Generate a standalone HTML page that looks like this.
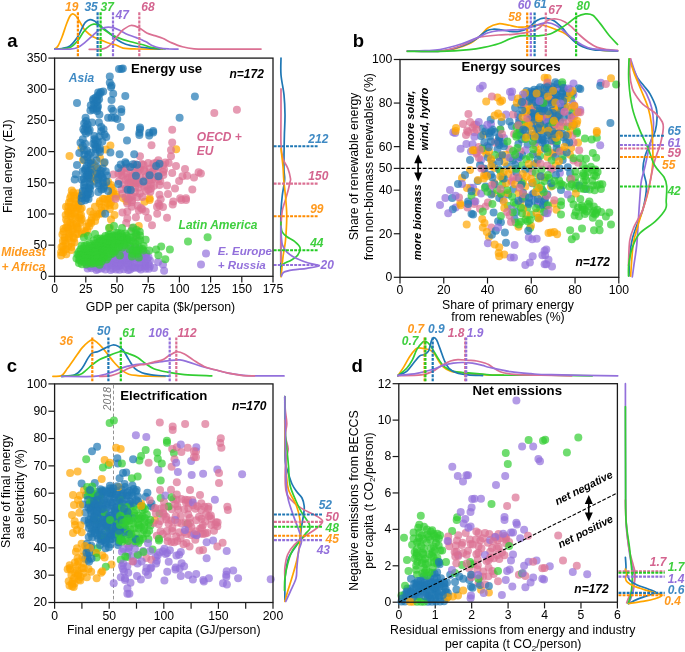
<!DOCTYPE html>
<html><head><meta charset="utf-8"><title>Figure</title>
<style>html,body{margin:0;padding:0;background:#fff;width:685px;height:652px;overflow:hidden}svg{display:block}#w{width:685px;height:652px;will-change:transform}</style>
</head><body><div id="w">
<svg width="685" height="652" viewBox="0 0 685 652" font-family="'Liberation Sans', sans-serif">
<rect width="685" height="652" fill="#fff"/>
<text x="7.2" y="46.5" font-size="18.5" font-weight="bold" font-style="normal" fill="#000" text-anchor="start">a</text>
<text x="352.8" y="46.8" font-size="18.5" font-weight="bold" font-style="normal" fill="#000" text-anchor="start">b</text>
<text x="6.8" y="372.2" font-size="18.5" font-weight="bold" font-style="normal" fill="#000" text-anchor="start">c</text>
<text x="351.4" y="371.6" font-size="18.5" font-weight="bold" font-style="normal" fill="#000" text-anchor="start">d</text>
<line x1="54.6" y1="276.3" x2="54.6" y2="282.5" stroke="#1a1a1a" stroke-width="1.2"/>
<text x="54.6" y="293.3" font-size="12.2" font-weight="normal" font-style="normal" fill="#000" text-anchor="middle">0</text>
<line x1="85.8" y1="276.3" x2="85.8" y2="282.5" stroke="#1a1a1a" stroke-width="1.2"/>
<text x="85.8" y="293.3" font-size="12.2" font-weight="normal" font-style="normal" fill="#000" text-anchor="middle">25</text>
<line x1="117" y1="276.3" x2="117" y2="282.5" stroke="#1a1a1a" stroke-width="1.2"/>
<text x="117" y="293.3" font-size="12.2" font-weight="normal" font-style="normal" fill="#000" text-anchor="middle">50</text>
<line x1="148.2" y1="276.3" x2="148.2" y2="282.5" stroke="#1a1a1a" stroke-width="1.2"/>
<text x="148.2" y="293.3" font-size="12.2" font-weight="normal" font-style="normal" fill="#000" text-anchor="middle">75</text>
<line x1="179.4" y1="276.3" x2="179.4" y2="282.5" stroke="#1a1a1a" stroke-width="1.2"/>
<text x="179.4" y="293.3" font-size="12.2" font-weight="normal" font-style="normal" fill="#000" text-anchor="middle">100</text>
<line x1="210.6" y1="276.3" x2="210.6" y2="282.5" stroke="#1a1a1a" stroke-width="1.2"/>
<text x="210.6" y="293.3" font-size="12.2" font-weight="normal" font-style="normal" fill="#000" text-anchor="middle">125</text>
<line x1="241.8" y1="276.3" x2="241.8" y2="282.5" stroke="#1a1a1a" stroke-width="1.2"/>
<text x="241.8" y="293.3" font-size="12.2" font-weight="normal" font-style="normal" fill="#000" text-anchor="middle">150</text>
<line x1="273" y1="276.3" x2="273" y2="282.5" stroke="#1a1a1a" stroke-width="1.2"/>
<text x="273" y="293.3" font-size="12.2" font-weight="normal" font-style="normal" fill="#000" text-anchor="middle">175</text>
<line x1="48.4" y1="276.3" x2="54.6" y2="276.3" stroke="#1a1a1a" stroke-width="1.2"/>
<text x="47" y="280.2" font-size="12.2" font-weight="normal" font-style="normal" fill="#000" text-anchor="end">0</text>
<line x1="48.4" y1="245.129" x2="54.6" y2="245.129" stroke="#1a1a1a" stroke-width="1.2"/>
<text x="47" y="249.029" font-size="12.2" font-weight="normal" font-style="normal" fill="#000" text-anchor="end">50</text>
<line x1="48.4" y1="213.957" x2="54.6" y2="213.957" stroke="#1a1a1a" stroke-width="1.2"/>
<text x="47" y="217.857" font-size="12.2" font-weight="normal" font-style="normal" fill="#000" text-anchor="end">100</text>
<line x1="48.4" y1="182.786" x2="54.6" y2="182.786" stroke="#1a1a1a" stroke-width="1.2"/>
<text x="47" y="186.686" font-size="12.2" font-weight="normal" font-style="normal" fill="#000" text-anchor="end">150</text>
<line x1="48.4" y1="151.614" x2="54.6" y2="151.614" stroke="#1a1a1a" stroke-width="1.2"/>
<text x="47" y="155.514" font-size="12.2" font-weight="normal" font-style="normal" fill="#000" text-anchor="end">200</text>
<line x1="48.4" y1="120.443" x2="54.6" y2="120.443" stroke="#1a1a1a" stroke-width="1.2"/>
<text x="47" y="124.343" font-size="12.2" font-weight="normal" font-style="normal" fill="#000" text-anchor="end">250</text>
<line x1="48.4" y1="89.2714" x2="54.6" y2="89.2714" stroke="#1a1a1a" stroke-width="1.2"/>
<text x="47" y="93.1714" font-size="12.2" font-weight="normal" font-style="normal" fill="#000" text-anchor="end">300</text>
<line x1="48.4" y1="58.1" x2="54.6" y2="58.1" stroke="#1a1a1a" stroke-width="1.2"/>
<text x="47" y="62" font-size="12.2" font-weight="normal" font-style="normal" fill="#000" text-anchor="end">350</text>
<path d="M54.80,48.80 C55.33,48.33 56.80,47.97 58.00,46.00 C59.20,44.03 60.58,40.67 62.00,37.00 C63.42,33.33 65.17,27.50 66.50,24.00 C67.83,20.50 68.97,17.70 70.00,16.00 C71.03,14.30 71.78,13.88 72.70,13.80 C73.62,13.72 74.67,14.73 75.50,15.50 C76.33,16.27 76.78,16.98 77.70,18.40 C78.62,19.82 79.73,21.95 81.00,24.00 C82.27,26.05 83.30,28.57 85.30,30.70 C87.30,32.83 90.43,35.27 93.00,36.80 C95.57,38.33 98.15,38.87 100.70,39.90 C103.25,40.93 105.87,42.18 108.30,43.00 C110.73,43.82 112.83,43.95 115.30,44.80 C117.77,45.65 119.60,47.40 123.10,48.10 C126.60,48.80 129.72,48.83 136.30,49.00 C142.88,49.17 158.22,49.08 162.60,49.10" stroke="#ffa500" stroke-width="1.7" fill="none" stroke-linejoin="round" stroke-linecap="round"/>
<path d="M54.80,49.10 C56.00,49.00 59.47,49.02 62.00,48.50 C64.53,47.98 67.38,47.95 70.00,46.00 C72.62,44.05 75.65,39.87 77.70,36.80 C79.75,33.73 81.03,30.02 82.30,27.60 C83.57,25.18 84.02,23.63 85.30,22.30 C86.58,20.97 88.47,19.80 90.00,19.60 C91.53,19.40 93.37,20.53 94.50,21.10 C95.63,21.67 95.77,22.17 96.80,23.00 C97.83,23.83 98.78,24.57 100.70,26.10 C102.62,27.63 106.25,30.55 108.30,32.20 C110.35,33.85 111.40,34.67 113.00,36.00 C114.60,37.33 115.77,38.83 117.90,40.20 C120.03,41.57 122.73,43.15 125.80,44.20 C128.87,45.25 132.37,45.85 136.30,46.50 C140.23,47.15 145.45,47.68 149.40,48.10 C153.35,48.52 158.23,48.85 160.00,49.00" stroke="#1f77b4" stroke-width="1.7" fill="none" stroke-linejoin="round" stroke-linecap="round"/>
<path d="M54.80,49.10 C56.00,49.05 59.47,49.05 62.00,48.80 C64.53,48.55 67.38,48.95 70.00,47.60 C72.62,46.25 75.40,43.38 77.70,40.70 C80.00,38.02 81.88,33.93 83.80,31.50 C85.72,29.07 87.53,27.32 89.20,26.10 C90.87,24.88 92.27,24.38 93.80,24.20 C95.33,24.02 97.25,24.55 98.40,25.00 C99.55,25.45 99.68,26.07 100.70,26.90 C101.72,27.73 102.95,28.87 104.50,30.00 C106.05,31.13 107.77,32.43 110.00,33.70 C112.23,34.97 114.62,36.30 117.90,37.60 C121.18,38.90 125.53,40.30 129.70,41.50 C133.87,42.70 139.18,43.80 142.90,44.80 C146.62,45.80 148.28,46.80 152.00,47.50 C155.72,48.20 163.00,48.75 165.20,49.00" stroke="#32cd32" stroke-width="1.7" fill="none" stroke-linejoin="round" stroke-linecap="round"/>
<path d="M54.80,49.20 C57.33,49.18 66.18,49.37 70.00,49.10 C73.82,48.83 75.15,48.75 77.70,47.60 C80.25,46.45 82.75,44.25 85.30,42.20 C87.85,40.15 90.70,37.33 93.00,35.30 C95.30,33.27 97.18,31.28 99.10,30.00 C101.02,28.72 102.97,28.08 104.50,27.60 C106.03,27.12 106.88,27.10 108.30,27.10 C109.72,27.10 111.40,27.20 113.00,27.60 C114.60,28.00 115.77,28.48 117.90,29.50 C120.03,30.52 122.73,32.35 125.80,33.70 C128.87,35.05 133.02,36.30 136.30,37.60 C139.58,38.90 142.88,40.18 145.50,41.50 C148.12,42.82 149.58,44.40 152.00,45.50 C154.42,46.60 157.15,47.52 160.00,48.10 C162.85,48.68 166.10,48.83 169.10,49.00 C172.10,49.17 176.52,49.08 178.00,49.10" stroke="#9370db" stroke-width="1.7" fill="none" stroke-linejoin="round" stroke-linecap="round"/>
<path d="M89.20,49.30 C91.12,49.30 97.77,49.58 100.70,49.30 C103.63,49.02 104.88,48.65 106.80,47.60 C108.72,46.55 110.78,44.45 112.20,43.00 C113.62,41.55 114.03,40.50 115.30,38.90 C116.57,37.30 118.50,34.93 119.80,33.40 C121.10,31.87 121.23,31.02 123.10,29.70 C124.97,28.38 128.37,25.83 131.00,25.50 C133.63,25.17 136.27,26.45 138.90,27.70 C141.53,28.95 144.17,31.68 146.80,33.00 C149.43,34.32 152.07,34.72 154.70,35.60 C157.33,36.48 159.75,37.08 162.60,38.30 C165.45,39.52 168.52,41.48 171.80,42.90 C175.08,44.32 178.58,45.82 182.30,46.80 C186.02,47.78 189.48,48.42 194.10,48.80 C198.72,49.18 198.85,49.05 210.00,49.10 C221.15,49.15 252.50,49.10 261.00,49.10" stroke="#db7093" stroke-width="1.7" fill="none" stroke-linejoin="round" stroke-linecap="round"/>
<line x1="77.9" y1="12.3" x2="77.9" y2="56.6" stroke="#ff8c00" stroke-width="2.2" stroke-dasharray="2.9 1.2"/>
<line x1="97.6" y1="12.3" x2="97.6" y2="56.6" stroke="#1f77b4" stroke-width="2.2" stroke-dasharray="2.9 1.2"/>
<line x1="100.6" y1="12.3" x2="100.6" y2="56.6" stroke="#22cc22" stroke-width="2.2" stroke-dasharray="2.9 1.2"/>
<line x1="113" y1="12.3" x2="113" y2="56.6" stroke="#9370db" stroke-width="2.2" stroke-dasharray="2.9 1.2"/>
<line x1="139.3" y1="12.3" x2="139.3" y2="56.6" stroke="#db7093" stroke-width="2.2" stroke-dasharray="2.9 1.2"/>
<text x="71.8" y="10.6" font-size="12" font-weight="bold" font-style="italic" fill="#ff9a1f" text-anchor="middle">19</text>
<text x="91.1" y="10.6" font-size="12" font-weight="bold" font-style="italic" fill="#3f8ac4" text-anchor="middle">35</text>
<text x="107.2" y="10.6" font-size="12" font-weight="bold" font-style="italic" fill="#3fcf3f" text-anchor="middle">37</text>
<text x="122.3" y="18.7" font-size="12" font-weight="bold" font-style="italic" fill="#9370db" text-anchor="middle">47</text>
<text x="148" y="11.2" font-size="12" font-weight="bold" font-style="italic" fill="#d4648f" text-anchor="middle">68</text>
<path d="M281.00,58.00 C281.00,60.83 280.50,68.85 281.00,75.00 C281.50,81.15 283.33,88.27 284.00,94.90 C284.67,101.53 284.93,108.15 285.00,114.80 C285.07,121.45 284.57,128.15 284.40,134.80 C284.23,141.45 284.07,148.83 284.00,154.70 C283.93,160.57 283.90,165.78 284.00,170.00 C284.10,174.22 284.88,175.77 284.60,180.00 C284.32,184.23 282.90,190.28 282.30,195.40 C281.70,200.52 281.25,206.10 281.00,210.70 C280.75,215.30 280.83,218.12 280.80,223.00 C280.77,227.88 280.80,231.17 280.80,240.00 C280.80,248.83 280.80,270.00 280.80,276.00" stroke="#1f77b4" stroke-width="1.7" fill="none" stroke-linejoin="round" stroke-linecap="round"/>
<path d="M281.00,88.90 C281.00,93.22 281.00,105.50 281.00,114.80 C281.00,124.10 280.67,137.38 281.00,144.70 C281.33,152.02 281.83,154.70 283.00,158.70 C284.17,162.70 286.75,165.38 288.00,168.70 C289.25,172.02 290.17,176.38 290.50,178.60 C290.83,180.82 290.35,180.23 290.00,182.00 C289.65,183.77 289.17,186.20 288.40,189.20 C287.63,192.20 286.42,196.42 285.40,200.00 C284.38,203.58 283.03,206.37 282.30,210.70 C281.57,215.03 281.25,220.88 281.00,226.00 C280.75,231.12 280.83,235.40 280.80,241.40 C280.77,247.40 280.80,258.57 280.80,262.00" stroke="#db7093" stroke-width="1.7" fill="none" stroke-linejoin="round" stroke-linecap="round"/>
<path d="M281.00,148.70 C281.33,151.70 282.53,161.48 283.00,166.70 C283.47,171.92 283.40,175.22 283.80,180.00 C284.20,184.78 284.93,190.28 285.40,195.40 C285.87,200.52 286.40,206.10 286.60,210.70 C286.80,215.30 286.80,217.88 286.60,223.00 C286.40,228.12 286.00,235.77 285.40,241.40 C284.80,247.03 283.65,251.67 283.00,256.80 C282.35,261.93 281.83,268.87 281.50,272.20 C281.17,275.53 281.08,276.03 281.00,276.80" stroke="#ffa500" stroke-width="1.7" fill="none" stroke-linejoin="round" stroke-linecap="round"/>
<path d="M281.00,222.00 C281.00,222.67 280.78,224.30 281.00,226.00 C281.22,227.70 281.32,230.40 282.30,232.20 C283.28,234.00 284.85,235.27 286.90,236.80 C288.95,238.33 292.42,239.60 294.60,241.40 C296.78,243.20 299.50,245.28 300.00,247.60 C300.50,249.92 299.02,253.25 297.60,255.30 C296.18,257.35 293.80,258.50 291.50,259.90 C289.20,261.30 285.47,262.68 283.80,263.70 C282.13,264.72 281.88,265.62 281.50,266.00" stroke="#32cd32" stroke-width="1.7" fill="none" stroke-linejoin="round" stroke-linecap="round"/>
<path d="M281.00,226.00 C281.00,226.78 280.78,227.62 281.00,230.70 C281.22,233.78 281.32,240.92 282.30,244.50 C283.28,248.08 284.60,249.90 286.90,252.20 C289.20,254.50 292.52,256.50 296.10,258.30 C299.68,260.10 304.55,261.77 308.40,263.00 C312.25,264.23 319.45,264.82 319.20,265.70 C318.95,266.58 311.27,267.60 306.90,268.30 C302.53,269.00 296.85,269.25 293.00,269.90 C289.15,270.55 285.72,271.18 283.80,272.20 C281.88,273.22 281.88,275.37 281.50,276.00" stroke="#9370db" stroke-width="1.7" fill="none" stroke-linejoin="round" stroke-linecap="round"/>
<line x1="273.7" y1="146.3" x2="318.3" y2="146.3" stroke="#1f77b4" stroke-width="2.1" stroke-dasharray="2.9 1.2"/>
<line x1="273.7" y1="183.6" x2="318.3" y2="183.6" stroke="#db7093" stroke-width="2.1" stroke-dasharray="2.9 1.2"/>
<line x1="273.7" y1="216.3" x2="318.3" y2="216.3" stroke="#ff8c00" stroke-width="2.1" stroke-dasharray="2.9 1.2"/>
<line x1="273.7" y1="250.2" x2="318.3" y2="250.2" stroke="#22cc22" stroke-width="2.1" stroke-dasharray="2.9 1.2"/>
<line x1="273.7" y1="265" x2="318.3" y2="265" stroke="#9370db" stroke-width="2.1" stroke-dasharray="2.9 1.2"/>
<text x="308.3" y="142.7" font-size="12" font-weight="bold" font-style="italic" fill="#3f8ac4" text-anchor="start">212</text>
<text x="308.3" y="180.2" font-size="12" font-weight="bold" font-style="italic" fill="#d4648f" text-anchor="start">150</text>
<text x="310.2" y="213" font-size="12" font-weight="bold" font-style="italic" fill="#ff9a1f" text-anchor="start">99</text>
<text x="310.2" y="246.8" font-size="12" font-weight="bold" font-style="italic" fill="#3fcf3f" text-anchor="start">44</text>
<text x="320.5" y="269.1" font-size="12" font-weight="bold" font-style="italic" fill="#9370db" text-anchor="start">20</text>
<text x="160.5" y="310.7" font-size="12.3" font-weight="normal" font-style="normal" fill="#000" text-anchor="middle">GDP per capita ($k/person)</text>
<text x="12.2" y="166.3" font-size="12.3" font-weight="normal" font-style="normal" fill="#000" text-anchor="middle" transform="rotate(-90 12.2 166.3)">Final energy (EJ)</text>
<g fill="#9370db" fill-opacity="0.7">
<circle cx="125.2" cy="248.4" r="4"/><circle cx="130.1" cy="248.4" r="4"/><circle cx="131.8" cy="248.4" r="4"/><circle cx="135.9" cy="248.6" r="4"/><circle cx="139.5" cy="248.7" r="4"/><circle cx="117.5" cy="252.0" r="4"/><circle cx="121.4" cy="251.1" r="4"/><circle cx="123.9" cy="250.9" r="4"/><circle cx="128.1" cy="251.8" r="4"/><circle cx="131.6" cy="251.6" r="4"/><circle cx="133.1" cy="250.6" r="4"/><circle cx="136.8" cy="251.0" r="4"/><circle cx="141.5" cy="250.9" r="4"/><circle cx="115.5" cy="254.4" r="4"/><circle cx="118.7" cy="253.8" r="4"/><circle cx="123.2" cy="253.3" r="4"/><circle cx="126.0" cy="254.3" r="4"/><circle cx="129.6" cy="253.8" r="4"/><circle cx="131.4" cy="254.5" r="4"/><circle cx="135.5" cy="254.5" r="4"/><circle cx="140.7" cy="254.5" r="4"/><circle cx="142.8" cy="254.7" r="4"/><circle cx="146.3" cy="253.4" r="4"/><circle cx="114.4" cy="257.5" r="4"/><circle cx="119.3" cy="256.8" r="4"/><circle cx="123.9" cy="257.6" r="4"/><circle cx="126.4" cy="257.7" r="4"/><circle cx="130.2" cy="257.5" r="4"/><circle cx="135.3" cy="257.1" r="4"/><circle cx="141.1" cy="257.4" r="4"/><circle cx="145.5" cy="255.9" r="4"/><circle cx="148.5" cy="257.2" r="4"/><circle cx="102.1" cy="260.8" r="4"/><circle cx="109.2" cy="259.0" r="4"/><circle cx="111.6" cy="260.1" r="4"/><circle cx="115.9" cy="260.3" r="4"/><circle cx="118.8" cy="260.0" r="4"/><circle cx="123.2" cy="260.7" r="4"/><circle cx="125.2" cy="260.7" r="4"/><circle cx="130.1" cy="259.9" r="4"/><circle cx="131.5" cy="258.9" r="4"/><circle cx="137.2" cy="259.2" r="4"/><circle cx="140.3" cy="259.2" r="4"/><circle cx="142.4" cy="259.1" r="4"/><circle cx="147.3" cy="258.9" r="4"/><circle cx="150.0" cy="260.7" r="4"/><circle cx="87.6" cy="263.8" r="4"/><circle cx="95.9" cy="263.7" r="4"/><circle cx="98.8" cy="262.1" r="4"/><circle cx="102.0" cy="262.9" r="4"/><circle cx="107.0" cy="262.0" r="4"/><circle cx="110.4" cy="263.4" r="4"/><circle cx="113.4" cy="262.7" r="4"/><circle cx="115.7" cy="263.0" r="4"/><circle cx="120.1" cy="263.4" r="4"/><circle cx="122.7" cy="262.2" r="4"/><circle cx="126.1" cy="262.9" r="4"/><circle cx="129.7" cy="263.1" r="4"/><circle cx="134.1" cy="262.6" r="4"/><circle cx="137.0" cy="264.0" r="4"/><circle cx="141.3" cy="262.0" r="4"/><circle cx="145.0" cy="263.6" r="4"/><circle cx="148.3" cy="263.9" r="4"/><circle cx="87.1" cy="265.2" r="4"/><circle cx="90.5" cy="266.4" r="4"/><circle cx="94.7" cy="266.7" r="4"/><circle cx="98.2" cy="265.5" r="4"/><circle cx="101.3" cy="266.0" r="4"/><circle cx="105.2" cy="265.1" r="4"/><circle cx="107.3" cy="266.6" r="4"/><circle cx="112.1" cy="265.4" r="4"/><circle cx="115.7" cy="266.7" r="4"/><circle cx="118.9" cy="265.9" r="4"/><circle cx="121.0" cy="265.4" r="4"/><circle cx="126.2" cy="267.1" r="4"/><circle cx="128.2" cy="264.9" r="4"/><circle cx="132.2" cy="267.1" r="4"/><circle cx="135.4" cy="267.1" r="4"/><circle cx="140.2" cy="266.9" r="4"/><circle cx="144.3" cy="266.5" r="4"/><circle cx="145.8" cy="265.9" r="4"/><circle cx="149.8" cy="266.4" r="4"/><circle cx="87.6" cy="268.4" r="4"/><circle cx="91.6" cy="268.3" r="4"/><circle cx="96.4" cy="270.0" r="4"/><circle cx="98.3" cy="269.0" r="4"/><circle cx="101.6" cy="268.4" r="4"/><circle cx="105.4" cy="269.5" r="4"/><circle cx="110.6" cy="269.9" r="4"/><circle cx="112.7" cy="268.8" r="4"/><circle cx="116.1" cy="269.5" r="4"/><circle cx="119.6" cy="269.7" r="4"/><circle cx="123.7" cy="269.2" r="4"/><circle cx="128.2" cy="270.1" r="4"/><circle cx="130.2" cy="269.6" r="4"/><circle cx="133.7" cy="267.9" r="4"/><circle cx="138.7" cy="268.3" r="4"/><circle cx="140.8" cy="269.6" r="4"/><circle cx="145.7" cy="268.8" r="4"/><circle cx="148.8" cy="268.8" r="4"/><circle cx="163.0" cy="264.4" r="4"/><circle cx="164.1" cy="270.7" r="4"/><circle cx="206.0" cy="253.5" r="4"/><circle cx="201.0" cy="264.6" r="4"/><circle cx="158.0" cy="262.0" r="4"/><circle cx="154.0" cy="268.0" r="4"/>
</g>
<g fill="#ffa500" fill-opacity="0.7">
<circle cx="66.0" cy="206.7" r="4"/><circle cx="68.3" cy="207.1" r="4"/><circle cx="70.9" cy="206.9" r="4"/><circle cx="76.1" cy="207.8" r="4"/><circle cx="78.0" cy="206.2" r="4"/><circle cx="81.7" cy="207.9" r="4"/><circle cx="68.0" cy="211.6" r="4"/><circle cx="70.6" cy="210.5" r="4"/><circle cx="72.7" cy="208.5" r="4"/><circle cx="77.6" cy="208.6" r="4"/><circle cx="80.2" cy="209.2" r="4"/><circle cx="68.3" cy="213.8" r="4"/><circle cx="71.9" cy="213.8" r="4"/><circle cx="75.5" cy="212.5" r="4"/><circle cx="81.0" cy="214.9" r="4"/><circle cx="65.7" cy="215.1" r="4"/><circle cx="71.0" cy="216.2" r="4"/><circle cx="75.0" cy="216.1" r="4"/><circle cx="79.0" cy="217.7" r="4"/><circle cx="79.5" cy="215.5" r="4"/><circle cx="66.1" cy="219.4" r="4"/><circle cx="72.9" cy="219.0" r="4"/><circle cx="80.9" cy="220.6" r="4"/><circle cx="81.8" cy="218.9" r="4"/><circle cx="67.4" cy="221.9" r="4"/><circle cx="70.3" cy="222.8" r="4"/><circle cx="72.8" cy="223.7" r="4"/><circle cx="76.3" cy="223.4" r="4"/><circle cx="79.9" cy="222.7" r="4"/><circle cx="66.1" cy="227.2" r="4"/><circle cx="67.6" cy="227.4" r="4"/><circle cx="71.0" cy="225.8" r="4"/><circle cx="76.8" cy="226.6" r="4"/><circle cx="78.0" cy="227.8" r="4"/><circle cx="63.6" cy="228.8" r="4"/><circle cx="68.7" cy="229.7" r="4"/><circle cx="72.9" cy="229.7" r="4"/><circle cx="77.1" cy="229.2" r="4"/><circle cx="63.5" cy="231.5" r="4"/><circle cx="69.6" cy="233.7" r="4"/><circle cx="71.1" cy="231.6" r="4"/><circle cx="76.4" cy="234.1" r="4"/><circle cx="78.3" cy="234.1" r="4"/><circle cx="62.4" cy="234.5" r="4"/><circle cx="64.9" cy="237.4" r="4"/><circle cx="69.2" cy="236.5" r="4"/><circle cx="73.0" cy="236.9" r="4"/><circle cx="64.7" cy="240.2" r="4"/><circle cx="68.6" cy="238.3" r="4"/><circle cx="74.0" cy="238.3" r="4"/><circle cx="62.9" cy="241.0" r="4"/><circle cx="65.9" cy="243.6" r="4"/><circle cx="71.7" cy="242.8" r="4"/><circle cx="74.4" cy="242.5" r="4"/><circle cx="61.5" cy="247.0" r="4"/><circle cx="63.0" cy="245.9" r="4"/><circle cx="68.2" cy="246.2" r="4"/><circle cx="71.3" cy="247.1" r="4"/><circle cx="63.7" cy="250.1" r="4"/><circle cx="65.9" cy="249.3" r="4"/><circle cx="71.4" cy="249.9" r="4"/><circle cx="61.1" cy="252.3" r="4"/><circle cx="63.2" cy="252.4" r="4"/><circle cx="61.1" cy="255.5" r="4"/><circle cx="66.3" cy="254.2" r="4"/><circle cx="73.2" cy="192.5" r="4"/><circle cx="71.1" cy="195.6" r="4"/><circle cx="74.1" cy="195.7" r="4"/><circle cx="79.5" cy="196.1" r="4"/><circle cx="74.3" cy="198.6" r="4"/><circle cx="76.4" cy="200.6" r="4"/><circle cx="70.6" cy="202.0" r="4"/><circle cx="75.2" cy="204.3" r="4"/><circle cx="78.5" cy="204.2" r="4"/><circle cx="112.8" cy="192.9" r="4"/><circle cx="111.0" cy="195.0" r="4"/><circle cx="116.3" cy="194.5" r="4"/><circle cx="107.3" cy="199.4" r="4"/><circle cx="109.6" cy="198.6" r="4"/><circle cx="107.7" cy="203.2" r="4"/><circle cx="110.9" cy="202.6" r="4"/><circle cx="101.9" cy="207.2" r="4"/><circle cx="105.1" cy="207.1" r="4"/><circle cx="109.6" cy="205.0" r="4"/><circle cx="101.4" cy="210.8" r="4"/><circle cx="93.4" cy="213.9" r="4"/><circle cx="97.4" cy="214.1" r="4"/><circle cx="102.0" cy="213.4" r="4"/><circle cx="91.8" cy="217.7" r="4"/><circle cx="96.2" cy="216.7" r="4"/><circle cx="91.1" cy="220.7" r="4"/><circle cx="95.1" cy="221.0" r="4"/><circle cx="88.6" cy="223.0" r="4"/><circle cx="91.3" cy="223.1" r="4"/><circle cx="86.5" cy="226.4" r="4"/><circle cx="89.3" cy="226.3" r="4"/><circle cx="84.3" cy="231.2" r="4"/><circle cx="87.3" cy="230.2" r="4"/><circle cx="82.0" cy="233.4" r="4"/><circle cx="85.5" cy="232.7" r="4"/><circle cx="92.5" cy="162.8" r="4"/><circle cx="94.5" cy="165.3" r="4"/><circle cx="92.1" cy="169.2" r="4"/><circle cx="98.5" cy="168.9" r="4"/><circle cx="95.6" cy="173.1" r="4"/><circle cx="92.6" cy="177.7" r="4"/><circle cx="98.8" cy="178.3" r="4"/><circle cx="94.0" cy="181.1" r="4"/><circle cx="110.4" cy="145.5" r="4"/><circle cx="105.8" cy="149.6" r="4"/><circle cx="69.5" cy="155.9" r="4"/><circle cx="93.1" cy="172.6" r="4"/><circle cx="90.8" cy="178.3" r="4"/><circle cx="108.1" cy="181.8" r="4"/><circle cx="104.6" cy="185.2" r="4"/><circle cx="111.5" cy="187.5" r="4"/><circle cx="116.1" cy="196.7" r="4"/><circle cx="71.8" cy="190.4" r="4"/><circle cx="70.1" cy="197.9" r="4"/><circle cx="78.2" cy="193.3" r="4"/><circle cx="69.0" cy="202.5" r="4"/><circle cx="100.0" cy="201.3" r="4"/><circle cx="104.6" cy="199.0" r="4"/><circle cx="123.0" cy="197.9" r="4"/><circle cx="126.5" cy="201.3" r="4"/><circle cx="144.6" cy="201.7" r="4"/><circle cx="149.7" cy="200.0" r="4"/><circle cx="138.8" cy="225.9" r="4"/><circle cx="176.2" cy="149.3" r="4"/><circle cx="133.1" cy="183.2" r="4"/><circle cx="127.3" cy="199.3" r="4"/><circle cx="149.7" cy="198.2" r="4"/><circle cx="91.5" cy="175.8" r="4"/><circle cx="111.0" cy="185.0" r="4"/><circle cx="113.3" cy="190.7" r="4"/><circle cx="103.0" cy="198.8" r="4"/><circle cx="99.5" cy="203.4" r="4"/><circle cx="94.9" cy="206.8" r="4"/><circle cx="90.3" cy="211.4" r="4"/><circle cx="109.9" cy="209.1" r="4"/><circle cx="114.5" cy="205.7" r="4"/><circle cx="114.5" cy="214.9" r="4"/><circle cx="111.0" cy="219.5" r="4"/><circle cx="109.9" cy="227.5" r="4"/><circle cx="99.5" cy="213.7" r="4"/><circle cx="81.5" cy="148.0" r="4"/><circle cx="83.0" cy="160.0" r="4"/><circle cx="100.0" cy="158.0" r="4"/><circle cx="104.0" cy="163.0" r="4"/>
</g>
<g fill="#db7093" fill-opacity="0.7">
<circle cx="135.1" cy="164.3" r="4"/><circle cx="141.7" cy="163.9" r="4"/><circle cx="148.2" cy="162.9" r="4"/><circle cx="153.4" cy="163.4" r="4"/><circle cx="156.2" cy="162.8" r="4"/><circle cx="163.3" cy="165.1" r="4"/><circle cx="123.8" cy="168.7" r="4"/><circle cx="125.7" cy="167.8" r="4"/><circle cx="131.8" cy="167.1" r="4"/><circle cx="137.9" cy="167.9" r="4"/><circle cx="139.9" cy="169.3" r="4"/><circle cx="144.4" cy="169.7" r="4"/><circle cx="150.0" cy="168.5" r="4"/><circle cx="154.3" cy="168.3" r="4"/><circle cx="158.4" cy="166.8" r="4"/><circle cx="121.2" cy="171.4" r="4"/><circle cx="126.4" cy="173.6" r="4"/><circle cx="130.3" cy="173.2" r="4"/><circle cx="134.4" cy="173.0" r="4"/><circle cx="137.5" cy="172.2" r="4"/><circle cx="144.4" cy="171.3" r="4"/><circle cx="149.3" cy="173.6" r="4"/><circle cx="152.2" cy="171.9" r="4"/><circle cx="156.9" cy="171.9" r="4"/><circle cx="163.3" cy="171.9" r="4"/><circle cx="121.1" cy="175.0" r="4"/><circle cx="127.9" cy="177.9" r="4"/><circle cx="131.8" cy="176.3" r="4"/><circle cx="136.6" cy="177.1" r="4"/><circle cx="140.1" cy="176.7" r="4"/><circle cx="145.8" cy="176.7" r="4"/><circle cx="149.2" cy="175.2" r="4"/><circle cx="154.3" cy="177.7" r="4"/><circle cx="158.9" cy="176.6" r="4"/><circle cx="163.4" cy="175.0" r="4"/><circle cx="118.9" cy="181.3" r="4"/><circle cx="125.8" cy="179.9" r="4"/><circle cx="130.1" cy="180.9" r="4"/><circle cx="135.4" cy="181.8" r="4"/><circle cx="138.4" cy="181.9" r="4"/><circle cx="144.8" cy="180.6" r="4"/><circle cx="149.1" cy="180.3" r="4"/><circle cx="152.1" cy="179.5" r="4"/><circle cx="158.3" cy="179.2" r="4"/><circle cx="160.3" cy="181.3" r="4"/><circle cx="123.5" cy="184.3" r="4"/><circle cx="128.3" cy="182.9" r="4"/><circle cx="131.0" cy="183.6" r="4"/><circle cx="136.1" cy="183.2" r="4"/><circle cx="139.6" cy="183.8" r="4"/><circle cx="146.9" cy="185.9" r="4"/><circle cx="151.0" cy="184.2" r="4"/><circle cx="154.0" cy="185.8" r="4"/><circle cx="159.5" cy="185.0" r="4"/><circle cx="121.4" cy="189.3" r="4"/><circle cx="126.1" cy="188.6" r="4"/><circle cx="129.3" cy="188.6" r="4"/><circle cx="135.2" cy="187.7" r="4"/><circle cx="138.8" cy="187.6" r="4"/><circle cx="144.2" cy="186.7" r="4"/><circle cx="148.5" cy="189.8" r="4"/><circle cx="151.0" cy="188.6" r="4"/><circle cx="122.3" cy="193.8" r="4"/><circle cx="128.5" cy="191.1" r="4"/><circle cx="130.5" cy="191.0" r="4"/><circle cx="134.9" cy="192.1" r="4"/><circle cx="139.8" cy="193.5" r="4"/><circle cx="146.1" cy="191.1" r="4"/><circle cx="150.3" cy="191.7" r="4"/><circle cx="125.6" cy="197.5" r="4"/><circle cx="130.4" cy="197.3" r="4"/><circle cx="132.5" cy="196.2" r="4"/><circle cx="137.3" cy="197.2" r="4"/><circle cx="142.3" cy="197.0" r="4"/><circle cx="128.6" cy="199.0" r="4"/><circle cx="132.1" cy="200.3" r="4"/><circle cx="172.2" cy="129.7" r="4"/><circle cx="151.5" cy="145.3" r="4"/><circle cx="172.2" cy="142.4" r="4"/><circle cx="171.0" cy="156.2" r="4"/><circle cx="140.0" cy="156.2" r="4"/><circle cx="168.7" cy="163.1" r="4"/><circle cx="165.3" cy="162.5" r="4"/><circle cx="172.2" cy="172.9" r="4"/><circle cx="164.1" cy="169.4" r="4"/><circle cx="158.4" cy="160.2" r="4"/><circle cx="143.4" cy="164.8" r="4"/><circle cx="182.5" cy="176.3" r="4"/><circle cx="187.1" cy="175.7" r="4"/><circle cx="194.0" cy="177.5" r="4"/><circle cx="198.6" cy="172.3" r="4"/><circle cx="179.1" cy="180.9" r="4"/><circle cx="175.0" cy="188.4" r="4"/><circle cx="167.0" cy="185.5" r="4"/><circle cx="192.3" cy="189.5" r="4"/><circle cx="180.2" cy="198.2" r="4"/><circle cx="186.0" cy="198.2" r="4"/><circle cx="173.3" cy="201.6" r="4"/><circle cx="159.5" cy="194.7" r="4"/><circle cx="160.7" cy="199.3" r="4"/><circle cx="127.3" cy="203.5" r="4"/><circle cx="131.9" cy="202.3" r="4"/><circle cx="137.7" cy="205.8" r="4"/><circle cx="142.3" cy="209.2" r="4"/><circle cx="145.7" cy="211.5" r="4"/><circle cx="138.8" cy="210.4" r="4"/><circle cx="127.3" cy="211.5" r="4"/><circle cx="127.3" cy="218.4" r="4"/><circle cx="126.2" cy="223.0" r="4"/><circle cx="135.9" cy="217.3" r="4"/><circle cx="158.4" cy="203.5" r="4"/><circle cx="163.0" cy="206.9" r="4"/><circle cx="159.5" cy="205.8" r="4"/><circle cx="157.2" cy="213.8" r="4"/><circle cx="167.0" cy="217.8" r="4"/><circle cx="172.7" cy="204.6" r="4"/><circle cx="181.4" cy="200.0" r="4"/><circle cx="186.0" cy="200.0" r="4"/><circle cx="152.0" cy="225.3" r="4"/><circle cx="136.5" cy="236.8" r="4"/><circle cx="122.5" cy="212.6" r="4"/><circle cx="140.9" cy="208.0" r="4"/><circle cx="131.7" cy="206.8" r="4"/><circle cx="157.0" cy="206.8" r="4"/><circle cx="115.6" cy="198.8" r="4"/><circle cx="113.3" cy="174.6" r="4"/><circle cx="118.4" cy="173.7" r="4"/><circle cx="123.0" cy="176.0" r="4"/><circle cx="214.3" cy="113.0" r="4"/><circle cx="236.9" cy="109.7" r="4"/><circle cx="200.9" cy="173.6" r="4"/><circle cx="171.0" cy="150.0" r="4"/><circle cx="176.0" cy="166.0" r="4"/><circle cx="185.0" cy="169.0" r="4"/><circle cx="168.0" cy="194.0" r="4"/><circle cx="148.0" cy="218.0" r="4"/><circle cx="132.0" cy="228.0" r="4"/>
</g>
<g fill="#1f77b4" fill-opacity="0.7">
<circle cx="87.0" cy="150.6" r="4"/><circle cx="84.4" cy="154.5" r="4"/><circle cx="88.4" cy="154.5" r="4"/><circle cx="87.4" cy="157.3" r="4"/><circle cx="84.0" cy="159.7" r="4"/><circle cx="90.7" cy="160.8" r="4"/><circle cx="86.9" cy="166.1" r="4"/><circle cx="90.6" cy="163.9" r="4"/><circle cx="85.4" cy="168.5" r="4"/><circle cx="90.7" cy="169.4" r="4"/><circle cx="82.7" cy="171.2" r="4"/><circle cx="88.3" cy="173.5" r="4"/><circle cx="90.1" cy="172.7" r="4"/><circle cx="86.3" cy="176.1" r="4"/><circle cx="88.6" cy="176.5" r="4"/><circle cx="83.8" cy="178.4" r="4"/><circle cx="87.7" cy="178.5" r="4"/><circle cx="90.2" cy="178.8" r="4"/><circle cx="84.7" cy="182.7" r="4"/><circle cx="89.8" cy="184.0" r="4"/><circle cx="84.5" cy="188.0" r="4"/><circle cx="88.8" cy="187.5" r="4"/><circle cx="90.9" cy="185.7" r="4"/><circle cx="85.6" cy="190.4" r="4"/><circle cx="89.9" cy="189.1" r="4"/><circle cx="82.2" cy="195.2" r="4"/><circle cx="87.6" cy="194.5" r="4"/><circle cx="90.3" cy="193.7" r="4"/><circle cx="86.4" cy="198.0" r="4"/><circle cx="97.3" cy="167.5" r="4"/><circle cx="102.7" cy="168.4" r="4"/><circle cx="100.8" cy="170.8" r="4"/><circle cx="97.2" cy="173.8" r="4"/><circle cx="100.9" cy="175.2" r="4"/><circle cx="106.9" cy="175.6" r="4"/><circle cx="98.1" cy="177.3" r="4"/><circle cx="103.0" cy="178.8" r="4"/><circle cx="98.2" cy="183.4" r="4"/><circle cx="102.9" cy="182.8" r="4"/><circle cx="106.4" cy="181.9" r="4"/><circle cx="98.8" cy="185.4" r="4"/><circle cx="103.9" cy="186.7" r="4"/><circle cx="101.4" cy="189.4" r="4"/><circle cx="94.3" cy="136.0" r="4"/><circle cx="99.4" cy="136.3" r="4"/><circle cx="95.7" cy="140.5" r="4"/><circle cx="95.0" cy="144.2" r="4"/><circle cx="97.9" cy="142.4" r="4"/><circle cx="97.1" cy="146.9" r="4"/><circle cx="95.6" cy="149.0" r="4"/><circle cx="99.3" cy="150.1" r="4"/><circle cx="98.2" cy="92.4" r="4"/><circle cx="100.9" cy="91.9" r="4"/><circle cx="97.6" cy="96.1" r="4"/><circle cx="99.8" cy="93.8" r="4"/><circle cx="93.3" cy="98.9" r="4"/><circle cx="99.1" cy="99.2" r="4"/><circle cx="97.6" cy="100.5" r="4"/><circle cx="94.2" cy="103.9" r="4"/><circle cx="97.8" cy="105.8" r="4"/><circle cx="93.3" cy="108.1" r="4"/><circle cx="96.6" cy="108.6" r="4"/><circle cx="90.4" cy="110.5" r="4"/><circle cx="86.1" cy="121.1" r="4"/><circle cx="84.2" cy="123.6" r="4"/><circle cx="87.6" cy="124.5" r="4"/><circle cx="85.8" cy="126.4" r="4"/><circle cx="83.3" cy="129.2" r="4"/><circle cx="87.5" cy="128.6" r="4"/><circle cx="86.0" cy="133.6" r="4"/><circle cx="119.0" cy="68.9" r="4"/><circle cx="122.8" cy="68.6" r="4"/><circle cx="121.3" cy="68.9" r="4"/><circle cx="109.8" cy="76.4" r="4"/><circle cx="109.8" cy="82.7" r="4"/><circle cx="111.5" cy="85.6" r="4"/><circle cx="111.0" cy="87.3" r="4"/><circle cx="113.2" cy="93.7" r="4"/><circle cx="111.5" cy="100.0" r="4"/><circle cx="125.3" cy="96.0" r="4"/><circle cx="103.2" cy="91.4" r="4"/><circle cx="95.4" cy="97.7" r="4"/><circle cx="93.1" cy="100.6" r="4"/><circle cx="96.6" cy="101.7" r="4"/><circle cx="77.0" cy="102.9" r="4"/><circle cx="90.8" cy="105.2" r="4"/><circle cx="97.7" cy="107.5" r="4"/><circle cx="93.1" cy="109.8" r="4"/><circle cx="97.1" cy="110.9" r="4"/><circle cx="99.4" cy="114.4" r="4"/><circle cx="111.5" cy="108.6" r="4"/><circle cx="113.2" cy="110.9" r="4"/><circle cx="121.3" cy="109.2" r="4"/><circle cx="121.3" cy="112.1" r="4"/><circle cx="108.1" cy="117.8" r="4"/><circle cx="111.5" cy="117.8" r="4"/><circle cx="115.0" cy="117.8" r="4"/><circle cx="117.3" cy="119.0" r="4"/><circle cx="85.6" cy="117.8" r="4"/><circle cx="92.0" cy="122.4" r="4"/><circle cx="98.9" cy="122.4" r="4"/><circle cx="101.2" cy="127.0" r="4"/><circle cx="103.5" cy="129.3" r="4"/><circle cx="120.7" cy="127.0" r="4"/><circle cx="89.7" cy="129.9" r="4"/><circle cx="84.5" cy="131.2" r="4"/><circle cx="88.5" cy="131.7" r="4"/><circle cx="101.2" cy="131.2" r="4"/><circle cx="104.6" cy="134.6" r="4"/><circle cx="106.3" cy="136.9" r="4"/><circle cx="82.8" cy="139.2" r="4"/><circle cx="80.5" cy="142.7" r="4"/><circle cx="85.1" cy="143.8" r="4"/><circle cx="82.8" cy="146.1" r="4"/><circle cx="94.3" cy="139.2" r="4"/><circle cx="93.1" cy="143.8" r="4"/><circle cx="95.4" cy="147.3" r="4"/><circle cx="100.0" cy="148.4" r="4"/><circle cx="102.3" cy="141.5" r="4"/><circle cx="127.0" cy="140.4" r="4"/><circle cx="79.3" cy="153.0" r="4"/><circle cx="83.9" cy="150.1" r="4"/><circle cx="90.8" cy="153.0" r="4"/><circle cx="95.4" cy="154.2" r="4"/><circle cx="100.0" cy="151.9" r="4"/><circle cx="110.4" cy="152.4" r="4"/><circle cx="119.6" cy="154.2" r="4"/><circle cx="88.5" cy="162.2" r="4"/><circle cx="85.1" cy="170.3" r="4"/><circle cx="88.5" cy="171.4" r="4"/><circle cx="87.4" cy="174.9" r="4"/><circle cx="77.0" cy="165.1" r="4"/><circle cx="75.9" cy="174.3" r="4"/><circle cx="74.7" cy="179.5" r="4"/><circle cx="81.6" cy="179.5" r="4"/><circle cx="105.8" cy="171.4" r="4"/><circle cx="100.0" cy="173.7" r="4"/><circle cx="97.7" cy="179.5" r="4"/><circle cx="102.3" cy="177.2" r="4"/><circle cx="120.7" cy="164.5" r="4"/><circle cx="118.4" cy="168.0" r="4"/><circle cx="125.3" cy="162.2" r="4"/><circle cx="118.4" cy="184.1" r="4"/><circle cx="127.6" cy="189.8" r="4"/><circle cx="83.9" cy="185.2" r="4"/><circle cx="82.8" cy="191.0" r="4"/><circle cx="88.5" cy="192.1" r="4"/><circle cx="86.2" cy="195.6" r="4"/><circle cx="81.6" cy="197.9" r="4"/><circle cx="85.1" cy="200.2" r="4"/><circle cx="88.5" cy="199.0" r="4"/><circle cx="103.5" cy="188.7" r="4"/><circle cx="108.1" cy="191.0" r="4"/><circle cx="96.6" cy="160.5" r="4"/><circle cx="104.6" cy="162.2" r="4"/><circle cx="98.3" cy="192.1" r="4"/><circle cx="194.9" cy="96.5" r="4"/><circle cx="179.6" cy="117.8" r="4"/><circle cx="140.0" cy="127.6" r="4"/><circle cx="153.2" cy="131.0" r="4"/><circle cx="149.2" cy="132.8" r="4"/><circle cx="139.4" cy="132.8" r="4"/><circle cx="140.0" cy="129.2" r="4"/><circle cx="139.4" cy="134.9" r="4"/><circle cx="149.2" cy="135.5" r="4"/><circle cx="153.2" cy="132.6" r="4"/><circle cx="134.2" cy="154.2" r="4"/><circle cx="126.2" cy="163.7" r="4"/><circle cx="133.1" cy="164.2" r="4"/><circle cx="137.1" cy="164.8" r="4"/><circle cx="130.2" cy="167.1" r="4"/><circle cx="135.9" cy="175.7" r="4"/><circle cx="143.4" cy="181.5" r="4"/><circle cx="149.7" cy="175.2" r="4"/><circle cx="158.4" cy="176.3" r="4"/><circle cx="156.1" cy="166.0" r="4"/><circle cx="159.5" cy="163.7" r="4"/><circle cx="130.8" cy="190.1" r="4"/><circle cx="105.2" cy="213.8" r="4"/><circle cx="81.6" cy="201.2" r="4"/>
</g>
<g fill="#32cd32" fill-opacity="0.7">
<circle cx="116.3" cy="233.0" r="4"/><circle cx="118.0" cy="232.9" r="4"/><circle cx="121.0" cy="233.4" r="4"/><circle cx="125.2" cy="233.5" r="4"/><circle cx="105.4" cy="235.9" r="4"/><circle cx="108.6" cy="234.7" r="4"/><circle cx="110.5" cy="234.2" r="4"/><circle cx="113.3" cy="235.9" r="4"/><circle cx="118.1" cy="235.6" r="4"/><circle cx="122.5" cy="235.9" r="4"/><circle cx="126.6" cy="235.6" r="4"/><circle cx="97.3" cy="238.6" r="4"/><circle cx="100.4" cy="238.6" r="4"/><circle cx="103.5" cy="238.5" r="4"/><circle cx="107.3" cy="238.2" r="4"/><circle cx="109.2" cy="237.0" r="4"/><circle cx="111.8" cy="237.0" r="4"/><circle cx="116.1" cy="236.8" r="4"/><circle cx="118.2" cy="237.9" r="4"/><circle cx="121.1" cy="237.4" r="4"/><circle cx="124.2" cy="238.1" r="4"/><circle cx="127.0" cy="238.8" r="4"/><circle cx="93.6" cy="240.4" r="4"/><circle cx="99.8" cy="240.9" r="4"/><circle cx="101.4" cy="240.4" r="4"/><circle cx="105.5" cy="240.0" r="4"/><circle cx="108.7" cy="241.2" r="4"/><circle cx="112.2" cy="239.9" r="4"/><circle cx="113.6" cy="241.1" r="4"/><circle cx="117.5" cy="241.0" r="4"/><circle cx="121.1" cy="239.9" r="4"/><circle cx="123.5" cy="239.9" r="4"/><circle cx="126.9" cy="240.7" r="4"/><circle cx="89.7" cy="243.6" r="4"/><circle cx="95.3" cy="243.4" r="4"/><circle cx="96.8" cy="243.5" r="4"/><circle cx="100.2" cy="243.6" r="4"/><circle cx="103.4" cy="242.7" r="4"/><circle cx="106.1" cy="243.7" r="4"/><circle cx="109.2" cy="243.7" r="4"/><circle cx="116.1" cy="243.0" r="4"/><circle cx="117.8" cy="243.6" r="4"/><circle cx="121.3" cy="241.9" r="4"/><circle cx="125.4" cy="243.4" r="4"/><circle cx="127.6" cy="242.3" r="4"/><circle cx="84.4" cy="246.0" r="4"/><circle cx="86.6" cy="244.9" r="4"/><circle cx="90.3" cy="246.1" r="4"/><circle cx="93.9" cy="246.3" r="4"/><circle cx="96.2" cy="246.0" r="4"/><circle cx="98.5" cy="245.3" r="4"/><circle cx="101.4" cy="246.3" r="4"/><circle cx="106.3" cy="245.9" r="4"/><circle cx="108.8" cy="245.3" r="4"/><circle cx="111.9" cy="244.7" r="4"/><circle cx="114.0" cy="245.2" r="4"/><circle cx="119.6" cy="244.7" r="4"/><circle cx="124.0" cy="245.2" r="4"/><circle cx="80.6" cy="249.2" r="4"/><circle cx="83.6" cy="248.6" r="4"/><circle cx="86.6" cy="249.0" r="4"/><circle cx="89.8" cy="247.7" r="4"/><circle cx="92.5" cy="248.7" r="4"/><circle cx="98.6" cy="248.1" r="4"/><circle cx="100.9" cy="249.0" r="4"/><circle cx="103.8" cy="247.6" r="4"/><circle cx="107.2" cy="248.2" r="4"/><circle cx="109.3" cy="248.6" r="4"/><circle cx="113.6" cy="247.6" r="4"/><circle cx="116.5" cy="248.7" r="4"/><circle cx="118.8" cy="247.5" r="4"/><circle cx="122.1" cy="247.7" r="4"/><circle cx="79.0" cy="251.8" r="4"/><circle cx="84.4" cy="251.3" r="4"/><circle cx="86.3" cy="251.1" r="4"/><circle cx="89.7" cy="251.7" r="4"/><circle cx="93.1" cy="251.7" r="4"/><circle cx="96.2" cy="251.1" r="4"/><circle cx="98.3" cy="250.1" r="4"/><circle cx="101.9" cy="250.5" r="4"/><circle cx="104.6" cy="250.6" r="4"/><circle cx="107.4" cy="250.9" r="4"/><circle cx="112.3" cy="251.5" r="4"/><circle cx="114.6" cy="251.8" r="4"/><circle cx="77.5" cy="254.3" r="4"/><circle cx="80.8" cy="253.9" r="4"/><circle cx="85.9" cy="253.3" r="4"/><circle cx="88.7" cy="252.9" r="4"/><circle cx="90.8" cy="253.6" r="4"/><circle cx="95.0" cy="252.5" r="4"/><circle cx="98.7" cy="254.2" r="4"/><circle cx="101.6" cy="253.5" r="4"/><circle cx="103.6" cy="253.3" r="4"/><circle cx="106.5" cy="254.3" r="4"/><circle cx="110.7" cy="254.2" r="4"/><circle cx="112.8" cy="253.4" r="4"/><circle cx="79.0" cy="255.1" r="4"/><circle cx="81.9" cy="255.5" r="4"/><circle cx="84.9" cy="256.6" r="4"/><circle cx="88.3" cy="255.3" r="4"/><circle cx="91.3" cy="255.3" r="4"/><circle cx="93.0" cy="255.0" r="4"/><circle cx="96.3" cy="255.1" r="4"/><circle cx="99.4" cy="256.9" r="4"/><circle cx="102.9" cy="256.3" r="4"/><circle cx="104.4" cy="257.0" r="4"/><circle cx="108.0" cy="256.9" r="4"/><circle cx="76.5" cy="258.6" r="4"/><circle cx="79.5" cy="258.4" r="4"/><circle cx="83.4" cy="257.9" r="4"/><circle cx="85.0" cy="258.5" r="4"/><circle cx="88.4" cy="258.5" r="4"/><circle cx="92.6" cy="259.5" r="4"/><circle cx="95.5" cy="259.5" r="4"/><circle cx="97.2" cy="258.3" r="4"/><circle cx="103.3" cy="258.1" r="4"/><circle cx="106.5" cy="259.5" r="4"/><circle cx="79.3" cy="260.2" r="4"/><circle cx="81.2" cy="260.7" r="4"/><circle cx="84.1" cy="261.9" r="4"/><circle cx="88.3" cy="261.0" r="4"/><circle cx="90.7" cy="262.0" r="4"/><circle cx="96.2" cy="261.9" r="4"/><circle cx="98.9" cy="262.0" r="4"/><circle cx="101.6" cy="261.6" r="4"/><circle cx="78.9" cy="263.1" r="4"/><circle cx="81.9" cy="264.2" r="4"/><circle cx="86.4" cy="264.2" r="4"/><circle cx="89.1" cy="262.8" r="4"/><circle cx="91.5" cy="263.7" r="4"/><circle cx="94.5" cy="263.3" r="4"/><circle cx="133.2" cy="227.5" r="4"/><circle cx="131.2" cy="231.2" r="4"/><circle cx="135.5" cy="232.9" r="4"/><circle cx="139.8" cy="231.8" r="4"/><circle cx="129.5" cy="237.4" r="4"/><circle cx="133.0" cy="237.5" r="4"/><circle cx="140.1" cy="235.5" r="4"/><circle cx="130.9" cy="240.3" r="4"/><circle cx="138.1" cy="241.0" r="4"/><circle cx="140.1" cy="240.1" r="4"/><circle cx="130.2" cy="246.3" r="4"/><circle cx="135.1" cy="246.7" r="4"/><circle cx="139.1" cy="247.6" r="4"/><circle cx="143.6" cy="246.1" r="4"/><circle cx="132.7" cy="250.7" r="4"/><circle cx="137.8" cy="250.5" r="4"/><circle cx="142.2" cy="248.7" r="4"/><circle cx="132.5" cy="253.7" r="4"/><circle cx="137.6" cy="253.8" r="4"/><circle cx="83.9" cy="237.4" r="4"/><circle cx="81.6" cy="245.4" r="4"/><circle cx="136.5" cy="229.9" r="4"/><circle cx="136.5" cy="234.5" r="4"/><circle cx="145.7" cy="239.7" r="4"/><circle cx="133.1" cy="241.4" r="4"/><circle cx="135.4" cy="243.7" r="4"/><circle cx="129.6" cy="249.5" r="4"/><circle cx="136.5" cy="251.8" r="4"/><circle cx="143.4" cy="250.6" r="4"/><circle cx="149.2" cy="250.6" r="4"/><circle cx="156.1" cy="249.5" r="4"/><circle cx="161.2" cy="246.6" r="4"/><circle cx="169.9" cy="249.5" r="4"/><circle cx="158.4" cy="255.2" r="4"/><circle cx="165.3" cy="259.2" r="4"/><circle cx="138.8" cy="257.5" r="4"/><circle cx="131.9" cy="256.4" r="4"/><circle cx="188.0" cy="241.4" r="4"/><circle cx="207.6" cy="237.3" r="4"/><circle cx="109.0" cy="228.0" r="4"/><circle cx="114.0" cy="226.0" r="4"/><circle cx="122.0" cy="228.0" r="4"/><circle cx="95.0" cy="234.0" r="4"/><circle cx="88.0" cy="236.0" r="4"/><circle cx="99.6" cy="264.7" r="4"/><circle cx="119.9" cy="255.5" r="4"/>
</g>
<rect x="54.6" y="58.1" width="218.4" height="218.2" fill="none" stroke="#1a1a1a" stroke-width="1.3"/>
<text x="131" y="73.2" font-size="13.2" font-weight="bold" font-style="normal" fill="#000" text-anchor="start">Energy use</text>
<text x="229.5" y="77.9" font-size="12" font-weight="bold" font-style="italic" fill="#000" text-anchor="start">n=172</text>
<text x="68.8" y="82.1" font-size="12" font-weight="bold" font-style="italic" fill="#3f8ac4" text-anchor="start">Asia</text>
<text x="196.8" y="140.8" font-size="12" font-weight="bold" font-style="italic" fill="#d4648f" text-anchor="start">OECD +</text>
<text x="196.8" y="154.8" font-size="12" font-weight="bold" font-style="italic" fill="#d4648f" text-anchor="start">EU</text>
<text x="178.6" y="229.4" font-size="12" font-weight="bold" font-style="italic" fill="#3fcf3f" text-anchor="start">Latin America</text>
<text x="217.8" y="254.7" font-size="11.6" font-weight="bold" font-style="italic" fill="#9370db" text-anchor="start">E. Europe</text>
<text x="217.8" y="269.1" font-size="11.6" font-weight="bold" font-style="italic" fill="#9370db" text-anchor="start">+ Russia</text>
<text x="1.2" y="256.3" font-size="12" font-weight="bold" font-style="italic" fill="#ff9a1f" text-anchor="start">Mideast</text>
<text x="1.6" y="270.6" font-size="12" font-weight="bold" font-style="italic" fill="#ff9a1f" text-anchor="start">+ Africa</text>
<line x1="400" y1="277.3" x2="400" y2="283.5" stroke="#1a1a1a" stroke-width="1.2"/>
<text x="400" y="294.3" font-size="12.2" font-weight="normal" font-style="normal" fill="#000" text-anchor="middle">0</text>
<line x1="443.76" y1="277.3" x2="443.76" y2="283.5" stroke="#1a1a1a" stroke-width="1.2"/>
<text x="443.76" y="294.3" font-size="12.2" font-weight="normal" font-style="normal" fill="#000" text-anchor="middle">20</text>
<line x1="487.52" y1="277.3" x2="487.52" y2="283.5" stroke="#1a1a1a" stroke-width="1.2"/>
<text x="487.52" y="294.3" font-size="12.2" font-weight="normal" font-style="normal" fill="#000" text-anchor="middle">40</text>
<line x1="531.28" y1="277.3" x2="531.28" y2="283.5" stroke="#1a1a1a" stroke-width="1.2"/>
<text x="531.28" y="294.3" font-size="12.2" font-weight="normal" font-style="normal" fill="#000" text-anchor="middle">60</text>
<line x1="575.04" y1="277.3" x2="575.04" y2="283.5" stroke="#1a1a1a" stroke-width="1.2"/>
<text x="575.04" y="294.3" font-size="12.2" font-weight="normal" font-style="normal" fill="#000" text-anchor="middle">80</text>
<line x1="618.8" y1="277.3" x2="618.8" y2="283.5" stroke="#1a1a1a" stroke-width="1.2"/>
<text x="618.8" y="294.3" font-size="12.2" font-weight="normal" font-style="normal" fill="#000" text-anchor="middle">100</text>
<line x1="393.8" y1="277.3" x2="400" y2="277.3" stroke="#1a1a1a" stroke-width="1.2"/>
<text x="392.4" y="281.2" font-size="12.2" font-weight="normal" font-style="normal" fill="#000" text-anchor="end">0</text>
<line x1="393.8" y1="233.74" x2="400" y2="233.74" stroke="#1a1a1a" stroke-width="1.2"/>
<text x="392.4" y="237.64" font-size="12.2" font-weight="normal" font-style="normal" fill="#000" text-anchor="end">20</text>
<line x1="393.8" y1="190.18" x2="400" y2="190.18" stroke="#1a1a1a" stroke-width="1.2"/>
<text x="392.4" y="194.08" font-size="12.2" font-weight="normal" font-style="normal" fill="#000" text-anchor="end">40</text>
<line x1="393.8" y1="168.4" x2="400" y2="168.4" stroke="#1a1a1a" stroke-width="1.2"/>
<text x="392.4" y="172.3" font-size="12.2" font-weight="normal" font-style="normal" fill="#000" text-anchor="end">50</text>
<line x1="393.8" y1="146.62" x2="400" y2="146.62" stroke="#1a1a1a" stroke-width="1.2"/>
<text x="392.4" y="150.52" font-size="12.2" font-weight="normal" font-style="normal" fill="#000" text-anchor="end">60</text>
<line x1="393.8" y1="103.06" x2="400" y2="103.06" stroke="#1a1a1a" stroke-width="1.2"/>
<text x="392.4" y="106.96" font-size="12.2" font-weight="normal" font-style="normal" fill="#000" text-anchor="end">80</text>
<line x1="393.8" y1="59.5" x2="400" y2="59.5" stroke="#1a1a1a" stroke-width="1.2"/>
<text x="392.4" y="63.4" font-size="12.2" font-weight="normal" font-style="normal" fill="#000" text-anchor="end">100</text>
<path d="M407.40,51.10 C412.83,51.10 432.13,51.47 440.00,51.10 C447.87,50.73 449.73,50.12 454.60,48.90 C459.47,47.68 465.07,45.87 469.20,43.80 C473.33,41.73 476.23,39.18 479.40,36.50 C482.57,33.82 485.03,29.82 488.20,27.70 C491.37,25.58 495.23,24.28 498.40,23.80 C501.57,23.32 504.03,24.27 507.20,24.80 C510.37,25.33 514.48,26.63 517.40,27.00 C520.32,27.37 522.03,27.25 524.70,27.00 C527.37,26.75 530.85,25.87 533.40,25.50 C535.95,25.13 538.13,24.80 540.00,24.80 C541.87,24.80 542.37,24.88 544.60,25.50 C546.83,26.12 550.23,27.28 553.40,28.50 C556.57,29.72 560.68,31.22 563.60,32.80 C566.52,34.38 568.47,36.17 570.90,38.00 C573.33,39.83 575.28,42.10 578.20,43.80 C581.12,45.50 584.27,47.10 588.40,48.20 C592.53,49.30 598.13,49.97 603.00,50.40 C607.87,50.83 615.17,50.73 617.60,50.80" stroke="#ffa500" stroke-width="1.7" fill="none" stroke-linejoin="round" stroke-linecap="round"/>
<path d="M407.40,51.10 C412.83,51.10 430.92,51.95 440.00,51.10 C449.08,50.25 455.82,48.07 461.90,46.00 C467.98,43.93 472.37,41.25 476.50,38.70 C480.63,36.15 483.78,32.28 486.70,30.70 C489.62,29.12 491.57,29.33 494.00,29.20 C496.43,29.07 498.62,29.53 501.30,29.90 C503.98,30.27 507.18,31.15 510.10,31.40 C513.02,31.65 515.88,31.88 518.80,31.40 C521.72,30.92 524.92,30.08 527.60,28.50 C530.28,26.92 532.83,23.48 534.90,21.90 C536.97,20.32 538.38,19.62 540.00,19.00 C541.62,18.38 542.37,17.97 544.60,18.20 C546.83,18.43 550.48,18.82 553.40,20.40 C556.32,21.98 559.43,25.02 562.10,27.70 C564.77,30.38 567.20,34.07 569.40,36.50 C571.60,38.93 573.10,40.60 575.30,42.30 C577.50,44.00 579.68,45.48 582.60,46.70 C585.52,47.92 589.40,48.98 592.80,49.60 C596.20,50.22 598.87,50.15 603.00,50.40 C607.13,50.65 615.17,50.98 617.60,51.10" stroke="#1f77b4" stroke-width="1.7" fill="none" stroke-linejoin="round" stroke-linecap="round"/>
<path d="M407.40,51.10 C412.83,51.10 430.92,52.07 440.00,51.10 C449.08,50.13 455.82,47.45 461.90,45.30 C467.98,43.15 472.85,39.67 476.50,38.20 C480.15,36.73 480.15,37.03 483.80,36.50 C487.45,35.97 493.53,35.37 498.40,35.00 C503.27,34.63 508.62,34.67 513.00,34.30 C517.38,33.93 521.30,33.40 524.70,32.80 C528.10,32.20 530.85,31.63 533.40,30.70 C535.95,29.77 537.65,28.92 540.00,27.20 C542.35,25.48 544.78,21.77 547.50,20.40 C550.22,19.03 553.38,18.75 556.30,19.00 C559.22,19.25 562.33,20.45 565.00,21.90 C567.67,23.35 569.87,25.52 572.30,27.70 C574.73,29.88 576.92,32.57 579.60,35.00 C582.28,37.43 585.47,40.23 588.40,42.30 C591.33,44.37 594.03,46.18 597.20,47.40 C600.37,48.62 604.00,49.10 607.40,49.60 C610.80,50.10 615.90,50.27 617.60,50.40" stroke="#db7093" stroke-width="1.7" fill="none" stroke-linejoin="round" stroke-linecap="round"/>
<path d="M407.40,51.10 C410.33,51.02 419.57,50.85 425.00,50.60 C430.43,50.35 433.85,50.73 440.00,49.60 C446.15,48.47 455.82,45.73 461.90,43.80 C467.98,41.87 472.12,39.83 476.50,38.00 C480.88,36.17 484.55,34.02 488.20,32.80 C491.85,31.58 494.27,31.18 498.40,30.70 C502.53,30.22 508.62,30.15 513.00,29.90 C517.38,29.65 521.30,29.77 524.70,29.20 C528.10,28.63 530.85,27.35 533.40,26.50 C535.95,25.65 537.65,24.75 540.00,24.10 C542.35,23.45 544.78,22.37 547.50,22.60 C550.22,22.83 553.38,23.92 556.30,25.50 C559.22,27.08 562.08,29.78 565.00,32.10 C567.92,34.42 570.87,37.20 573.80,39.40 C576.73,41.60 579.43,43.72 582.60,45.30 C585.77,46.88 586.97,47.98 592.80,48.90 C598.63,49.82 613.47,50.48 617.60,50.80" stroke="#9370db" stroke-width="1.7" fill="none" stroke-linejoin="round" stroke-linecap="round"/>
<path d="M407.40,51.40 C412.83,51.40 429.70,51.70 440.00,51.40 C450.30,51.10 461.90,50.27 469.20,49.60 C476.50,48.93 478.93,48.37 483.80,47.40 C488.67,46.43 494.02,45.25 498.40,43.80 C502.78,42.35 506.45,40.03 510.10,38.70 C513.75,37.37 516.98,36.28 520.30,35.80 C523.62,35.32 526.92,35.80 530.00,35.80 C533.08,35.80 535.63,36.05 538.80,35.80 C541.97,35.55 545.60,35.40 549.00,34.30 C552.40,33.20 556.03,31.02 559.20,29.20 C562.37,27.38 565.08,25.47 568.00,23.40 C570.92,21.33 573.78,18.38 576.70,16.80 C579.62,15.22 582.82,14.15 585.50,13.90 C588.18,13.65 590.37,13.72 592.80,15.30 C595.23,16.88 597.43,20.12 600.10,23.40 C602.77,26.68 605.88,31.48 608.80,35.00 C611.72,38.52 616.13,42.92 617.60,44.50" stroke="#32cd32" stroke-width="1.7" fill="none" stroke-linejoin="round" stroke-linecap="round"/>
<line x1="527.2" y1="12.4" x2="527.2" y2="57.5" stroke="#ff8c00" stroke-width="2.2" stroke-dasharray="2.9 1.2"/>
<line x1="530.8" y1="12.4" x2="530.8" y2="57.5" stroke="#9370db" stroke-width="2.2" stroke-dasharray="2.9 1.2"/>
<line x1="534.6" y1="12.4" x2="534.6" y2="57.5" stroke="#1f77b4" stroke-width="2.2" stroke-dasharray="2.9 1.2"/>
<line x1="545.8" y1="12.4" x2="545.8" y2="57.5" stroke="#db7093" stroke-width="2.2" stroke-dasharray="2.9 1.2"/>
<line x1="576.1" y1="12.4" x2="576.1" y2="57.5" stroke="#22cc22" stroke-width="2.2" stroke-dasharray="2.9 1.2"/>
<text x="508.2" y="21.2" font-size="12" font-weight="bold" font-style="italic" fill="#ff9a1f" text-anchor="start">58</text>
<text x="517.7" y="8.8" font-size="12" font-weight="bold" font-style="italic" fill="#9370db" text-anchor="start">60</text>
<text x="533.7" y="8" font-size="12" font-weight="bold" font-style="italic" fill="#3f8ac4" text-anchor="start">61</text>
<text x="548.3" y="13.9" font-size="12" font-weight="bold" font-style="italic" fill="#d4648f" text-anchor="start">67</text>
<text x="576.6" y="9.5" font-size="12" font-weight="bold" font-style="italic" fill="#3fcf3f" text-anchor="start">80</text>
<path d="M629.70,58.90 C630.25,60.42 631.68,64.83 633.00,68.00 C634.32,71.17 635.77,74.90 637.60,77.90 C639.43,80.90 641.93,83.35 644.00,86.00 C646.07,88.65 647.97,90.15 650.00,93.80 C652.03,97.45 655.03,103.78 656.20,107.90 C657.37,112.02 657.15,114.68 657.00,118.50 C656.85,122.32 656.47,126.68 655.30,130.80 C654.13,134.92 651.77,138.78 650.00,143.20 C648.23,147.62 645.87,152.90 644.70,157.30 C643.53,161.70 642.70,164.78 643.00,169.60 C643.30,174.42 646.50,179.62 646.50,186.20 C646.50,192.78 644.48,202.93 643.00,209.10 C641.52,215.27 639.38,218.20 637.60,223.20 C635.82,228.20 633.62,233.52 632.30,239.10 C630.98,244.68 630.25,250.55 629.70,256.70 C629.15,262.85 629.12,272.78 629.00,276.00" stroke="#1f77b4" stroke-width="1.7" fill="none" stroke-linejoin="round" stroke-linecap="round"/>
<path d="M630.60,58.90 C631.33,61.08 633.43,67.82 635.00,72.00 C636.57,76.18 638.08,80.37 640.00,84.00 C641.92,87.63 644.55,89.82 646.50,93.80 C648.45,97.78 650.53,103.20 651.70,107.90 C652.87,112.60 653.35,117.58 653.50,122.00 C653.65,126.42 653.48,129.40 652.60,134.40 C651.72,139.40 649.52,146.42 648.20,152.00 C646.88,157.58 645.82,163.23 644.70,167.90 C643.58,172.57 642.23,176.07 641.50,180.00 C640.77,183.93 640.80,185.18 640.30,191.50 C639.80,197.82 639.08,209.08 638.50,217.90 C637.92,226.72 637.53,236.75 636.80,244.40 C636.07,252.05 634.85,258.37 634.10,263.80 C633.35,269.23 632.60,274.80 632.30,277.00" stroke="#9370db" stroke-width="1.7" fill="none" stroke-linejoin="round" stroke-linecap="round"/>
<path d="M629.70,58.90 C630.42,61.18 632.08,67.37 634.00,72.60 C635.92,77.83 638.83,84.42 641.20,90.30 C643.57,96.18 646.45,102.03 648.20,107.90 C649.95,113.77 650.97,119.62 651.70,125.50 C652.43,131.38 652.45,136.62 652.60,143.20 C652.75,149.78 653.33,156.95 652.60,165.00 C651.87,173.05 649.80,184.15 648.20,191.50 C646.60,198.85 644.77,203.23 643.00,209.10 C641.23,214.97 639.23,220.82 637.60,226.70 C635.97,232.58 634.37,236.17 633.20,244.40 C632.03,252.63 631.03,270.82 630.60,276.10" stroke="#ffa500" stroke-width="1.7" fill="none" stroke-linejoin="round" stroke-linecap="round"/>
<path d="M630.60,58.90 C630.45,61.18 629.42,67.67 629.70,72.60 C629.98,77.53 631.08,84.43 632.30,88.50 C633.52,92.57 635.22,94.35 637.00,97.00 C638.78,99.65 639.95,101.70 643.00,104.40 C646.05,107.10 652.08,110.27 655.30,113.20 C658.52,116.13 660.98,119.35 662.30,122.00 C663.62,124.65 663.48,125.57 663.20,129.10 C662.92,132.63 661.63,139.08 660.60,143.20 C659.57,147.32 658.18,150.17 657.00,153.80 C655.82,157.43 654.82,159.60 653.50,165.00 C652.18,170.40 650.85,178.85 649.10,186.20 C647.35,193.55 645.50,202.35 643.00,209.10 C640.50,215.85 636.32,221.42 634.10,226.70 C631.88,231.98 630.63,234.33 629.70,240.80 C628.77,247.27 628.70,261.38 628.50,265.50" stroke="#db7093" stroke-width="1.7" fill="none" stroke-linejoin="round" stroke-linecap="round"/>
<path d="M629.00,58.90 C628.97,62.67 628.25,73.33 628.80,81.50 C629.35,89.67 630.53,99.97 632.30,107.90 C634.07,115.83 636.75,122.33 639.40,129.10 C642.05,135.87 645.70,142.52 648.20,148.50 C650.70,154.48 651.75,160.20 654.40,165.00 C657.05,169.80 662.05,173.77 664.10,177.30 C666.15,180.83 666.35,182.37 666.70,186.20 C667.05,190.03 666.40,196.48 666.20,200.30 C666.00,204.12 667.32,205.58 665.50,209.10 C663.68,212.62 659.65,217.28 655.30,221.40 C650.95,225.52 643.23,229.38 639.40,233.80 C635.57,238.22 634.07,242.90 632.30,247.90 C630.53,252.90 629.43,259.10 628.80,263.80 C628.17,268.50 628.55,274.05 628.50,276.10" stroke="#32cd32" stroke-width="1.7" fill="none" stroke-linejoin="round" stroke-linecap="round"/>
<line x1="620" y1="135.8" x2="665" y2="135.8" stroke="#1f77b4" stroke-width="2.1" stroke-dasharray="2.9 1.2"/>
<line x1="620" y1="145" x2="665" y2="145" stroke="#9370db" stroke-width="2.1" stroke-dasharray="2.9 1.2"/>
<line x1="620" y1="148.5" x2="665" y2="148.5" stroke="#db7093" stroke-width="2.1" stroke-dasharray="2.9 1.2"/>
<line x1="620" y1="157" x2="665" y2="157" stroke="#ff8c00" stroke-width="2.1" stroke-dasharray="2.9 1.2"/>
<line x1="620" y1="186.5" x2="665" y2="186.5" stroke="#22cc22" stroke-width="2.1" stroke-dasharray="2.9 1.2"/>
<text x="667.6" y="135.4" font-size="12" font-weight="bold" font-style="italic" fill="#3f8ac4" text-anchor="start">65</text>
<text x="667.6" y="146.5" font-size="12" font-weight="bold" font-style="italic" fill="#9370db" text-anchor="start">61</text>
<text x="667.6" y="157.1" font-size="12" font-weight="bold" font-style="italic" fill="#d4648f" text-anchor="start">59</text>
<text x="662" y="168.5" font-size="12" font-weight="bold" font-style="italic" fill="#ff9a1f" text-anchor="start">55</text>
<text x="667.4" y="195.2" font-size="12" font-weight="bold" font-style="italic" fill="#3fcf3f" text-anchor="start">42</text>
<text x="508" y="308.6" font-size="12.3" font-weight="normal" font-style="normal" fill="#000" text-anchor="middle">Share of primary energy</text>
<text x="508" y="321.3" font-size="12.3" font-weight="normal" font-style="normal" fill="#000" text-anchor="middle">from renewables (%)</text>
<text x="357.6" y="166.3" font-size="12.3" font-weight="normal" font-style="normal" fill="#000" text-anchor="middle" transform="rotate(-90 357.6 166.3)">Share of renewable energy</text>
<text x="373" y="166.7" font-size="12.3" font-weight="normal" font-style="normal" fill="#000" text-anchor="middle" transform="rotate(-90 373 166.7)">from non-biomass renewables (%)</text>
<g fill-opacity="0.7">
<circle cx="547.6" cy="130.7" r="4" fill="#1f77b4"/><circle cx="558.6" cy="133.2" r="4" fill="#db7093"/><circle cx="569.3" cy="186.7" r="4" fill="#32cd32"/><circle cx="594.1" cy="175.5" r="4" fill="#32cd32"/><circle cx="514.0" cy="257.5" r="4" fill="#9370db"/><circle cx="530.0" cy="110.2" r="4" fill="#1f77b4"/><circle cx="473.1" cy="187.8" r="4" fill="#9370db"/><circle cx="551.2" cy="113.9" r="4" fill="#1f77b4"/><circle cx="572.8" cy="116.8" r="4" fill="#db7093"/><circle cx="474.3" cy="124.8" r="4" fill="#db7093"/><circle cx="532.2" cy="183.2" r="4" fill="#1f77b4"/><circle cx="600.9" cy="189.1" r="4" fill="#32cd32"/><circle cx="497.5" cy="97.6" r="4" fill="#ffa500"/><circle cx="474.3" cy="204.1" r="4" fill="#db7093"/><circle cx="532.3" cy="94.1" r="4" fill="#1f77b4"/><circle cx="540.1" cy="208.7" r="4" fill="#32cd32"/><circle cx="545.8" cy="213.2" r="4" fill="#9370db"/><circle cx="491.9" cy="96.5" r="4" fill="#db7093"/><circle cx="549.6" cy="99.5" r="4" fill="#1f77b4"/><circle cx="570.1" cy="179.2" r="4" fill="#32cd32"/><circle cx="476.3" cy="124.8" r="4" fill="#db7093"/><circle cx="526.6" cy="90.9" r="4" fill="#1f77b4"/><circle cx="506.0" cy="242.7" r="4" fill="#1f77b4"/><circle cx="543.5" cy="127.7" r="4" fill="#32cd32"/><circle cx="474.3" cy="201.4" r="4" fill="#db7093"/><circle cx="463.0" cy="124.0" r="4" fill="#db7093"/><circle cx="535.3" cy="99.1" r="4" fill="#9370db"/><circle cx="570.1" cy="154.8" r="4" fill="#ffa500"/><circle cx="531.2" cy="116.0" r="4" fill="#1f77b4"/><circle cx="555.2" cy="119.6" r="4" fill="#db7093"/><circle cx="534.9" cy="201.3" r="4" fill="#1f77b4"/><circle cx="499.2" cy="256.3" r="4" fill="#ffa500"/><circle cx="542.4" cy="190.0" r="4" fill="#1f77b4"/><circle cx="584.3" cy="209.7" r="4" fill="#32cd32"/><circle cx="529.6" cy="118.6" r="4" fill="#1f77b4"/><circle cx="508.3" cy="194.6" r="4" fill="#1f77b4"/><circle cx="557.0" cy="107.9" r="4" fill="#ffa500"/><circle cx="540.1" cy="87.2" r="4" fill="#1f77b4"/><circle cx="532.1" cy="194.8" r="4" fill="#9370db"/><circle cx="586.0" cy="188.9" r="4" fill="#1f77b4"/><circle cx="541.2" cy="114.4" r="4" fill="#1f77b4"/><circle cx="571.8" cy="107.8" r="4" fill="#db7093"/><circle cx="550.8" cy="232.5" r="4" fill="#ffa500"/><circle cx="548.6" cy="91.9" r="4" fill="#9370db"/><circle cx="552.2" cy="110.7" r="4" fill="#1f77b4"/><circle cx="499.3" cy="145.1" r="4" fill="#1f77b4"/><circle cx="541.5" cy="196.5" r="4" fill="#ffa500"/><circle cx="476.0" cy="192.0" r="4" fill="#ffa500"/><circle cx="550.5" cy="123.8" r="4" fill="#ffa500"/><circle cx="508.3" cy="174.1" r="4" fill="#ffa500"/><circle cx="519.7" cy="129.4" r="4" fill="#32cd32"/><circle cx="523.0" cy="181.3" r="4" fill="#ffa500"/><circle cx="537.8" cy="111.2" r="4" fill="#1f77b4"/><circle cx="518.5" cy="117.5" r="4" fill="#9370db"/><circle cx="580.3" cy="110.1" r="4" fill="#9370db"/><circle cx="466.4" cy="144.1" r="4" fill="#9370db"/><circle cx="491.3" cy="227.4" r="4" fill="#db7093"/><circle cx="528.7" cy="101.5" r="4" fill="#ffa500"/><circle cx="580.3" cy="199.1" r="4" fill="#32cd32"/><circle cx="525.3" cy="186.6" r="4" fill="#ffa500"/><circle cx="507.8" cy="205.8" r="4" fill="#32cd32"/><circle cx="493.6" cy="212.6" r="4" fill="#1f77b4"/><circle cx="544.6" cy="77.7" r="4" fill="#ffa500"/><circle cx="470.4" cy="187.8" r="4" fill="#9370db"/><circle cx="545.1" cy="177.5" r="4" fill="#ffa500"/><circle cx="515.8" cy="204.6" r="4" fill="#32cd32"/><circle cx="539.5" cy="128.5" r="4" fill="#1f77b4"/><circle cx="580.3" cy="89.1" r="4" fill="#1f77b4"/><circle cx="540.4" cy="131.1" r="4" fill="#1f77b4"/><circle cx="571.2" cy="148.0" r="4" fill="#ffa500"/><circle cx="529.8" cy="126.7" r="4" fill="#1f77b4"/><circle cx="510.0" cy="91.9" r="4" fill="#9370db"/><circle cx="513.3" cy="188.9" r="4" fill="#1f77b4"/><circle cx="527.6" cy="144.6" r="4" fill="#1f77b4"/><circle cx="486.2" cy="153.7" r="4" fill="#ffa500"/><circle cx="520.8" cy="201.4" r="4" fill="#ffa500"/><circle cx="558.6" cy="150.6" r="4" fill="#32cd32"/><circle cx="572.2" cy="111.9" r="4" fill="#32cd32"/><circle cx="582.8" cy="175.5" r="4" fill="#32cd32"/><circle cx="500.4" cy="129.4" r="4" fill="#9370db"/><circle cx="509.5" cy="149.2" r="4" fill="#db7093"/><circle cx="498.1" cy="113.5" r="4" fill="#ffa500"/><circle cx="507.2" cy="166.2" r="4" fill="#1f77b4"/><circle cx="562.7" cy="160.0" r="4" fill="#1f77b4"/><circle cx="564.7" cy="96.9" r="4" fill="#1f77b4"/><circle cx="551.5" cy="120.2" r="4" fill="#1f77b4"/><circle cx="513.4" cy="177.3" r="4" fill="#db7093"/><circle cx="525.8" cy="135.5" r="4" fill="#ffa500"/><circle cx="575.3" cy="188.4" r="4" fill="#32cd32"/><circle cx="518.2" cy="158.7" r="4" fill="#9370db"/><circle cx="537.8" cy="204.1" r="4" fill="#1f77b4"/><circle cx="570.1" cy="173.0" r="4" fill="#1f77b4"/><circle cx="583.0" cy="165.3" r="4" fill="#32cd32"/><circle cx="482.8" cy="85.7" r="4" fill="#9370db"/><circle cx="489.0" cy="237.1" r="4" fill="#ffa500"/><circle cx="569.1" cy="115.4" r="4" fill="#1f77b4"/><circle cx="491.3" cy="160.5" r="4" fill="#ffa500"/><circle cx="547.0" cy="100.8" r="4" fill="#ffa500"/><circle cx="514.6" cy="218.9" r="4" fill="#1f77b4"/><circle cx="501.5" cy="194.6" r="4" fill="#ffa500"/><circle cx="525.6" cy="150.1" r="4" fill="#9370db"/><circle cx="510.6" cy="158.2" r="4" fill="#32cd32"/><circle cx="547.5" cy="83.8" r="4" fill="#ffa500"/><circle cx="485.6" cy="174.1" r="4" fill="#db7093"/><circle cx="542.1" cy="118.8" r="4" fill="#1f77b4"/><circle cx="576.9" cy="133.3" r="4" fill="#32cd32"/><circle cx="476.7" cy="152.7" r="4" fill="#9370db"/><circle cx="601.1" cy="211.9" r="4" fill="#32cd32"/><circle cx="573.5" cy="83.4" r="4" fill="#9370db"/><circle cx="483.3" cy="134.7" r="4" fill="#ffa500"/><circle cx="522.1" cy="155.0" r="4" fill="#1f77b4"/><circle cx="497.5" cy="149.2" r="4" fill="#1f77b4"/><circle cx="535.2" cy="145.5" r="4" fill="#ffa500"/><circle cx="487.3" cy="146.0" r="4" fill="#9370db"/><circle cx="561.0" cy="201.4" r="4" fill="#32cd32"/><circle cx="552.9" cy="98.4" r="4" fill="#1f77b4"/><circle cx="480.9" cy="135.9" r="4" fill="#1f77b4"/><circle cx="592.8" cy="217.8" r="4" fill="#32cd32"/><circle cx="556.1" cy="112.6" r="4" fill="#1f77b4"/><circle cx="494.7" cy="167.9" r="4" fill="#ffa500"/><circle cx="498.7" cy="253.0" r="4" fill="#ffa500"/><circle cx="539.2" cy="202.0" r="4" fill="#9370db"/><circle cx="526.7" cy="121.4" r="4" fill="#ffa500"/><circle cx="534.6" cy="142.9" r="4" fill="#9370db"/><circle cx="563.1" cy="126.7" r="4" fill="#ffa500"/><circle cx="553.1" cy="153.7" r="4" fill="#db7093"/><circle cx="535.7" cy="126.3" r="4" fill="#1f77b4"/><circle cx="528.8" cy="237.6" r="4" fill="#9370db"/><circle cx="523.0" cy="192.7" r="4" fill="#1f77b4"/><circle cx="518.5" cy="124.8" r="4" fill="#32cd32"/><circle cx="570.5" cy="130.8" r="4" fill="#ffa500"/><circle cx="540.1" cy="217.8" r="4" fill="#db7093"/><circle cx="580.3" cy="112.3" r="4" fill="#db7093"/><circle cx="542.9" cy="205.3" r="4" fill="#1f77b4"/><circle cx="470.0" cy="170.0" r="4" fill="#ffa500"/><circle cx="542.4" cy="92.1" r="4" fill="#ffa500"/><circle cx="561.4" cy="111.0" r="4" fill="#1f77b4"/><circle cx="537.2" cy="188.2" r="4" fill="#32cd32"/><circle cx="547.4" cy="157.1" r="4" fill="#ffa500"/><circle cx="527.6" cy="207.5" r="4" fill="#32cd32"/><circle cx="585.1" cy="185.7" r="4" fill="#32cd32"/><circle cx="521.5" cy="139.3" r="4" fill="#1f77b4"/><circle cx="533.3" cy="136.7" r="4" fill="#1f77b4"/><circle cx="474.4" cy="132.2" r="4" fill="#db7093"/><circle cx="518.0" cy="114.4" r="4" fill="#1f77b4"/><circle cx="549.0" cy="93.7" r="4" fill="#1f77b4"/><circle cx="504.0" cy="138.1" r="4" fill="#9370db"/><circle cx="492.8" cy="193.4" r="4" fill="#ffa500"/><circle cx="563.7" cy="137.4" r="4" fill="#1f77b4"/><circle cx="541.5" cy="140.1" r="4" fill="#9370db"/><circle cx="533.5" cy="120.9" r="4" fill="#db7093"/><circle cx="574.6" cy="215.5" r="4" fill="#32cd32"/><circle cx="575.5" cy="171.5" r="4" fill="#32cd32"/><circle cx="553.2" cy="92.4" r="4" fill="#1f77b4"/><circle cx="532.2" cy="103.4" r="4" fill="#1f77b4"/><circle cx="529.9" cy="97.6" r="4" fill="#1f77b4"/><circle cx="596.0" cy="176.1" r="4" fill="#32cd32"/><circle cx="518.0" cy="134.9" r="4" fill="#32cd32"/><circle cx="585.8" cy="169.0" r="4" fill="#32cd32"/><circle cx="594.6" cy="190.3" r="4" fill="#32cd32"/><circle cx="491.0" cy="123.9" r="4" fill="#9370db"/><circle cx="572.4" cy="135.5" r="4" fill="#db7093"/><circle cx="479.9" cy="88.5" r="4" fill="#9370db"/><circle cx="588.2" cy="204.1" r="4" fill="#32cd32"/><circle cx="534.4" cy="91.9" r="4" fill="#1f77b4"/><circle cx="530.1" cy="228.1" r="4" fill="#32cd32"/><circle cx="477.7" cy="181.0" r="4" fill="#1f77b4"/><circle cx="564.0" cy="101.7" r="4" fill="#ffa500"/><circle cx="468.1" cy="201.4" r="4" fill="#1f77b4"/><circle cx="467.0" cy="188.0" r="4" fill="#ffa500"/><circle cx="574.0" cy="124.8" r="4" fill="#1f77b4"/><circle cx="539.0" cy="112.2" r="4" fill="#32cd32"/><circle cx="544.2" cy="201.4" r="4" fill="#1f77b4"/><circle cx="529.2" cy="93.9" r="4" fill="#1f77b4"/><circle cx="478.8" cy="146.9" r="4" fill="#db7093"/><circle cx="544.6" cy="87.4" r="4" fill="#1f77b4"/><circle cx="529.7" cy="168.6" r="4" fill="#32cd32"/><circle cx="499.2" cy="169.6" r="4" fill="#1f77b4"/><circle cx="499.2" cy="157.1" r="4" fill="#db7093"/><circle cx="579.2" cy="150.3" r="4" fill="#db7093"/><circle cx="500.9" cy="222.3" r="4" fill="#1f77b4"/><circle cx="578.1" cy="142.4" r="4" fill="#ffa500"/><circle cx="537.1" cy="129.9" r="4" fill="#1f77b4"/><circle cx="539.0" cy="94.2" r="4" fill="#1f77b4"/><circle cx="575.8" cy="193.4" r="4" fill="#ffa500"/><circle cx="600.2" cy="145.2" r="4" fill="#9370db"/><circle cx="532.1" cy="172.3" r="4" fill="#db7093"/><circle cx="562.2" cy="87.9" r="4" fill="#ffa500"/><circle cx="531.1" cy="91.6" r="4" fill="#1f77b4"/><circle cx="541.1" cy="186.0" r="4" fill="#32cd32"/><circle cx="550.8" cy="168.5" r="4" fill="#9370db"/><circle cx="563.2" cy="185.3" r="4" fill="#32cd32"/><circle cx="483.4" cy="168.5" r="4" fill="#db7093"/><circle cx="483.6" cy="150.6" r="4" fill="#ffa500"/><circle cx="544.6" cy="181.0" r="4" fill="#32cd32"/><circle cx="466.0" cy="135.0" r="4" fill="#db7093"/><circle cx="538.2" cy="89.5" r="4" fill="#1f77b4"/><circle cx="575.2" cy="177.2" r="4" fill="#32cd32"/><circle cx="509.5" cy="215.5" r="4" fill="#db7093"/><circle cx="468.4" cy="114.0" r="4" fill="#db7093"/><circle cx="562.6" cy="156.3" r="4" fill="#32cd32"/><circle cx="599.1" cy="223.4" r="4" fill="#32cd32"/><circle cx="557.1" cy="234.2" r="4" fill="#ffa500"/><circle cx="600.8" cy="82.8" r="4" fill="#9370db"/><circle cx="540.1" cy="156.0" r="4" fill="#32cd32"/><circle cx="559.1" cy="180.4" r="4" fill="#32cd32"/><circle cx="498.1" cy="141.2" r="4" fill="#1f77b4"/><circle cx="535.6" cy="173.0" r="4" fill="#32cd32"/><circle cx="502.1" cy="100.4" r="4" fill="#ffa500"/><circle cx="460.2" cy="203.6" r="4" fill="#ffa500"/><circle cx="481.1" cy="160.0" r="4" fill="#9370db"/><circle cx="491.0" cy="131.3" r="4" fill="#1f77b4"/><circle cx="570.1" cy="230.2" r="4" fill="#32cd32"/><circle cx="540.5" cy="118.1" r="4" fill="#1f77b4"/><circle cx="546.7" cy="120.5" r="4" fill="#1f77b4"/><circle cx="511.5" cy="169.5" r="4" fill="#ffa500"/><circle cx="535.4" cy="110.7" r="4" fill="#1f77b4"/><circle cx="559.9" cy="173.0" r="4" fill="#9370db"/><circle cx="470.9" cy="151.4" r="4" fill="#9370db"/><circle cx="511.5" cy="180.6" r="4" fill="#db7093"/><circle cx="499.3" cy="138.6" r="4" fill="#1f77b4"/><circle cx="540.8" cy="121.8" r="4" fill="#ffa500"/><circle cx="537.8" cy="199.1" r="4" fill="#1f77b4"/><circle cx="511.7" cy="182.1" r="4" fill="#db7093"/><circle cx="602.3" cy="184.2" r="4" fill="#32cd32"/><circle cx="589.7" cy="189.6" r="4" fill="#32cd32"/><circle cx="574.4" cy="116.2" r="4" fill="#db7093"/><circle cx="550.6" cy="99.8" r="4" fill="#db7093"/><circle cx="489.9" cy="136.5" r="4" fill="#1f77b4"/><circle cx="519.2" cy="121.7" r="4" fill="#1f77b4"/><circle cx="554.5" cy="106.3" r="4" fill="#ffa500"/><circle cx="525.0" cy="112.4" r="4" fill="#ffa500"/><circle cx="534.2" cy="89.8" r="4" fill="#1f77b4"/><circle cx="523.1" cy="208.6" r="4" fill="#ffa500"/><circle cx="518.6" cy="193.4" r="4" fill="#ffa500"/><circle cx="455.1" cy="133.1" r="4" fill="#9370db"/><circle cx="453.3" cy="132.2" r="4" fill="#9370db"/><circle cx="531.0" cy="214.4" r="4" fill="#32cd32"/><circle cx="556.2" cy="109.3" r="4" fill="#ffa500"/><circle cx="471.5" cy="195.7" r="4" fill="#32cd32"/><circle cx="471.5" cy="213.8" r="4" fill="#1f77b4"/><circle cx="557.5" cy="115.0" r="4" fill="#ffa500"/><circle cx="506.0" cy="154.8" r="4" fill="#ffa500"/><circle cx="559.6" cy="115.5" r="4" fill="#ffa500"/><circle cx="526.4" cy="215.1" r="4" fill="#ffa500"/><circle cx="536.5" cy="181.3" r="4" fill="#32cd32"/><circle cx="537.8" cy="217.8" r="4" fill="#32cd32"/><circle cx="571.2" cy="118.0" r="4" fill="#db7093"/><circle cx="609.3" cy="212.6" r="4" fill="#32cd32"/><circle cx="533.4" cy="193.6" r="4" fill="#1f77b4"/><circle cx="502.0" cy="155.2" r="4" fill="#ffa500"/><circle cx="474.4" cy="136.8" r="4" fill="#9370db"/><circle cx="495.0" cy="142.6" r="4" fill="#db7093"/><circle cx="592.2" cy="180.7" r="4" fill="#32cd32"/><circle cx="573.4" cy="94.7" r="4" fill="#9370db"/><circle cx="540.2" cy="102.2" r="4" fill="#1f77b4"/><circle cx="556.5" cy="209.8" r="4" fill="#ffa500"/><circle cx="553.9" cy="203.5" r="4" fill="#ffa500"/><circle cx="537.3" cy="152.8" r="4" fill="#ffa500"/><circle cx="555.7" cy="165.2" r="4" fill="#ffa500"/><circle cx="485.5" cy="131.3" r="4" fill="#1f77b4"/><circle cx="486.2" cy="101.6" r="4" fill="#ffa500"/><circle cx="515.1" cy="184.3" r="4" fill="#ffa500"/><circle cx="544.1" cy="125.6" r="4" fill="#1f77b4"/><circle cx="551.7" cy="135.3" r="4" fill="#1f77b4"/><circle cx="573.5" cy="142.4" r="4" fill="#db7093"/><circle cx="597.6" cy="171.9" r="4" fill="#32cd32"/><circle cx="462.0" cy="178.0" r="4" fill="#ffa500"/><circle cx="611.0" cy="78.3" r="4" fill="#ffa500"/><circle cx="518.8" cy="178.1" r="4" fill="#1f77b4"/><circle cx="575.8" cy="182.7" r="4" fill="#32cd32"/><circle cx="478.8" cy="122.0" r="4" fill="#9370db"/><circle cx="472.6" cy="127.6" r="4" fill="#db7093"/><circle cx="562.5" cy="133.8" r="4" fill="#1f77b4"/><circle cx="445.4" cy="198.0" r="4" fill="#9370db"/><circle cx="548.8" cy="132.7" r="4" fill="#1f77b4"/><circle cx="547.6" cy="117.4" r="4" fill="#1f77b4"/><circle cx="532.5" cy="106.9" r="4" fill="#ffa500"/><circle cx="546.3" cy="264.3" r="4" fill="#9370db"/><circle cx="494.3" cy="182.9" r="4" fill="#ffa500"/><circle cx="518.5" cy="226.8" r="4" fill="#ffa500"/><circle cx="572.4" cy="123.7" r="4" fill="#ffa500"/><circle cx="520.4" cy="151.2" r="4" fill="#db7093"/><circle cx="597.3" cy="209.8" r="4" fill="#32cd32"/><circle cx="484.1" cy="175.3" r="4" fill="#ffa500"/><circle cx="540.1" cy="176.4" r="4" fill="#ffa500"/><circle cx="551.7" cy="86.7" r="4" fill="#1f77b4"/><circle cx="551.7" cy="104.2" r="4" fill="#1f77b4"/><circle cx="552.9" cy="152.8" r="4" fill="#ffa500"/><circle cx="499.1" cy="137.0" r="4" fill="#1f77b4"/><circle cx="555.4" cy="157.1" r="4" fill="#1f77b4"/><circle cx="532.5" cy="98.7" r="4" fill="#1f77b4"/><circle cx="516.3" cy="171.9" r="4" fill="#1f77b4"/><circle cx="552.0" cy="169.6" r="4" fill="#db7093"/><circle cx="569.3" cy="142.5" r="4" fill="#1f77b4"/><circle cx="523.2" cy="97.6" r="4" fill="#1f77b4"/><circle cx="572.4" cy="93.3" r="4" fill="#1f77b4"/><circle cx="511.7" cy="97.0" r="4" fill="#9370db"/><circle cx="531.8" cy="110.2" r="4" fill="#db7093"/><circle cx="512.1" cy="91.5" r="4" fill="#9370db"/><circle cx="578.7" cy="88.3" r="4" fill="#1f77b4"/><circle cx="482.7" cy="128.5" r="4" fill="#1f77b4"/><circle cx="489.9" cy="188.9" r="4" fill="#9370db"/><circle cx="567.8" cy="167.3" r="4" fill="#1f77b4"/><circle cx="495.8" cy="230.8" r="4" fill="#1f77b4"/><circle cx="537.1" cy="122.1" r="4" fill="#1f77b4"/><circle cx="546.3" cy="205.3" r="4" fill="#1f77b4"/><circle cx="554.2" cy="124.8" r="4" fill="#1f77b4"/><circle cx="571.1" cy="98.8" r="4" fill="#32cd32"/><circle cx="535.6" cy="120.3" r="4" fill="#ffa500"/><circle cx="570.1" cy="89.3" r="4" fill="#9370db"/><circle cx="502.7" cy="199.8" r="4" fill="#9370db"/><circle cx="503.8" cy="143.5" r="4" fill="#1f77b4"/><circle cx="466.7" cy="224.6" r="4" fill="#ffa500"/><circle cx="599.6" cy="184.3" r="4" fill="#32cd32"/><circle cx="545.1" cy="199.1" r="4" fill="#1f77b4"/><circle cx="557.0" cy="89.2" r="4" fill="#1f77b4"/><circle cx="548.5" cy="233.1" r="4" fill="#ffa500"/><circle cx="572.5" cy="91.0" r="4" fill="#ffa500"/><circle cx="537.3" cy="125.4" r="4" fill="#1f77b4"/><circle cx="537.2" cy="102.6" r="4" fill="#9370db"/><circle cx="556.2" cy="87.8" r="4" fill="#9370db"/><circle cx="571.2" cy="199.1" r="4" fill="#32cd32"/><circle cx="485.6" cy="206.4" r="4" fill="#db7093"/><circle cx="560.0" cy="121.6" r="4" fill="#1f77b4"/><circle cx="544.6" cy="264.3" r="4" fill="#9370db"/><circle cx="440.0" cy="205.0" r="4" fill="#9370db"/><circle cx="525.0" cy="93.1" r="4" fill="#ffa500"/><circle cx="531.0" cy="225.7" r="4" fill="#ffa500"/><circle cx="558.8" cy="114.5" r="4" fill="#1f77b4"/><circle cx="556.4" cy="94.2" r="4" fill="#1f77b4"/><circle cx="599.6" cy="230.2" r="4" fill="#32cd32"/><circle cx="500.3" cy="129.6" r="4" fill="#32cd32"/><circle cx="455.6" cy="207.5" r="4" fill="#9370db"/><circle cx="490.9" cy="174.8" r="4" fill="#1f77b4"/><circle cx="586.5" cy="211.6" r="4" fill="#32cd32"/><circle cx="573.5" cy="160.5" r="4" fill="#db7093"/><circle cx="551.6" cy="160.6" r="4" fill="#32cd32"/><circle cx="579.0" cy="216.3" r="4" fill="#32cd32"/><circle cx="532.7" cy="256.3" r="4" fill="#9370db"/><circle cx="491.9" cy="234.8" r="4" fill="#1f77b4"/><circle cx="476.5" cy="153.7" r="4" fill="#db7093"/><circle cx="579.2" cy="185.5" r="4" fill="#1f77b4"/><circle cx="556.8" cy="100.3" r="4" fill="#1f77b4"/><circle cx="548.5" cy="85.7" r="4" fill="#1f77b4"/><circle cx="502.2" cy="176.9" r="4" fill="#1f77b4"/><circle cx="554.3" cy="200.2" r="4" fill="#db7093"/><circle cx="516.3" cy="212.1" r="4" fill="#1f77b4"/><circle cx="512.8" cy="160.6" r="4" fill="#1f77b4"/><circle cx="576.7" cy="185.6" r="4" fill="#32cd32"/><circle cx="460.6" cy="148.8" r="4" fill="#9370db"/><circle cx="572.4" cy="103.3" r="4" fill="#9370db"/><circle cx="536.7" cy="238.8" r="4" fill="#9370db"/><circle cx="456.0" cy="128.1" r="4" fill="#ffa500"/><circle cx="548.5" cy="259.8" r="4" fill="#9370db"/><circle cx="559.5" cy="168.3" r="4" fill="#1f77b4"/><circle cx="534.4" cy="163.9" r="4" fill="#1f77b4"/><circle cx="492.4" cy="129.4" r="4" fill="#1f77b4"/><circle cx="481.1" cy="193.4" r="4" fill="#9370db"/><circle cx="540.5" cy="149.6" r="4" fill="#ffa500"/><circle cx="554.2" cy="136.7" r="4" fill="#ffa500"/><circle cx="547.6" cy="78.1" r="4" fill="#ffa500"/><circle cx="538.9" cy="218.5" r="4" fill="#ffa500"/><circle cx="507.6" cy="193.0" r="4" fill="#ffa500"/><circle cx="610.4" cy="123.1" r="4" fill="#1f77b4"/><circle cx="500.2" cy="101.8" r="4" fill="#ffa500"/><circle cx="514.1" cy="133.9" r="4" fill="#db7093"/><circle cx="547.4" cy="194.6" r="4" fill="#1f77b4"/><circle cx="521.8" cy="165.2" r="4" fill="#32cd32"/><circle cx="528.8" cy="204.1" r="4" fill="#1f77b4"/><circle cx="543.6" cy="140.5" r="4" fill="#1f77b4"/><circle cx="524.1" cy="124.6" r="4" fill="#32cd32"/><circle cx="503.9" cy="146.2" r="4" fill="#1f77b4"/><circle cx="561.1" cy="183.9" r="4" fill="#32cd32"/><circle cx="582.6" cy="209.8" r="4" fill="#32cd32"/><circle cx="571.2" cy="178.7" r="4" fill="#db7093"/><circle cx="491.3" cy="194.6" r="4" fill="#1f77b4"/><circle cx="544.6" cy="250.7" r="4" fill="#9370db"/><circle cx="583.6" cy="181.9" r="4" fill="#32cd32"/><circle cx="511.2" cy="208.7" r="4" fill="#9370db"/><circle cx="567.3" cy="98.2" r="4" fill="#ffa500"/><circle cx="484.5" cy="222.9" r="4" fill="#ffa500"/><circle cx="494.7" cy="132.1" r="4" fill="#1f77b4"/><circle cx="487.5" cy="191.7" r="4" fill="#32cd32"/><circle cx="562.2" cy="84.5" r="4" fill="#1f77b4"/><circle cx="527.2" cy="107.6" r="4" fill="#ffa500"/><circle cx="509.5" cy="121.4" r="4" fill="#1f77b4"/><circle cx="484.6" cy="168.8" r="4" fill="#1f77b4"/><circle cx="512.1" cy="196.8" r="4" fill="#32cd32"/><circle cx="566.6" cy="92.9" r="4" fill="#1f77b4"/><circle cx="592.8" cy="185.4" r="4" fill="#32cd32"/><circle cx="516.2" cy="168.8" r="4" fill="#32cd32"/><circle cx="531.0" cy="113.5" r="4" fill="#1f77b4"/><circle cx="525.3" cy="169.6" r="4" fill="#1f77b4"/><circle cx="492.4" cy="177.5" r="4" fill="#1f77b4"/><circle cx="564.8" cy="107.0" r="4" fill="#1f77b4"/><circle cx="499.2" cy="198.0" r="4" fill="#1f77b4"/><circle cx="542.4" cy="142.4" r="4" fill="#1f77b4"/><circle cx="567.4" cy="126.8" r="4" fill="#32cd32"/><circle cx="538.3" cy="122.4" r="4" fill="#ffa500"/><circle cx="582.7" cy="207.2" r="4" fill="#32cd32"/><circle cx="556.5" cy="148.0" r="4" fill="#1f77b4"/><circle cx="535.6" cy="102.1" r="4" fill="#1f77b4"/><circle cx="522.0" cy="213.3" r="4" fill="#32cd32"/><circle cx="507.4" cy="141.5" r="4" fill="#32cd32"/><circle cx="532.7" cy="112.9" r="4" fill="#1f77b4"/><circle cx="557.1" cy="95.6" r="4" fill="#1f77b4"/><circle cx="487.0" cy="176.0" r="4" fill="#ffa500"/><circle cx="548.5" cy="102.8" r="4" fill="#1f77b4"/><circle cx="549.1" cy="178.1" r="4" fill="#32cd32"/><circle cx="596.8" cy="137.8" r="4" fill="#32cd32"/><circle cx="497.1" cy="190.1" r="4" fill="#32cd32"/><circle cx="468.1" cy="132.1" r="4" fill="#db7093"/><circle cx="536.4" cy="163.2" r="4" fill="#ffa500"/><circle cx="500.4" cy="170.9" r="4" fill="#32cd32"/><circle cx="470.0" cy="122.0" r="4" fill="#db7093"/><circle cx="545.8" cy="119.8" r="4" fill="#9370db"/><circle cx="498.1" cy="221.2" r="4" fill="#1f77b4"/><circle cx="520.8" cy="221.7" r="4" fill="#32cd32"/><circle cx="547.8" cy="205.3" r="4" fill="#32cd32"/><circle cx="480.0" cy="165.0" r="4" fill="#1f77b4"/><circle cx="547.1" cy="165.5" r="4" fill="#db7093"/><circle cx="584.9" cy="213.9" r="4" fill="#32cd32"/><circle cx="504.3" cy="254.6" r="4" fill="#ffa500"/><circle cx="460.7" cy="205.3" r="4" fill="#ffa500"/><circle cx="504.3" cy="208.1" r="4" fill="#ffa500"/><circle cx="459.0" cy="197.4" r="4" fill="#db7093"/><circle cx="522.5" cy="198.7" r="4" fill="#1f77b4"/><circle cx="590.8" cy="166.8" r="4" fill="#32cd32"/><circle cx="490.7" cy="119.7" r="4" fill="#1f77b4"/><circle cx="518.4" cy="144.0" r="4" fill="#1f77b4"/><circle cx="561.0" cy="190.0" r="4" fill="#1f77b4"/><circle cx="502.6" cy="178.7" r="4" fill="#32cd32"/><circle cx="487.9" cy="202.5" r="4" fill="#db7093"/><circle cx="538.3" cy="114.9" r="4" fill="#1f77b4"/><circle cx="545.1" cy="255.2" r="4" fill="#9370db"/><circle cx="600.2" cy="85.7" r="4" fill="#1f77b4"/><circle cx="552.0" cy="141.2" r="4" fill="#db7093"/><circle cx="487.3" cy="124.8" r="4" fill="#9370db"/><circle cx="556.4" cy="120.7" r="4" fill="#1f77b4"/><circle cx="556.4" cy="129.7" r="4" fill="#ffa500"/><circle cx="516.4" cy="134.4" r="4" fill="#32cd32"/><circle cx="577.2" cy="112.2" r="4" fill="#ffa500"/><circle cx="530.0" cy="219.9" r="4" fill="#32cd32"/><circle cx="503.8" cy="201.4" r="4" fill="#ffa500"/><circle cx="531.2" cy="135.0" r="4" fill="#1f77b4"/><circle cx="578.1" cy="162.8" r="4" fill="#db7093"/><circle cx="563.7" cy="117.5" r="4" fill="#1f77b4"/><circle cx="563.3" cy="91.3" r="4" fill="#1f77b4"/><circle cx="578.1" cy="207.5" r="4" fill="#32cd32"/><circle cx="488.0" cy="157.2" r="4" fill="#1f77b4"/><circle cx="557.3" cy="84.0" r="4" fill="#1f77b4"/><circle cx="596.0" cy="213.0" r="4" fill="#32cd32"/><circle cx="486.8" cy="231.9" r="4" fill="#ffa500"/><circle cx="500.9" cy="216.1" r="4" fill="#32cd32"/><circle cx="555.9" cy="175.1" r="4" fill="#1f77b4"/><circle cx="581.7" cy="205.7" r="4" fill="#32cd32"/><circle cx="549.0" cy="126.3" r="4" fill="#1f77b4"/><circle cx="525.3" cy="109.0" r="4" fill="#ffa500"/><circle cx="562.9" cy="122.2" r="4" fill="#db7093"/><circle cx="528.6" cy="101.4" r="4" fill="#1f77b4"/><circle cx="563.4" cy="150.3" r="4" fill="#ffa500"/><circle cx="552.8" cy="89.6" r="4" fill="#1f77b4"/><circle cx="611.0" cy="224.6" r="4" fill="#32cd32"/><circle cx="576.9" cy="131.6" r="4" fill="#32cd32"/><circle cx="471.5" cy="191.2" r="4" fill="#1f77b4"/><circle cx="467.5" cy="207.5" r="4" fill="#db7093"/><circle cx="462.0" cy="184.0" r="4" fill="#9370db"/><circle cx="552.7" cy="112.9" r="4" fill="#1f77b4"/><circle cx="546.8" cy="195.7" r="4" fill="#db7093"/><circle cx="536.5" cy="212.7" r="4" fill="#ffa500"/><circle cx="494.7" cy="184.3" r="4" fill="#1f77b4"/><circle cx="605.9" cy="84.0" r="4" fill="#db7093"/><circle cx="589.4" cy="206.4" r="4" fill="#32cd32"/><circle cx="556.5" cy="143.5" r="4" fill="#1f77b4"/><circle cx="568.5" cy="122.5" r="4" fill="#db7093"/><circle cx="594.0" cy="230.2" r="4" fill="#32cd32"/><circle cx="541.5" cy="169.4" r="4" fill="#32cd32"/><circle cx="512.9" cy="114.6" r="4" fill="#db7093"/><circle cx="532.8" cy="154.2" r="4" fill="#1f77b4"/><circle cx="574.4" cy="105.4" r="4" fill="#db7093"/><circle cx="520.8" cy="207.5" r="4" fill="#32cd32"/><circle cx="537.3" cy="134.7" r="4" fill="#1f77b4"/><circle cx="573.5" cy="158.2" r="4" fill="#32cd32"/><circle cx="529.9" cy="157.1" r="4" fill="#32cd32"/><circle cx="525.3" cy="127.1" r="4" fill="#ffa500"/><circle cx="542.2" cy="95.2" r="4" fill="#1f77b4"/><circle cx="554.2" cy="231.9" r="4" fill="#ffa500"/><circle cx="531.0" cy="178.7" r="4" fill="#ffa500"/><circle cx="518.9" cy="224.6" r="4" fill="#32cd32"/><circle cx="540.1" cy="127.1" r="4" fill="#ffa500"/><circle cx="482.5" cy="148.2" r="4" fill="#32cd32"/><circle cx="480.0" cy="208.7" r="4" fill="#db7093"/><circle cx="485.6" cy="186.6" r="4" fill="#1f77b4"/><circle cx="536.0" cy="208.3" r="4" fill="#32cd32"/><circle cx="547.9" cy="149.5" r="4" fill="#db7093"/><circle cx="548.5" cy="209.8" r="4" fill="#db7093"/><circle cx="571.6" cy="184.3" r="4" fill="#32cd32"/><circle cx="452.8" cy="209.2" r="4" fill="#1f77b4"/><circle cx="561.0" cy="214.4" r="4" fill="#32cd32"/><circle cx="560.4" cy="96.9" r="4" fill="#1f77b4"/><circle cx="556.5" cy="116.1" r="4" fill="#1f77b4"/><circle cx="542.4" cy="255.2" r="4" fill="#9370db"/><circle cx="583.3" cy="173.2" r="4" fill="#32cd32"/><circle cx="473.1" cy="214.4" r="4" fill="#1f77b4"/><circle cx="526.5" cy="112.3" r="4" fill="#ffa500"/><circle cx="552.0" cy="266.6" r="4" fill="#9370db"/><circle cx="525.3" cy="139.0" r="4" fill="#32cd32"/><circle cx="532.2" cy="239.3" r="4" fill="#9370db"/><circle cx="577.3" cy="120.9" r="4" fill="#ffa500"/><circle cx="529.9" cy="262.6" r="4" fill="#9370db"/><circle cx="544.2" cy="212.0" r="4" fill="#32cd32"/><circle cx="586.1" cy="180.0" r="4" fill="#32cd32"/><circle cx="502.2" cy="155.2" r="4" fill="#1f77b4"/><circle cx="533.6" cy="119.8" r="4" fill="#1f77b4"/><circle cx="507.2" cy="190.0" r="4" fill="#32cd32"/><circle cx="501.5" cy="122.0" r="4" fill="#1f77b4"/><circle cx="535.6" cy="134.4" r="4" fill="#1f77b4"/><circle cx="500.9" cy="193.4" r="4" fill="#32cd32"/><circle cx="561.8" cy="107.0" r="4" fill="#1f77b4"/><circle cx="502.2" cy="184.8" r="4" fill="#32cd32"/><circle cx="472.6" cy="144.2" r="4" fill="#9370db"/><circle cx="558.8" cy="133.3" r="4" fill="#1f77b4"/><circle cx="458.0" cy="184.0" r="4" fill="#1f77b4"/><circle cx="555.2" cy="139.5" r="4" fill="#1f77b4"/><circle cx="484.4" cy="142.3" r="4" fill="#1f77b4"/><circle cx="478.0" cy="180.0" r="4" fill="#ffa500"/><circle cx="542.5" cy="105.8" r="4" fill="#1f77b4"/><circle cx="506.0" cy="183.2" r="4" fill="#ffa500"/><circle cx="528.8" cy="124.8" r="4" fill="#ffa500"/><circle cx="522.9" cy="94.5" r="4" fill="#9370db"/><circle cx="487.9" cy="243.3" r="4" fill="#9370db"/><circle cx="543.7" cy="192.0" r="4" fill="#32cd32"/><circle cx="595.3" cy="169.4" r="4" fill="#32cd32"/><circle cx="545.1" cy="143.5" r="4" fill="#1f77b4"/><circle cx="525.3" cy="196.8" r="4" fill="#32cd32"/><circle cx="544.2" cy="110.1" r="4" fill="#1f77b4"/><circle cx="514.0" cy="202.4" r="4" fill="#32cd32"/><circle cx="512.8" cy="212.3" r="4" fill="#32cd32"/><circle cx="475.4" cy="201.4" r="4" fill="#9370db"/><circle cx="522.7" cy="173.9" r="4" fill="#ffa500"/><circle cx="543.3" cy="133.4" r="4" fill="#1f77b4"/><circle cx="494.9" cy="154.9" r="4" fill="#32cd32"/><circle cx="591.7" cy="139.5" r="4" fill="#32cd32"/><circle cx="547.5" cy="82.6" r="4" fill="#db7093"/><circle cx="586.0" cy="158.8" r="4" fill="#32cd32"/><circle cx="522.5" cy="117.1" r="4" fill="#ffa500"/><circle cx="551.1" cy="135.7" r="4" fill="#ffa500"/><circle cx="594.0" cy="211.0" r="4" fill="#32cd32"/><circle cx="587.9" cy="172.2" r="4" fill="#32cd32"/><circle cx="515.6" cy="222.4" r="4" fill="#32cd32"/><circle cx="520.8" cy="134.4" r="4" fill="#1f77b4"/><circle cx="541.1" cy="130.2" r="4" fill="#ffa500"/><circle cx="554.1" cy="101.0" r="4" fill="#1f77b4"/><circle cx="543.3" cy="101.7" r="4" fill="#1f77b4"/><circle cx="555.1" cy="123.7" r="4" fill="#ffa500"/><circle cx="494.7" cy="244.4" r="4" fill="#ffa500"/><circle cx="552.3" cy="131.2" r="4" fill="#1f77b4"/><circle cx="567.5" cy="106.8" r="4" fill="#ffa500"/><circle cx="547.6" cy="151.9" r="4" fill="#32cd32"/><circle cx="557.1" cy="141.0" r="4" fill="#32cd32"/><circle cx="489.0" cy="151.4" r="4" fill="#ffa500"/><circle cx="482.8" cy="227.4" r="4" fill="#ffa500"/><circle cx="547.5" cy="114.3" r="4" fill="#ffa500"/><circle cx="571.8" cy="239.3" r="4" fill="#32cd32"/><circle cx="504.5" cy="161.9" r="4" fill="#ffa500"/><circle cx="544.5" cy="108.2" r="4" fill="#1f77b4"/><circle cx="555.3" cy="124.6" r="4" fill="#db7093"/><circle cx="511.7" cy="126.0" r="4" fill="#1f77b4"/><circle cx="474.3" cy="150.3" r="4" fill="#ffa500"/><circle cx="492.5" cy="164.0" r="4" fill="#1f77b4"/><circle cx="509.4" cy="157.4" r="4" fill="#9370db"/><circle cx="481.3" cy="168.4" r="4" fill="#db7093"/><circle cx="592.8" cy="153.1" r="4" fill="#32cd32"/><circle cx="531.8" cy="131.0" r="4" fill="#ffa500"/><circle cx="523.4" cy="194.3" r="4" fill="#db7093"/><circle cx="479.0" cy="158.0" r="4" fill="#db7093"/><circle cx="516.6" cy="127.3" r="4" fill="#32cd32"/><circle cx="522.3" cy="110.2" r="4" fill="#1f77b4"/><circle cx="527.6" cy="221.2" r="4" fill="#32cd32"/><circle cx="552.7" cy="122.2" r="4" fill="#32cd32"/><circle cx="567.9" cy="134.7" r="4" fill="#ffa500"/><circle cx="519.7" cy="132.1" r="4" fill="#32cd32"/><circle cx="491.3" cy="166.2" r="4" fill="#ffa500"/><circle cx="547.1" cy="87.3" r="4" fill="#1f77b4"/><circle cx="567.8" cy="194.6" r="4" fill="#9370db"/><circle cx="537.8" cy="159.4" r="4" fill="#1f77b4"/><circle cx="605.9" cy="216.6" r="4" fill="#32cd32"/><circle cx="514.6" cy="245.0" r="4" fill="#9370db"/><circle cx="555.3" cy="102.6" r="4" fill="#ffa500"/><circle cx="548.3" cy="130.8" r="4" fill="#ffa500"/><circle cx="551.3" cy="140.2" r="4" fill="#1f77b4"/><circle cx="468.1" cy="204.1" r="4" fill="#1f77b4"/><circle cx="566.2" cy="142.6" r="4" fill="#1f77b4"/><circle cx="592.5" cy="170.1" r="4" fill="#32cd32"/><circle cx="574.3" cy="106.1" r="4" fill="#ffa500"/><circle cx="519.7" cy="157.1" r="4" fill="#1f77b4"/><circle cx="536.3" cy="97.1" r="4" fill="#1f77b4"/><circle cx="596.2" cy="157.7" r="4" fill="#32cd32"/><circle cx="555.4" cy="82.3" r="4" fill="#1f77b4"/><circle cx="553.9" cy="120.7" r="4" fill="#ffa500"/><circle cx="498.1" cy="227.4" r="4" fill="#9370db"/><circle cx="498.3" cy="142.8" r="4" fill="#1f77b4"/><circle cx="540.8" cy="176.3" r="4" fill="#1f77b4"/><circle cx="544.2" cy="94.2" r="4" fill="#1f77b4"/><circle cx="467.1" cy="130.4" r="4" fill="#db7093"/><circle cx="545.0" cy="148.5" r="4" fill="#1f77b4"/><circle cx="492.4" cy="204.1" r="4" fill="#32cd32"/><circle cx="480.0" cy="149.7" r="4" fill="#db7093"/><circle cx="558.9" cy="161.3" r="4" fill="#ffa500"/><circle cx="563.1" cy="101.0" r="4" fill="#1f77b4"/><circle cx="616.1" cy="84.5" r="4" fill="#32cd32"/><circle cx="511.0" cy="221.9" r="4" fill="#db7093"/><circle cx="510.6" cy="257.5" r="4" fill="#9370db"/><circle cx="503.9" cy="178.6" r="4" fill="#1f77b4"/><circle cx="596.8" cy="131.1" r="4" fill="#ffa500"/><circle cx="564.3" cy="111.7" r="4" fill="#9370db"/><circle cx="504.9" cy="232.5" r="4" fill="#1f77b4"/><circle cx="502.0" cy="134.0" r="4" fill="#db7093"/><circle cx="452.2" cy="198.0" r="4" fill="#1f77b4"/><circle cx="532.7" cy="182.8" r="4" fill="#ffa500"/><circle cx="506.0" cy="114.6" r="4" fill="#9370db"/><circle cx="540.1" cy="106.7" r="4" fill="#1f77b4"/><circle cx="547.4" cy="213.2" r="4" fill="#9370db"/><circle cx="575.8" cy="212.1" r="4" fill="#32cd32"/><circle cx="499.2" cy="247.3" r="4" fill="#ffa500"/><circle cx="593.8" cy="206.5" r="4" fill="#32cd32"/><circle cx="528.2" cy="230.8" r="4" fill="#1f77b4"/><circle cx="537.2" cy="105.3" r="4" fill="#1f77b4"/><circle cx="578.7" cy="111.9" r="4" fill="#db7093"/><circle cx="526.5" cy="176.4" r="4" fill="#ffa500"/><circle cx="547.4" cy="135.5" r="4" fill="#1f77b4"/><circle cx="525.1" cy="130.6" r="4" fill="#1f77b4"/><circle cx="489.0" cy="133.3" r="4" fill="#1f77b4"/><circle cx="518.3" cy="125.2" r="4" fill="#db7093"/><circle cx="521.9" cy="183.2" r="4" fill="#32cd32"/><circle cx="515.1" cy="107.8" r="4" fill="#1f77b4"/><circle cx="553.1" cy="90.8" r="4" fill="#ffa500"/><circle cx="536.6" cy="93.5" r="4" fill="#ffa500"/><circle cx="559.9" cy="151.4" r="4" fill="#db7093"/><circle cx="488.8" cy="147.3" r="4" fill="#1f77b4"/><circle cx="576.6" cy="123.7" r="4" fill="#ffa500"/><circle cx="551.0" cy="186.5" r="4" fill="#ffa500"/><circle cx="542.0" cy="116.4" r="4" fill="#db7093"/><circle cx="582.0" cy="228.5" r="4" fill="#32cd32"/><circle cx="455.6" cy="195.7" r="4" fill="#9370db"/><circle cx="526.1" cy="159.3" r="4" fill="#32cd32"/><circle cx="520.8" cy="104.4" r="4" fill="#1f77b4"/><circle cx="548.0" cy="111.2" r="4" fill="#1f77b4"/><circle cx="516.1" cy="153.5" r="4" fill="#9370db"/><circle cx="585.1" cy="176.3" r="4" fill="#32cd32"/><circle cx="517.4" cy="148.0" r="4" fill="#32cd32"/><circle cx="518.0" cy="98.5" r="4" fill="#ffa500"/><circle cx="501.5" cy="116.9" r="4" fill="#ffa500"/><circle cx="564.7" cy="111.8" r="4" fill="#db7093"/><circle cx="580.3" cy="158.2" r="4" fill="#32cd32"/><circle cx="494.7" cy="115.6" r="4" fill="#ffa500"/><circle cx="565.6" cy="135.5" r="4" fill="#1f77b4"/><circle cx="518.4" cy="200.7" r="4" fill="#1f77b4"/><circle cx="560.4" cy="103.4" r="4" fill="#9370db"/><circle cx="547.4" cy="148.0" r="4" fill="#32cd32"/><circle cx="450.0" cy="190.0" r="4" fill="#9370db"/><circle cx="525.3" cy="264.9" r="4" fill="#9370db"/><circle cx="589.4" cy="201.4" r="4" fill="#32cd32"/><circle cx="521.3" cy="184.9" r="4" fill="#1f77b4"/><circle cx="500.4" cy="188.9" r="4" fill="#db7093"/><circle cx="538.0" cy="127.9" r="4" fill="#1f77b4"/><circle cx="561.0" cy="205.3" r="4" fill="#32cd32"/><circle cx="584.0" cy="189.0" r="4" fill="#32cd32"/><circle cx="523.3" cy="129.4" r="4" fill="#1f77b4"/><circle cx="525.5" cy="219.6" r="4" fill="#32cd32"/><circle cx="539.0" cy="187.8" r="4" fill="#ffa500"/><circle cx="540.1" cy="123.7" r="4" fill="#1f77b4"/><circle cx="491.0" cy="141.4" r="4" fill="#1f77b4"/><circle cx="566.7" cy="152.6" r="4" fill="#1f77b4"/><circle cx="532.6" cy="117.1" r="4" fill="#1f77b4"/><circle cx="538.3" cy="139.4" r="4" fill="#1f77b4"/><circle cx="540.5" cy="163.7" r="4" fill="#db7093"/><circle cx="448.2" cy="213.2" r="4" fill="#9370db"/><circle cx="559.8" cy="126.4" r="4" fill="#db7093"/><circle cx="529.0" cy="197.8" r="4" fill="#1f77b4"/><circle cx="507.2" cy="212.1" r="4" fill="#db7093"/><circle cx="532.8" cy="141.4" r="4" fill="#32cd32"/><circle cx="562.2" cy="82.3" r="4" fill="#32cd32"/><circle cx="499.2" cy="161.8" r="4" fill="#1f77b4"/><circle cx="580.8" cy="188.5" r="4" fill="#32cd32"/><circle cx="570.0" cy="93.2" r="4" fill="#ffa500"/><circle cx="533.3" cy="149.2" r="4" fill="#32cd32"/><circle cx="539.0" cy="118.3" r="4" fill="#ffa500"/><circle cx="543.4" cy="103.0" r="4" fill="#32cd32"/><circle cx="556.2" cy="137.7" r="4" fill="#ffa500"/><circle cx="515.1" cy="165.0" r="4" fill="#1f77b4"/><circle cx="528.8" cy="202.5" r="4" fill="#1f77b4"/><circle cx="548.0" cy="175.1" r="4" fill="#32cd32"/><circle cx="539.6" cy="101.1" r="4" fill="#9370db"/><circle cx="597.1" cy="185.5" r="4" fill="#32cd32"/><circle cx="539.1" cy="116.1" r="4" fill="#ffa500"/><circle cx="562.1" cy="93.4" r="4" fill="#1f77b4"/><circle cx="552.5" cy="185.7" r="4" fill="#32cd32"/><circle cx="554.4" cy="134.0" r="4" fill="#1f77b4"/><circle cx="575.8" cy="236.5" r="4" fill="#32cd32"/><circle cx="482.2" cy="218.9" r="4" fill="#ffa500"/><circle cx="513.1" cy="151.0" r="4" fill="#32cd32"/><circle cx="483.9" cy="178.6" r="4" fill="#ffa500"/><circle cx="492.0" cy="185.0" r="4" fill="#db7093"/><circle cx="551.2" cy="183.3" r="4" fill="#1f77b4"/><circle cx="564.4" cy="146.9" r="4" fill="#ffa500"/><circle cx="573.5" cy="204.6" r="4" fill="#32cd32"/><circle cx="491.0" cy="158.9" r="4" fill="#ffa500"/><circle cx="542.2" cy="138.5" r="4" fill="#1f77b4"/><circle cx="572.3" cy="125.9" r="4" fill="#ffa500"/><circle cx="527.2" cy="118.3" r="4" fill="#db7093"/><circle cx="559.7" cy="185.6" r="4" fill="#32cd32"/><circle cx="484.9" cy="187.8" r="4" fill="#32cd32"/><circle cx="548.0" cy="96.5" r="4" fill="#ffa500"/><circle cx="546.3" cy="249.5" r="4" fill="#9370db"/><circle cx="515.1" cy="154.8" r="4" fill="#32cd32"/><circle cx="592.8" cy="212.9" r="4" fill="#32cd32"/><circle cx="542.4" cy="111.2" r="4" fill="#1f77b4"/><circle cx="503.8" cy="171.9" r="4" fill="#ffa500"/><circle cx="595.3" cy="214.6" r="4" fill="#32cd32"/><circle cx="534.7" cy="136.6" r="4" fill="#ffa500"/><circle cx="519.7" cy="187.8" r="4" fill="#db7093"/><circle cx="584.9" cy="138.4" r="4" fill="#32cd32"/><circle cx="535.6" cy="192.3" r="4" fill="#ffa500"/><circle cx="470.0" cy="160.0" r="4" fill="#1f77b4"/><circle cx="559.4" cy="134.8" r="4" fill="#ffa500"/><circle cx="523.8" cy="102.9" r="4" fill="#db7093"/><circle cx="517.4" cy="177.5" r="4" fill="#db7093"/><circle cx="500.3" cy="176.5" r="4" fill="#ffa500"/><circle cx="472.6" cy="150.3" r="4" fill="#ffa500"/><circle cx="563.6" cy="88.0" r="4" fill="#1f77b4"/><circle cx="554.5" cy="181.0" r="4" fill="#32cd32"/><circle cx="516.8" cy="102.7" r="4" fill="#ffa500"/><circle cx="482.8" cy="211.5" r="4" fill="#32cd32"/><circle cx="522.0" cy="102.1" r="4" fill="#1f77b4"/><circle cx="526.1" cy="137.5" r="4" fill="#ffa500"/><circle cx="516.3" cy="136.7" r="4" fill="#32cd32"/><circle cx="596.8" cy="132.7" r="4" fill="#ffa500"/><circle cx="455.6" cy="131.0" r="4" fill="#ffa500"/><circle cx="568.4" cy="88.5" r="4" fill="#9370db"/><circle cx="476.5" cy="129.4" r="4" fill="#db7093"/><circle cx="528.8" cy="163.9" r="4" fill="#ffa500"/><circle cx="465.0" cy="175.0" r="4" fill="#1f77b4"/>
</g>
<rect x="400" y="59.5" width="218.8" height="217.8" fill="none" stroke="#1a1a1a" stroke-width="1.3"/>
<line x1="400.6" y1="168.4" x2="618.2" y2="168.4" stroke="#000" stroke-width="1.1" stroke-dasharray="3.8 1.75"/>
<text x="511" y="71.2" font-size="13.2" font-weight="bold" font-style="normal" fill="#000" text-anchor="middle">Energy sources</text>
<text x="575.5" y="266" font-size="12" font-weight="bold" font-style="italic" fill="#000" text-anchor="start">n=172</text>
<text x="414.4" y="120.4" font-size="11.2" font-weight="bold" font-style="italic" fill="#000" text-anchor="middle" transform="rotate(-90 414.4 120.4)">more solar,</text>
<text x="427.6" y="119" font-size="11.2" font-weight="bold" font-style="italic" fill="#000" text-anchor="middle" transform="rotate(-90 427.6 119)">wind, hydro</text>
<text x="420.6" y="222.3" font-size="11.2" font-weight="bold" font-style="italic" fill="#000" text-anchor="middle" transform="rotate(-90 420.6 222.3)">more biomass</text>
<path d="M418.1,159 L418.1,176.5" stroke="#000" stroke-width="1.6"/>
<path d="M418.2,154.2 L414.2,163.2 L422.2,163.2 Z M418.2,181.5 L414.2,172.5 L422.2,172.5 Z" fill="#000"/>
<line x1="54.6" y1="602.5" x2="54.6" y2="608.7" stroke="#1a1a1a" stroke-width="1.2"/>
<text x="54.6" y="619.5" font-size="12.2" font-weight="normal" font-style="normal" fill="#000" text-anchor="middle">0</text>
<line x1="109.2" y1="602.5" x2="109.2" y2="608.7" stroke="#1a1a1a" stroke-width="1.2"/>
<text x="109.2" y="619.5" font-size="12.2" font-weight="normal" font-style="normal" fill="#000" text-anchor="middle">50</text>
<line x1="163.8" y1="602.5" x2="163.8" y2="608.7" stroke="#1a1a1a" stroke-width="1.2"/>
<text x="163.8" y="619.5" font-size="12.2" font-weight="normal" font-style="normal" fill="#000" text-anchor="middle">100</text>
<line x1="218.4" y1="602.5" x2="218.4" y2="608.7" stroke="#1a1a1a" stroke-width="1.2"/>
<text x="218.4" y="619.5" font-size="12.2" font-weight="normal" font-style="normal" fill="#000" text-anchor="middle">150</text>
<line x1="273" y1="602.5" x2="273" y2="608.7" stroke="#1a1a1a" stroke-width="1.2"/>
<text x="273" y="619.5" font-size="12.2" font-weight="normal" font-style="normal" fill="#000" text-anchor="middle">200</text>
<line x1="81.9" y1="602.5" x2="81.9" y2="608.7" stroke="#1a1a1a" stroke-width="1.2"/>
<line x1="136.5" y1="602.5" x2="136.5" y2="608.7" stroke="#1a1a1a" stroke-width="1.2"/>
<line x1="191.1" y1="602.5" x2="191.1" y2="608.7" stroke="#1a1a1a" stroke-width="1.2"/>
<line x1="245.7" y1="602.5" x2="245.7" y2="608.7" stroke="#1a1a1a" stroke-width="1.2"/>
<line x1="48.4" y1="602.5" x2="54.6" y2="602.5" stroke="#1a1a1a" stroke-width="1.2"/>
<text x="47" y="606.4" font-size="12.2" font-weight="normal" font-style="normal" fill="#000" text-anchor="end">20</text>
<line x1="48.4" y1="575.175" x2="54.6" y2="575.175" stroke="#1a1a1a" stroke-width="1.2"/>
<text x="47" y="579.075" font-size="12.2" font-weight="normal" font-style="normal" fill="#000" text-anchor="end">30</text>
<line x1="48.4" y1="547.85" x2="54.6" y2="547.85" stroke="#1a1a1a" stroke-width="1.2"/>
<text x="47" y="551.75" font-size="12.2" font-weight="normal" font-style="normal" fill="#000" text-anchor="end">40</text>
<line x1="48.4" y1="520.525" x2="54.6" y2="520.525" stroke="#1a1a1a" stroke-width="1.2"/>
<text x="47" y="524.425" font-size="12.2" font-weight="normal" font-style="normal" fill="#000" text-anchor="end">50</text>
<line x1="48.4" y1="493.2" x2="54.6" y2="493.2" stroke="#1a1a1a" stroke-width="1.2"/>
<text x="47" y="497.1" font-size="12.2" font-weight="normal" font-style="normal" fill="#000" text-anchor="end">60</text>
<line x1="48.4" y1="465.875" x2="54.6" y2="465.875" stroke="#1a1a1a" stroke-width="1.2"/>
<text x="47" y="469.775" font-size="12.2" font-weight="normal" font-style="normal" fill="#000" text-anchor="end">70</text>
<line x1="48.4" y1="438.55" x2="54.6" y2="438.55" stroke="#1a1a1a" stroke-width="1.2"/>
<text x="47" y="442.45" font-size="12.2" font-weight="normal" font-style="normal" fill="#000" text-anchor="end">80</text>
<line x1="48.4" y1="411.225" x2="54.6" y2="411.225" stroke="#1a1a1a" stroke-width="1.2"/>
<text x="47" y="415.125" font-size="12.2" font-weight="normal" font-style="normal" fill="#000" text-anchor="end">90</text>
<line x1="48.4" y1="383.9" x2="54.6" y2="383.9" stroke="#1a1a1a" stroke-width="1.2"/>
<text x="47" y="387.8" font-size="12.2" font-weight="normal" font-style="normal" fill="#000" text-anchor="end">100</text>
<path d="M52.90,376.40 C54.37,376.27 59.27,376.95 61.70,375.60 C64.13,374.25 65.32,371.22 67.50,368.30 C69.68,365.38 72.37,361.50 74.80,358.10 C77.23,354.70 79.90,350.57 82.10,347.90 C84.30,345.23 86.30,343.43 88.00,342.10 C89.70,340.77 90.85,339.90 92.30,339.90 C93.75,339.90 94.98,340.77 96.70,342.10 C98.42,343.43 100.65,345.72 102.60,347.90 C104.55,350.08 106.47,352.77 108.40,355.20 C110.33,357.63 112.02,360.07 114.20,362.50 C116.38,364.93 119.07,367.85 121.50,369.80 C123.93,371.75 126.12,373.23 128.80,374.20 C131.48,375.17 134.07,375.27 137.60,375.60 C141.13,375.93 145.43,376.07 150.00,376.20 C154.57,376.33 162.50,376.37 165.00,376.40" stroke="#ffa500" stroke-width="1.7" fill="none" stroke-linejoin="round" stroke-linecap="round"/>
<path d="M61.70,376.40 C63.88,376.15 71.40,376.25 74.80,374.90 C78.20,373.55 79.90,371.10 82.10,368.30 C84.30,365.50 86.30,360.65 88.00,358.10 C89.70,355.55 90.60,354.10 92.30,353.00 C94.00,351.90 96.00,352.35 98.20,351.50 C100.40,350.65 103.07,348.98 105.50,347.90 C107.93,346.82 110.62,345.25 112.80,345.00 C114.98,344.75 116.90,345.55 118.60,346.40 C120.30,347.25 121.30,347.90 123.00,350.10 C124.70,352.30 126.85,356.57 128.80,359.60 C130.75,362.63 132.50,366.12 134.70,368.30 C136.90,370.48 139.45,371.65 142.00,372.70 C144.55,373.75 147.32,374.13 150.00,374.60 C152.68,375.07 154.92,375.25 158.10,375.50 C161.28,375.75 167.27,376.00 169.10,376.10" stroke="#1f77b4" stroke-width="1.7" fill="none" stroke-linejoin="round" stroke-linecap="round"/>
<path d="M61.70,376.40 C64.62,376.15 75.07,376.00 79.20,374.90 C83.33,373.80 84.32,371.50 86.50,369.80 C88.68,368.10 90.12,366.40 92.30,364.70 C94.48,363.00 96.92,361.07 99.60,359.60 C102.28,358.13 105.72,357.00 108.40,355.90 C111.08,354.80 113.52,353.73 115.70,353.00 C117.88,352.27 119.32,351.38 121.50,351.50 C123.68,351.62 126.12,352.72 128.80,353.70 C131.48,354.68 134.90,355.82 137.60,357.40 C140.30,358.98 142.30,361.32 145.00,363.20 C147.70,365.08 150.15,367.23 153.80,368.70 C157.45,370.17 161.80,371.02 166.90,372.00 C172.00,372.98 176.92,373.95 184.40,374.60 C191.88,375.25 207.23,375.68 211.80,375.90" stroke="#32cd32" stroke-width="1.7" fill="none" stroke-linejoin="round" stroke-linecap="round"/>
<path d="M61.70,376.40 C67.05,376.40 86.50,376.77 93.80,376.40 C101.10,376.03 102.10,375.05 105.50,374.20 C108.90,373.35 111.28,372.40 114.20,371.30 C117.12,370.20 120.07,368.58 123.00,367.60 C125.93,366.62 128.88,365.97 131.80,365.40 C134.72,364.83 137.47,364.52 140.50,364.20 C143.53,363.88 147.07,363.85 150.00,363.50 C152.93,363.15 154.92,362.58 158.10,362.10 C161.28,361.62 165.45,360.97 169.10,360.60 C172.75,360.23 176.72,359.65 180.00,359.90 C183.28,360.15 185.15,361.00 188.80,362.10 C192.45,363.20 197.52,365.22 201.90,366.50 C206.28,367.78 210.72,368.70 215.10,369.80 C219.48,370.90 223.47,372.18 228.20,373.10 C232.93,374.02 238.20,374.83 243.50,375.30 C248.80,375.77 253.25,375.80 260.00,375.90 C266.75,376.00 280.00,375.90 284.00,375.90" stroke="#9370db" stroke-width="1.7" fill="none" stroke-linejoin="round" stroke-linecap="round"/>
<path d="M99.60,376.40 C101.55,376.27 107.88,376.22 111.30,375.60 C114.72,374.98 117.18,373.92 120.10,372.70 C123.02,371.48 125.88,369.52 128.80,368.30 C131.72,367.08 134.90,366.07 137.60,365.40 C140.30,364.73 142.30,364.85 145.00,364.30 C147.70,363.75 150.88,362.83 153.80,362.10 C156.72,361.37 159.95,360.98 162.50,359.90 C165.05,358.82 166.73,356.95 169.10,355.60 C171.47,354.25 174.15,352.07 176.70,351.80 C179.25,351.53 181.65,352.65 184.40,354.00 C187.15,355.35 189.92,357.82 193.20,359.90 C196.48,361.98 200.45,364.85 204.10,366.50 C207.75,368.15 211.08,368.70 215.10,369.80 C219.12,370.90 223.83,372.18 228.20,373.10 C232.57,374.02 236.92,374.83 241.30,375.30 C245.68,375.77 252.30,375.80 254.50,375.90" stroke="#db7093" stroke-width="1.7" fill="none" stroke-linejoin="round" stroke-linecap="round"/>
<line x1="92.3" y1="337.4" x2="92.3" y2="381.2" stroke="#ff8c00" stroke-width="2.2" stroke-dasharray="2.9 1.2"/>
<line x1="108.4" y1="337.4" x2="108.4" y2="381.2" stroke="#1f77b4" stroke-width="2.2" stroke-dasharray="2.9 1.2"/>
<line x1="120.8" y1="337.4" x2="120.8" y2="381.2" stroke="#22cc22" stroke-width="2.2" stroke-dasharray="2.9 1.2"/>
<line x1="169.7" y1="337.4" x2="169.7" y2="381.2" stroke="#9370db" stroke-width="2.2" stroke-dasharray="2.9 1.2"/>
<line x1="176.3" y1="337.4" x2="176.3" y2="381.2" stroke="#db7093" stroke-width="2.2" stroke-dasharray="2.9 1.2"/>
<text x="59.6" y="345" font-size="12" font-weight="bold" font-style="italic" fill="#ff9a1f" text-anchor="start">36</text>
<text x="97.1" y="334.8" font-size="12" font-weight="bold" font-style="italic" fill="#3f8ac4" text-anchor="start">50</text>
<text x="122.3" y="336.5" font-size="12" font-weight="bold" font-style="italic" fill="#3fcf3f" text-anchor="start">61</text>
<text x="148.6" y="336.5" font-size="12" font-weight="bold" font-style="italic" fill="#9370db" text-anchor="start">106</text>
<text x="177.5" y="336.5" font-size="12" font-weight="bold" font-style="italic" fill="#d4648f" text-anchor="start">112</text>
<path d="M284.80,396.70 C284.82,403.92 284.82,429.12 284.90,440.00 C284.98,450.88 284.85,456.83 285.30,462.00 C285.75,467.17 286.48,467.33 287.60,471.00 C288.72,474.67 290.43,480.50 292.00,484.00 C293.57,487.50 295.33,489.67 297.00,492.00 C298.67,494.33 300.80,495.67 302.00,498.00 C303.20,500.33 303.92,503.35 304.20,506.00 C304.48,508.65 304.15,510.43 303.70,513.90 C303.25,517.37 302.18,522.50 301.50,526.80 C300.82,531.10 300.83,536.02 299.60,539.70 C298.37,543.38 295.93,545.83 294.10,548.90 C292.27,551.97 289.98,554.42 288.60,558.10 C287.22,561.78 286.42,567.02 285.80,571.00 C285.18,574.98 285.05,577.17 284.90,582.00 C284.75,586.83 284.90,597.00 284.90,600.00" stroke="#1f77b4" stroke-width="1.7" fill="none" stroke-linejoin="round" stroke-linecap="round"/>
<path d="M284.80,396.70 C284.88,398.92 284.97,405.50 285.30,410.00 C285.63,414.50 286.80,419.37 286.80,423.70 C286.80,428.03 285.07,431.78 285.30,436.00 C285.53,440.22 288.15,444.67 288.20,449.00 C288.25,453.33 286.00,455.17 285.60,462.00 C285.20,468.83 285.00,483.80 285.80,490.00 C286.60,496.20 287.78,496.13 290.40,499.20 C293.02,502.27 297.20,505.63 301.50,508.40 C305.80,511.17 312.68,513.65 316.20,515.80 C319.72,517.95 322.60,519.15 322.60,521.30 C322.60,523.45 319.12,526.25 316.20,528.70 C313.28,531.15 308.78,533.25 305.10,536.00 C301.42,538.75 297.00,542.12 294.10,545.20 C291.20,548.28 289.23,550.82 287.70,554.50 C286.17,558.18 285.37,563.38 284.90,567.30 C284.43,571.22 284.90,576.22 284.90,578.00" stroke="#db7093" stroke-width="1.7" fill="none" stroke-linejoin="round" stroke-linecap="round"/>
<path d="M284.80,396.70 C284.87,402.25 284.83,421.12 285.20,430.00 C285.57,438.88 286.45,444.00 287.00,450.00 C287.55,456.00 288.00,460.17 288.50,466.00 C289.00,471.83 288.75,479.17 290.00,485.00 C291.25,490.83 294.08,496.48 296.00,501.00 C297.92,505.52 299.37,508.42 301.50,512.10 C303.63,515.78 307.42,520.33 308.80,523.10 C310.18,525.87 310.42,526.85 309.80,528.70 C309.18,530.55 306.80,532.05 305.10,534.20 C303.40,536.35 301.73,538.83 299.60,541.60 C297.47,544.37 294.28,547.12 292.30,550.80 C290.32,554.48 288.93,559.10 287.70,563.70 C286.47,568.30 285.43,573.95 284.90,578.40 C284.37,582.85 284.57,588.40 284.50,590.40" stroke="#32cd32" stroke-width="1.7" fill="none" stroke-linejoin="round" stroke-linecap="round"/>
<path d="M284.80,420.00 C284.88,425.00 285.02,440.83 285.30,450.00 C285.58,459.17 285.95,468.33 286.50,475.00 C287.05,481.67 287.02,485.05 288.60,490.00 C290.18,494.95 294.17,500.10 296.00,504.70 C297.83,509.30 298.85,512.98 299.60,517.60 C300.35,522.22 300.50,527.80 300.50,532.40 C300.50,537.00 300.20,540.60 299.60,545.20 C299.00,549.80 298.12,554.77 296.90,560.00 C295.68,565.23 293.83,571.38 292.30,576.60 C290.77,581.82 288.93,587.17 287.70,591.30 C286.47,595.43 285.37,599.72 284.90,601.40" stroke="#ffa500" stroke-width="1.7" fill="none" stroke-linejoin="round" stroke-linecap="round"/>
<path d="M284.80,396.70 C284.88,402.25 285.13,417.78 285.30,430.00 C285.47,442.22 285.57,460.00 285.80,470.00 C286.03,480.00 286.23,484.83 286.70,490.00 C287.17,495.17 287.37,496.40 288.60,501.00 C289.83,505.60 292.27,512.37 294.10,517.60 C295.93,522.83 298.37,528.40 299.60,532.40 C300.83,536.40 301.65,538.53 301.50,541.60 C301.35,544.67 299.47,546.52 298.70,550.80 C297.93,555.08 297.35,562.70 296.90,567.30 C296.45,571.90 297.08,574.40 296.00,578.40 C294.92,582.40 292.10,587.47 290.40,591.30 C288.70,595.13 286.57,599.72 285.80,601.40" stroke="#9370db" stroke-width="1.7" fill="none" stroke-linejoin="round" stroke-linecap="round"/>
<line x1="274" y1="514.5" x2="322.6" y2="514.5" stroke="#1f77b4" stroke-width="2.1" stroke-dasharray="2.9 1.2"/>
<line x1="274" y1="521.9" x2="322.6" y2="521.9" stroke="#db7093" stroke-width="2.1" stroke-dasharray="2.9 1.2"/>
<line x1="274" y1="526.8" x2="322.6" y2="526.8" stroke="#22cc22" stroke-width="2.1" stroke-dasharray="2.9 1.2"/>
<line x1="274" y1="535.7" x2="322.6" y2="535.7" stroke="#ff8c00" stroke-width="2.1" stroke-dasharray="2.9 1.2"/>
<line x1="274" y1="540.1" x2="322.6" y2="540.1" stroke="#9370db" stroke-width="2.1" stroke-dasharray="2.9 1.2"/>
<text x="318.7" y="509" font-size="12" font-weight="bold" font-style="italic" fill="#3f8ac4" text-anchor="start">52</text>
<text x="325.5" y="520.6" font-size="12" font-weight="bold" font-style="italic" fill="#d4648f" text-anchor="start">50</text>
<text x="325.5" y="531.7" font-size="12" font-weight="bold" font-style="italic" fill="#3fcf3f" text-anchor="start">48</text>
<text x="325.5" y="542.5" font-size="12" font-weight="bold" font-style="italic" fill="#ff9a1f" text-anchor="start">45</text>
<text x="316.7" y="554.2" font-size="12" font-weight="bold" font-style="italic" fill="#9370db" text-anchor="start">43</text>
<text x="163.8" y="634.2" font-size="12.3" font-weight="normal" font-style="normal" fill="#000" text-anchor="middle">Final energy per capita (GJ/person)</text>
<text x="9.8" y="491.3" font-size="12.3" font-weight="normal" font-style="normal" fill="#000" text-anchor="middle" transform="rotate(-90 9.8 491.3)">Share of final energy</text>
<text x="24.3" y="494.2" font-size="12.3" font-weight="normal" font-style="normal" fill="#000" text-anchor="middle" transform="rotate(-90 24.3 494.2)">as electricity (%)</text>
<line x1="113.5" y1="385" x2="113.5" y2="602" stroke="#888" stroke-width="0.9" stroke-dasharray="3.5 2.2"/>
<text x="110.9" y="398.7" font-size="10.5" font-weight="normal" font-style="italic" fill="#777" text-anchor="middle" transform="rotate(-90 110.9 398.7)">2018</text>
<g fill-opacity="0.7">
<circle cx="134.1" cy="512.8" r="4" fill="#32cd32"/><circle cx="135.3" cy="538.4" r="4" fill="#32cd32"/><circle cx="184.4" cy="531.9" r="4" fill="#db7093"/><circle cx="121.6" cy="510.8" r="4" fill="#1f77b4"/><circle cx="150.5" cy="525.4" r="4" fill="#32cd32"/><circle cx="175.6" cy="567.5" r="4" fill="#9370db"/><circle cx="160.7" cy="531.5" r="4" fill="#db7093"/><circle cx="74.5" cy="583.4" r="4" fill="#ffa500"/><circle cx="77.3" cy="565.6" r="4" fill="#ffa500"/><circle cx="98.8" cy="523.7" r="4" fill="#1f77b4"/><circle cx="147.4" cy="492.7" r="4" fill="#1f77b4"/><circle cx="146.5" cy="568.0" r="4" fill="#9370db"/><circle cx="128.9" cy="513.4" r="4" fill="#32cd32"/><circle cx="196.2" cy="573.9" r="4" fill="#9370db"/><circle cx="133.1" cy="518.0" r="4" fill="#1f77b4"/><circle cx="123.1" cy="493.4" r="4" fill="#1f77b4"/><circle cx="128.5" cy="547.9" r="4" fill="#9370db"/><circle cx="171.4" cy="541.9" r="4" fill="#db7093"/><circle cx="174.3" cy="542.2" r="4" fill="#db7093"/><circle cx="91.4" cy="545.7" r="4" fill="#1f77b4"/><circle cx="140.3" cy="505.3" r="4" fill="#32cd32"/><circle cx="188.5" cy="575.0" r="4" fill="#9370db"/><circle cx="193.0" cy="505.2" r="4" fill="#db7093"/><circle cx="88.8" cy="504.5" r="4" fill="#1f77b4"/><circle cx="127.9" cy="532.0" r="4" fill="#32cd32"/><circle cx="117.8" cy="463.4" r="4" fill="#1f77b4"/><circle cx="132.6" cy="543.1" r="4" fill="#32cd32"/><circle cx="135.5" cy="533.5" r="4" fill="#32cd32"/><circle cx="97.7" cy="548.3" r="4" fill="#32cd32"/><circle cx="86.8" cy="577.2" r="4" fill="#ffa500"/><circle cx="104.5" cy="509.6" r="4" fill="#1f77b4"/><circle cx="199.0" cy="516.8" r="4" fill="#db7093"/><circle cx="86.0" cy="495.0" r="4" fill="#1f77b4"/><circle cx="223.0" cy="583.3" r="4" fill="#9370db"/><circle cx="145.7" cy="450.1" r="4" fill="#32cd32"/><circle cx="155.7" cy="557.0" r="4" fill="#9370db"/><circle cx="184.2" cy="509.5" r="4" fill="#db7093"/><circle cx="242.1" cy="474.3" r="4" fill="#9370db"/><circle cx="106.3" cy="537.7" r="4" fill="#1f77b4"/><circle cx="100.7" cy="538.9" r="4" fill="#1f77b4"/><circle cx="96.7" cy="503.3" r="4" fill="#32cd32"/><circle cx="93.3" cy="510.7" r="4" fill="#1f77b4"/><circle cx="191.7" cy="474.9" r="4" fill="#9370db"/><circle cx="111.5" cy="564.4" r="4" fill="#ffa500"/><circle cx="200.5" cy="533.6" r="4" fill="#db7093"/><circle cx="114.9" cy="523.3" r="4" fill="#1f77b4"/><circle cx="208.4" cy="506.8" r="4" fill="#db7093"/><circle cx="131.9" cy="478.3" r="4" fill="#32cd32"/><circle cx="82.9" cy="504.4" r="4" fill="#1f77b4"/><circle cx="106.9" cy="503.0" r="4" fill="#1f77b4"/><circle cx="132.4" cy="485.6" r="4" fill="#1f77b4"/><circle cx="127.3" cy="566.3" r="4" fill="#9370db"/><circle cx="102.3" cy="555.2" r="4" fill="#ffa500"/><circle cx="185.1" cy="423.9" r="4" fill="#db7093"/><circle cx="138.9" cy="524.9" r="4" fill="#32cd32"/><circle cx="201.5" cy="518.8" r="4" fill="#db7093"/><circle cx="101.1" cy="514.1" r="4" fill="#1f77b4"/><circle cx="171.0" cy="489.8" r="4" fill="#db7093"/><circle cx="131.9" cy="492.8" r="4" fill="#1f77b4"/><circle cx="103.2" cy="536.7" r="4" fill="#1f77b4"/><circle cx="94.8" cy="482.9" r="4" fill="#1f77b4"/><circle cx="123.3" cy="533.8" r="4" fill="#32cd32"/><circle cx="98.6" cy="528.4" r="4" fill="#1f77b4"/><circle cx="139.1" cy="515.7" r="4" fill="#32cd32"/><circle cx="186.0" cy="502.5" r="4" fill="#db7093"/><circle cx="153.3" cy="507.8" r="4" fill="#db7093"/><circle cx="96.2" cy="497.6" r="4" fill="#1f77b4"/><circle cx="139.6" cy="538.6" r="4" fill="#32cd32"/><circle cx="92.0" cy="451.3" r="4" fill="#1f77b4"/><circle cx="92.2" cy="521.9" r="4" fill="#1f77b4"/><circle cx="131.3" cy="536.6" r="4" fill="#32cd32"/><circle cx="216.1" cy="522.2" r="4" fill="#db7093"/><circle cx="196.5" cy="535.0" r="4" fill="#db7093"/><circle cx="94.8" cy="515.2" r="4" fill="#1f77b4"/><circle cx="92.2" cy="486.5" r="4" fill="#32cd32"/><circle cx="203.9" cy="581.6" r="4" fill="#9370db"/><circle cx="122.1" cy="496.1" r="4" fill="#1f77b4"/><circle cx="111.8" cy="494.1" r="4" fill="#1f77b4"/><circle cx="135.8" cy="491.8" r="4" fill="#1f77b4"/><circle cx="120.2" cy="531.7" r="4" fill="#32cd32"/><circle cx="151.3" cy="567.4" r="4" fill="#9370db"/><circle cx="101.2" cy="494.6" r="4" fill="#1f77b4"/><circle cx="78.9" cy="579.6" r="4" fill="#ffa500"/><circle cx="149.2" cy="530.7" r="4" fill="#32cd32"/><circle cx="181.6" cy="563.3" r="4" fill="#9370db"/><circle cx="105.8" cy="566.7" r="4" fill="#32cd32"/><circle cx="144.8" cy="518.3" r="4" fill="#32cd32"/><circle cx="98.1" cy="538.6" r="4" fill="#1f77b4"/><circle cx="172.2" cy="449.0" r="4" fill="#db7093"/><circle cx="102.3" cy="571.3" r="4" fill="#ffa500"/><circle cx="118.9" cy="532.6" r="4" fill="#1f77b4"/><circle cx="106.7" cy="517.2" r="4" fill="#1f77b4"/><circle cx="196.3" cy="520.3" r="4" fill="#db7093"/><circle cx="96.0" cy="520.0" r="4" fill="#32cd32"/><circle cx="177.4" cy="540.9" r="4" fill="#db7093"/><circle cx="117.3" cy="458.2" r="4" fill="#1f77b4"/><circle cx="152.6" cy="549.6" r="4" fill="#32cd32"/><circle cx="100.0" cy="501.2" r="4" fill="#32cd32"/><circle cx="159.0" cy="540.5" r="4" fill="#32cd32"/><circle cx="191.3" cy="535.0" r="4" fill="#db7093"/><circle cx="209.0" cy="516.3" r="4" fill="#db7093"/><circle cx="126.0" cy="498.9" r="4" fill="#1f77b4"/><circle cx="140.6" cy="518.2" r="4" fill="#32cd32"/><circle cx="69.9" cy="567.9" r="4" fill="#ffa500"/><circle cx="92.1" cy="529.8" r="4" fill="#1f77b4"/><circle cx="185.3" cy="499.7" r="4" fill="#db7093"/><circle cx="93.1" cy="503.5" r="4" fill="#32cd32"/><circle cx="75.9" cy="551.8" r="4" fill="#ffa500"/><circle cx="173.9" cy="453.0" r="4" fill="#32cd32"/><circle cx="174.5" cy="459.3" r="4" fill="#db7093"/><circle cx="103.3" cy="540.0" r="4" fill="#1f77b4"/><circle cx="116.1" cy="521.7" r="4" fill="#1f77b4"/><circle cx="115.2" cy="537.7" r="4" fill="#1f77b4"/><circle cx="101.4" cy="540.9" r="4" fill="#1f77b4"/><circle cx="142.6" cy="533.9" r="4" fill="#32cd32"/><circle cx="112.4" cy="502.6" r="4" fill="#1f77b4"/><circle cx="156.8" cy="560.8" r="4" fill="#9370db"/><circle cx="72.0" cy="515.0" r="4" fill="#ffa500"/><circle cx="181.4" cy="523.5" r="4" fill="#db7093"/><circle cx="115.0" cy="510.0" r="4" fill="#32cd32"/><circle cx="175.7" cy="516.3" r="4" fill="#db7093"/><circle cx="104.6" cy="459.9" r="4" fill="#ffa500"/><circle cx="109.8" cy="539.5" r="4" fill="#1f77b4"/><circle cx="75.0" cy="525.0" r="4" fill="#ffa500"/><circle cx="121.5" cy="494.2" r="4" fill="#1f77b4"/><circle cx="100.1" cy="492.5" r="4" fill="#1f77b4"/><circle cx="130.5" cy="582.7" r="4" fill="#9370db"/><circle cx="72.1" cy="583.7" r="4" fill="#ffa500"/><circle cx="159.5" cy="513.4" r="4" fill="#32cd32"/><circle cx="160.8" cy="508.4" r="4" fill="#db7093"/><circle cx="85.4" cy="512.5" r="4" fill="#1f77b4"/><circle cx="129.3" cy="520.7" r="4" fill="#32cd32"/><circle cx="180.7" cy="516.6" r="4" fill="#db7093"/><circle cx="127.4" cy="593.7" r="4" fill="#9370db"/><circle cx="226.3" cy="577.1" r="4" fill="#9370db"/><circle cx="141.1" cy="503.6" r="4" fill="#ffa500"/><circle cx="120.7" cy="559.8" r="4" fill="#32cd32"/><circle cx="211.2" cy="524.9" r="4" fill="#db7093"/><circle cx="159.8" cy="422.6" r="4" fill="#db7093"/><circle cx="127.6" cy="543.7" r="4" fill="#db7093"/><circle cx="92.1" cy="537.6" r="4" fill="#1f77b4"/><circle cx="102.3" cy="534.5" r="4" fill="#32cd32"/><circle cx="180.6" cy="538.3" r="4" fill="#db7093"/><circle cx="134.7" cy="515.9" r="4" fill="#32cd32"/><circle cx="120.3" cy="516.5" r="4" fill="#1f77b4"/><circle cx="113.0" cy="531.8" r="4" fill="#1f77b4"/><circle cx="124.3" cy="516.7" r="4" fill="#32cd32"/><circle cx="110.0" cy="491.1" r="4" fill="#1f77b4"/><circle cx="166.9" cy="440.8" r="4" fill="#32cd32"/><circle cx="167.1" cy="553.1" r="4" fill="#9370db"/><circle cx="162.8" cy="534.1" r="4" fill="#db7093"/><circle cx="169.9" cy="550.2" r="4" fill="#9370db"/><circle cx="108.7" cy="518.4" r="4" fill="#1f77b4"/><circle cx="85.0" cy="558.7" r="4" fill="#1f77b4"/><circle cx="166.9" cy="531.0" r="4" fill="#db7093"/><circle cx="116.4" cy="530.1" r="4" fill="#32cd32"/><circle cx="125.9" cy="528.9" r="4" fill="#32cd32"/><circle cx="69.5" cy="585.5" r="4" fill="#ffa500"/><circle cx="105.6" cy="527.9" r="4" fill="#1f77b4"/><circle cx="96.3" cy="507.4" r="4" fill="#1f77b4"/><circle cx="104.6" cy="557.5" r="4" fill="#ffa500"/><circle cx="142.6" cy="516.3" r="4" fill="#32cd32"/><circle cx="111.4" cy="531.1" r="4" fill="#1f77b4"/><circle cx="195.3" cy="539.7" r="4" fill="#db7093"/><circle cx="117.3" cy="501.0" r="4" fill="#1f77b4"/><circle cx="120.0" cy="500.0" r="4" fill="#32cd32"/><circle cx="141.1" cy="455.9" r="4" fill="#32cd32"/><circle cx="121.7" cy="489.6" r="4" fill="#1f77b4"/><circle cx="118.2" cy="537.8" r="4" fill="#32cd32"/><circle cx="121.8" cy="539.1" r="4" fill="#1f77b4"/><circle cx="173.3" cy="499.2" r="4" fill="#db7093"/><circle cx="114.6" cy="494.6" r="4" fill="#1f77b4"/><circle cx="108.7" cy="527.3" r="4" fill="#1f77b4"/><circle cx="154.9" cy="520.3" r="4" fill="#ffa500"/><circle cx="220.8" cy="438.3" r="4" fill="#db7093"/><circle cx="151.5" cy="503.6" r="4" fill="#1f77b4"/><circle cx="121.3" cy="521.9" r="4" fill="#1f77b4"/><circle cx="167.6" cy="541.2" r="4" fill="#db7093"/><circle cx="199.5" cy="550.4" r="4" fill="#db7093"/><circle cx="168.4" cy="506.5" r="4" fill="#db7093"/><circle cx="124.1" cy="571.8" r="4" fill="#9370db"/><circle cx="200.0" cy="495.0" r="4" fill="#db7093"/><circle cx="128.4" cy="551.9" r="4" fill="#9370db"/><circle cx="226.3" cy="574.8" r="4" fill="#9370db"/><circle cx="73.7" cy="587.1" r="4" fill="#ffa500"/><circle cx="167.6" cy="537.3" r="4" fill="#db7093"/><circle cx="233.2" cy="570.6" r="4" fill="#9370db"/><circle cx="121.1" cy="534.5" r="4" fill="#1f77b4"/><circle cx="127.9" cy="516.7" r="4" fill="#1f77b4"/><circle cx="172.7" cy="426.4" r="4" fill="#db7093"/><circle cx="106.2" cy="495.7" r="4" fill="#1f77b4"/><circle cx="92.7" cy="497.9" r="4" fill="#1f77b4"/><circle cx="175.0" cy="520.0" r="4" fill="#9370db"/><circle cx="128.1" cy="512.2" r="4" fill="#32cd32"/><circle cx="115.6" cy="524.9" r="4" fill="#1f77b4"/><circle cx="94.2" cy="502.2" r="4" fill="#32cd32"/><circle cx="137.5" cy="563.6" r="4" fill="#9370db"/><circle cx="143.2" cy="538.8" r="4" fill="#32cd32"/><circle cx="128.3" cy="572.8" r="4" fill="#9370db"/><circle cx="194.0" cy="534.1" r="4" fill="#9370db"/><circle cx="118.0" cy="545.0" r="4" fill="#1f77b4"/><circle cx="132.6" cy="495.7" r="4" fill="#1f77b4"/><circle cx="187.7" cy="523.8" r="4" fill="#32cd32"/><circle cx="206.6" cy="558.2" r="4" fill="#9370db"/><circle cx="148.0" cy="575.0" r="4" fill="#9370db"/><circle cx="150.9" cy="505.9" r="4" fill="#1f77b4"/><circle cx="220.2" cy="443.0" r="4" fill="#db7093"/><circle cx="112.9" cy="520.3" r="4" fill="#1f77b4"/><circle cx="133.3" cy="523.4" r="4" fill="#32cd32"/><circle cx="201.9" cy="528.1" r="4" fill="#db7093"/><circle cx="153.4" cy="523.0" r="4" fill="#db7093"/><circle cx="87.6" cy="555.6" r="4" fill="#1f77b4"/><circle cx="201.3" cy="503.2" r="4" fill="#db7093"/><circle cx="171.3" cy="520.5" r="4" fill="#db7093"/><circle cx="221.4" cy="447.7" r="4" fill="#db7093"/><circle cx="123.1" cy="548.9" r="4" fill="#9370db"/><circle cx="96.7" cy="521.2" r="4" fill="#1f77b4"/><circle cx="129.4" cy="593.7" r="4" fill="#9370db"/><circle cx="140.9" cy="579.4" r="4" fill="#9370db"/><circle cx="127.5" cy="492.2" r="4" fill="#1f77b4"/><circle cx="135.9" cy="509.9" r="4" fill="#32cd32"/><circle cx="110.2" cy="493.3" r="4" fill="#1f77b4"/><circle cx="90.9" cy="517.9" r="4" fill="#1f77b4"/><circle cx="122.2" cy="518.3" r="4" fill="#32cd32"/><circle cx="94.7" cy="493.9" r="4" fill="#1f77b4"/><circle cx="127.3" cy="557.1" r="4" fill="#32cd32"/><circle cx="112.2" cy="505.7" r="4" fill="#1f77b4"/><circle cx="83.6" cy="551.0" r="4" fill="#ffa500"/><circle cx="70.4" cy="569.6" r="4" fill="#ffa500"/><circle cx="116.1" cy="447.8" r="4" fill="#ffa500"/><circle cx="87.7" cy="495.8" r="4" fill="#32cd32"/><circle cx="160.7" cy="497.9" r="4" fill="#32cd32"/><circle cx="102.8" cy="518.0" r="4" fill="#1f77b4"/><circle cx="88.0" cy="559.7" r="4" fill="#1f77b4"/><circle cx="96.1" cy="528.8" r="4" fill="#1f77b4"/><circle cx="99.4" cy="504.7" r="4" fill="#1f77b4"/><circle cx="74.1" cy="578.0" r="4" fill="#ffa500"/><circle cx="81.6" cy="543.7" r="4" fill="#ffa500"/><circle cx="112.5" cy="491.5" r="4" fill="#1f77b4"/><circle cx="116.3" cy="494.7" r="4" fill="#1f77b4"/><circle cx="123.1" cy="514.7" r="4" fill="#1f77b4"/><circle cx="137.0" cy="576.1" r="4" fill="#9370db"/><circle cx="144.9" cy="509.2" r="4" fill="#32cd32"/><circle cx="100.7" cy="521.6" r="4" fill="#1f77b4"/><circle cx="120.8" cy="577.2" r="4" fill="#9370db"/><circle cx="211.2" cy="518.7" r="4" fill="#db7093"/><circle cx="183.5" cy="544.2" r="4" fill="#db7093"/><circle cx="158.6" cy="524.2" r="4" fill="#db7093"/><circle cx="226.7" cy="551.1" r="4" fill="#9370db"/><circle cx="176.8" cy="482.3" r="4" fill="#db7093"/><circle cx="203.3" cy="579.9" r="4" fill="#9370db"/><circle cx="74.0" cy="505.0" r="4" fill="#ffa500"/><circle cx="202.8" cy="525.2" r="4" fill="#db7093"/><circle cx="98.6" cy="530.8" r="4" fill="#1f77b4"/><circle cx="118.5" cy="542.3" r="4" fill="#1f77b4"/><circle cx="95.6" cy="553.1" r="4" fill="#32cd32"/><circle cx="176.7" cy="499.8" r="4" fill="#db7093"/><circle cx="123.0" cy="569.0" r="4" fill="#9370db"/><circle cx="217.3" cy="526.3" r="4" fill="#db7093"/><circle cx="121.9" cy="463.4" r="4" fill="#32cd32"/><circle cx="117.7" cy="519.6" r="4" fill="#32cd32"/><circle cx="97.9" cy="491.8" r="4" fill="#32cd32"/><circle cx="98.9" cy="512.3" r="4" fill="#1f77b4"/><circle cx="116.9" cy="515.9" r="4" fill="#1f77b4"/><circle cx="102.9" cy="467.4" r="4" fill="#32cd32"/><circle cx="136.7" cy="489.9" r="4" fill="#1f77b4"/><circle cx="118.8" cy="498.4" r="4" fill="#1f77b4"/><circle cx="115.7" cy="528.5" r="4" fill="#1f77b4"/><circle cx="105.9" cy="514.3" r="4" fill="#1f77b4"/><circle cx="123.0" cy="473.1" r="4" fill="#1f77b4"/><circle cx="75.2" cy="573.0" r="4" fill="#ffa500"/><circle cx="92.0" cy="494.4" r="4" fill="#32cd32"/><circle cx="179.4" cy="532.3" r="4" fill="#db7093"/><circle cx="114.0" cy="497.8" r="4" fill="#1f77b4"/><circle cx="133.3" cy="506.2" r="4" fill="#32cd32"/><circle cx="94.8" cy="495.7" r="4" fill="#32cd32"/><circle cx="190.0" cy="523.0" r="4" fill="#db7093"/><circle cx="205.1" cy="521.4" r="4" fill="#db7093"/><circle cx="219.0" cy="483.1" r="4" fill="#db7093"/><circle cx="172.2" cy="531.0" r="4" fill="#db7093"/><circle cx="119.6" cy="478.3" r="4" fill="#1f77b4"/><circle cx="146.9" cy="533.3" r="4" fill="#32cd32"/><circle cx="146.8" cy="514.5" r="4" fill="#32cd32"/><circle cx="187.7" cy="447.8" r="4" fill="#db7093"/><circle cx="119.5" cy="540.6" r="4" fill="#32cd32"/><circle cx="124.5" cy="484.0" r="4" fill="#1f77b4"/><circle cx="93.4" cy="520.2" r="4" fill="#1f77b4"/><circle cx="96.1" cy="526.6" r="4" fill="#1f77b4"/><circle cx="83.6" cy="562.9" r="4" fill="#ffa500"/><circle cx="108.6" cy="465.1" r="4" fill="#32cd32"/><circle cx="99.8" cy="534.6" r="4" fill="#1f77b4"/><circle cx="138.0" cy="523.3" r="4" fill="#32cd32"/><circle cx="138.5" cy="555.2" r="4" fill="#9370db"/><circle cx="99.8" cy="495.7" r="4" fill="#32cd32"/><circle cx="164.0" cy="502.0" r="4" fill="#db7093"/><circle cx="207.2" cy="532.8" r="4" fill="#db7093"/><circle cx="131.3" cy="556.0" r="4" fill="#9370db"/><circle cx="142.6" cy="510.1" r="4" fill="#32cd32"/><circle cx="150.2" cy="519.7" r="4" fill="#32cd32"/><circle cx="71.4" cy="575.0" r="4" fill="#ffa500"/><circle cx="91.0" cy="533.5" r="4" fill="#1f77b4"/><circle cx="83.8" cy="568.3" r="4" fill="#ffa500"/><circle cx="151.3" cy="559.7" r="4" fill="#db7093"/><circle cx="104.9" cy="490.4" r="4" fill="#1f77b4"/><circle cx="146.4" cy="558.1" r="4" fill="#db7093"/><circle cx="129.4" cy="546.6" r="4" fill="#9370db"/><circle cx="123.2" cy="563.4" r="4" fill="#9370db"/><circle cx="144.3" cy="526.0" r="4" fill="#32cd32"/><circle cx="181.4" cy="499.0" r="4" fill="#db7093"/><circle cx="107.3" cy="520.2" r="4" fill="#1f77b4"/><circle cx="185.3" cy="522.5" r="4" fill="#db7093"/><circle cx="120.3" cy="529.5" r="4" fill="#1f77b4"/><circle cx="112.5" cy="539.0" r="4" fill="#1f77b4"/><circle cx="119.7" cy="509.8" r="4" fill="#32cd32"/><circle cx="214.0" cy="530.7" r="4" fill="#db7093"/><circle cx="200.3" cy="528.5" r="4" fill="#db7093"/><circle cx="123.8" cy="526.8" r="4" fill="#1f77b4"/><circle cx="120.7" cy="449.0" r="4" fill="#ffa500"/><circle cx="109.6" cy="423.1" r="4" fill="#32cd32"/><circle cx="91.9" cy="501.2" r="4" fill="#1f77b4"/><circle cx="130.5" cy="506.0" r="4" fill="#32cd32"/><circle cx="191.1" cy="461.1" r="4" fill="#9370db"/><circle cx="165.3" cy="495.6" r="4" fill="#9370db"/><circle cx="111.5" cy="509.6" r="4" fill="#1f77b4"/><circle cx="108.9" cy="547.2" r="4" fill="#1f77b4"/><circle cx="138.2" cy="518.9" r="4" fill="#32cd32"/><circle cx="91.4" cy="513.6" r="4" fill="#1f77b4"/><circle cx="114.6" cy="511.8" r="4" fill="#1f77b4"/><circle cx="120.4" cy="507.6" r="4" fill="#1f77b4"/><circle cx="137.7" cy="554.8" r="4" fill="#32cd32"/><circle cx="118.9" cy="525.8" r="4" fill="#1f77b4"/><circle cx="160.2" cy="520.9" r="4" fill="#db7093"/><circle cx="122.8" cy="503.7" r="4" fill="#1f77b4"/><circle cx="88.5" cy="522.9" r="4" fill="#1f77b4"/><circle cx="112.9" cy="517.4" r="4" fill="#1f77b4"/><circle cx="117.0" cy="491.0" r="4" fill="#1f77b4"/><circle cx="104.0" cy="516.4" r="4" fill="#1f77b4"/><circle cx="196.0" cy="451.3" r="4" fill="#db7093"/><circle cx="94.2" cy="530.8" r="4" fill="#1f77b4"/><circle cx="122.2" cy="541.6" r="4" fill="#32cd32"/><circle cx="101.8" cy="497.8" r="4" fill="#1f77b4"/><circle cx="88.1" cy="499.7" r="4" fill="#1f77b4"/><circle cx="203.0" cy="533.9" r="4" fill="#db7093"/><circle cx="176.4" cy="555.5" r="4" fill="#9370db"/><circle cx="155.9" cy="513.6" r="4" fill="#db7093"/><circle cx="100.4" cy="489.2" r="4" fill="#1f77b4"/><circle cx="109.7" cy="536.4" r="4" fill="#1f77b4"/><circle cx="217.3" cy="469.6" r="4" fill="#9370db"/><circle cx="78.0" cy="500.0" r="4" fill="#ffa500"/><circle cx="138.4" cy="543.2" r="4" fill="#32cd32"/><circle cx="226.9" cy="584.4" r="4" fill="#9370db"/><circle cx="172.4" cy="528.1" r="4" fill="#db7093"/><circle cx="206.6" cy="542.2" r="4" fill="#9370db"/><circle cx="129.3" cy="490.8" r="4" fill="#1f77b4"/><circle cx="80.3" cy="580.5" r="4" fill="#ffa500"/><circle cx="115.8" cy="513.2" r="4" fill="#1f77b4"/><circle cx="165.6" cy="554.0" r="4" fill="#9370db"/><circle cx="205.3" cy="423.9" r="4" fill="#db7093"/><circle cx="77.0" cy="548.3" r="4" fill="#ffa500"/><circle cx="178.1" cy="509.4" r="4" fill="#db7093"/><circle cx="106.4" cy="543.4" r="4" fill="#1f77b4"/><circle cx="196.0" cy="457.2" r="4" fill="#db7093"/><circle cx="130.1" cy="501.2" r="4" fill="#1f77b4"/><circle cx="138.0" cy="501.2" r="4" fill="#1f77b4"/><circle cx="214.9" cy="499.7" r="4" fill="#9370db"/><circle cx="126.2" cy="472.6" r="4" fill="#1f77b4"/><circle cx="114.4" cy="534.6" r="4" fill="#1f77b4"/><circle cx="119.9" cy="527.3" r="4" fill="#1f77b4"/><circle cx="107.9" cy="535.8" r="4" fill="#1f77b4"/><circle cx="177.9" cy="472.0" r="4" fill="#9370db"/><circle cx="156.8" cy="535.8" r="4" fill="#db7093"/><circle cx="148.4" cy="538.9" r="4" fill="#32cd32"/><circle cx="143.0" cy="506.9" r="4" fill="#32cd32"/><circle cx="172.7" cy="430.0" r="4" fill="#db7093"/><circle cx="104.0" cy="512.0" r="4" fill="#32cd32"/><circle cx="141.7" cy="561.6" r="4" fill="#9370db"/><circle cx="91.2" cy="571.8" r="4" fill="#ffa500"/><circle cx="177.4" cy="522.6" r="4" fill="#db7093"/><circle cx="77.0" cy="570.2" r="4" fill="#ffa500"/><circle cx="79.3" cy="512.7" r="4" fill="#ffa500"/><circle cx="180.8" cy="576.1" r="4" fill="#9370db"/><circle cx="113.9" cy="420.6" r="4" fill="#32cd32"/><circle cx="77.0" cy="530.0" r="4" fill="#ffa500"/><circle cx="177.4" cy="506.2" r="4" fill="#db7093"/><circle cx="184.1" cy="566.3" r="4" fill="#9370db"/><circle cx="143.1" cy="551.0" r="4" fill="#9370db"/><circle cx="187.8" cy="524.0" r="4" fill="#db7093"/><circle cx="189.8" cy="518.1" r="4" fill="#db7093"/><circle cx="82.3" cy="556.7" r="4" fill="#ffa500"/><circle cx="192.3" cy="500.1" r="4" fill="#db7093"/><circle cx="133.6" cy="489.0" r="4" fill="#1f77b4"/><circle cx="157.2" cy="452.4" r="4" fill="#32cd32"/><circle cx="150.3" cy="551.1" r="4" fill="#9370db"/><circle cx="118.4" cy="486.9" r="4" fill="#ffa500"/><circle cx="105.2" cy="541.7" r="4" fill="#1f77b4"/><circle cx="188.8" cy="528.9" r="4" fill="#db7093"/><circle cx="143.4" cy="551.9" r="4" fill="#32cd32"/><circle cx="96.9" cy="500.1" r="4" fill="#1f77b4"/><circle cx="98.1" cy="495.7" r="4" fill="#1f77b4"/><circle cx="80.0" cy="505.0" r="4" fill="#ffa500"/><circle cx="118.7" cy="534.1" r="4" fill="#32cd32"/><circle cx="227.9" cy="510.1" r="4" fill="#db7093"/><circle cx="108.0" cy="528.0" r="4" fill="#32cd32"/><circle cx="78.0" cy="575.6" r="4" fill="#ffa500"/><circle cx="139.4" cy="460.5" r="4" fill="#32cd32"/><circle cx="120.0" cy="516.0" r="4" fill="#32cd32"/><circle cx="145.7" cy="496.7" r="4" fill="#1f77b4"/><circle cx="97.1" cy="535.3" r="4" fill="#1f77b4"/><circle cx="125.0" cy="578.3" r="4" fill="#9370db"/><circle cx="196.6" cy="535.2" r="4" fill="#9370db"/><circle cx="96.0" cy="553.0" r="4" fill="#ffa500"/><circle cx="102.2" cy="490.4" r="4" fill="#1f77b4"/><circle cx="130.4" cy="529.6" r="4" fill="#32cd32"/><circle cx="176.8" cy="447.3" r="4" fill="#db7093"/><circle cx="109.8" cy="462.8" r="4" fill="#ffa500"/><circle cx="90.5" cy="547.4" r="4" fill="#1f77b4"/><circle cx="79.9" cy="495.6" r="4" fill="#ffa500"/><circle cx="166.3" cy="519.6" r="4" fill="#db7093"/><circle cx="171.9" cy="509.3" r="4" fill="#db7093"/><circle cx="74.9" cy="562.6" r="4" fill="#ffa500"/><circle cx="90.0" cy="502.2" r="4" fill="#32cd32"/><circle cx="96.6" cy="557.5" r="4" fill="#32cd32"/><circle cx="176.1" cy="536.5" r="4" fill="#db7093"/><circle cx="95.1" cy="505.2" r="4" fill="#1f77b4"/><circle cx="87.0" cy="543.7" r="4" fill="#1f77b4"/><circle cx="168.7" cy="506.5" r="4" fill="#32cd32"/><circle cx="196.3" cy="447.3" r="4" fill="#9370db"/><circle cx="204.5" cy="506.7" r="4" fill="#db7093"/><circle cx="148.0" cy="543.3" r="4" fill="#9370db"/><circle cx="188.5" cy="503.1" r="4" fill="#db7093"/><circle cx="97.1" cy="446.7" r="4" fill="#1f77b4"/><circle cx="205.3" cy="533.6" r="4" fill="#db7093"/><circle cx="181.4" cy="451.9" r="4" fill="#db7093"/><circle cx="171.6" cy="497.3" r="4" fill="#32cd32"/><circle cx="103.0" cy="492.1" r="4" fill="#1f77b4"/><circle cx="118.9" cy="530.8" r="4" fill="#1f77b4"/><circle cx="109.9" cy="485.7" r="4" fill="#1f77b4"/><circle cx="105.9" cy="504.8" r="4" fill="#1f77b4"/><circle cx="88.5" cy="569.0" r="4" fill="#ffa500"/><circle cx="84.0" cy="490.0" r="4" fill="#ffa500"/><circle cx="188.0" cy="500.0" r="4" fill="#db7093"/><circle cx="81.6" cy="483.5" r="4" fill="#1f77b4"/><circle cx="93.2" cy="506.2" r="4" fill="#1f77b4"/><circle cx="101.6" cy="534.2" r="4" fill="#1f77b4"/><circle cx="109.5" cy="499.1" r="4" fill="#1f77b4"/><circle cx="80.7" cy="576.9" r="4" fill="#ffa500"/><circle cx="159.5" cy="552.5" r="4" fill="#9370db"/><circle cx="88.5" cy="491.0" r="4" fill="#32cd32"/><circle cx="109.5" cy="532.2" r="4" fill="#1f77b4"/><circle cx="104.4" cy="522.4" r="4" fill="#1f77b4"/><circle cx="133.5" cy="561.2" r="4" fill="#9370db"/><circle cx="133.9" cy="528.2" r="4" fill="#32cd32"/><circle cx="77.6" cy="558.2" r="4" fill="#ffa500"/><circle cx="176.8" cy="494.4" r="4" fill="#db7093"/><circle cx="90.6" cy="508.3" r="4" fill="#1f77b4"/><circle cx="115.3" cy="507.9" r="4" fill="#1f77b4"/><circle cx="94.7" cy="533.1" r="4" fill="#1f77b4"/><circle cx="101.7" cy="478.9" r="4" fill="#ffa500"/><circle cx="163.8" cy="514.5" r="4" fill="#db7093"/><circle cx="166.1" cy="516.7" r="4" fill="#db7093"/><circle cx="125.3" cy="512.4" r="4" fill="#32cd32"/><circle cx="167.2" cy="571.8" r="4" fill="#9370db"/><circle cx="100.0" cy="545.0" r="4" fill="#1f77b4"/><circle cx="87.2" cy="548.2" r="4" fill="#1f77b4"/><circle cx="125.3" cy="523.0" r="4" fill="#32cd32"/><circle cx="192.9" cy="579.4" r="4" fill="#9370db"/><circle cx="70.1" cy="473.1" r="4" fill="#ffa500"/><circle cx="186.4" cy="543.1" r="4" fill="#db7093"/><circle cx="121.9" cy="551.8" r="4" fill="#9370db"/><circle cx="132.8" cy="503.1" r="4" fill="#1f77b4"/><circle cx="88.7" cy="536.9" r="4" fill="#1f77b4"/><circle cx="91.5" cy="558.6" r="4" fill="#1f77b4"/><circle cx="163.1" cy="513.1" r="4" fill="#db7093"/><circle cx="203.1" cy="473.7" r="4" fill="#9370db"/><circle cx="90.4" cy="490.7" r="4" fill="#32cd32"/><circle cx="208.9" cy="578.2" r="4" fill="#9370db"/><circle cx="107.6" cy="525.3" r="4" fill="#1f77b4"/><circle cx="164.4" cy="548.8" r="4" fill="#9370db"/><circle cx="186.6" cy="534.1" r="4" fill="#db7093"/><circle cx="86.2" cy="459.3" r="4" fill="#32cd32"/><circle cx="98.0" cy="518.0" r="4" fill="#1f77b4"/><circle cx="167.0" cy="442.7" r="4" fill="#32cd32"/><circle cx="138.0" cy="496.8" r="4" fill="#1f77b4"/><circle cx="78.5" cy="573.2" r="4" fill="#ffa500"/><circle cx="72.6" cy="581.6" r="4" fill="#ffa500"/><circle cx="135.9" cy="435.2" r="4" fill="#9370db"/><circle cx="68.7" cy="581.2" r="4" fill="#ffa500"/><circle cx="136.0" cy="542.2" r="4" fill="#32cd32"/><circle cx="74.7" cy="521.3" r="4" fill="#ffa500"/><circle cx="188.3" cy="508.3" r="4" fill="#db7093"/><circle cx="179.7" cy="568.5" r="4" fill="#9370db"/><circle cx="180.8" cy="552.0" r="4" fill="#9370db"/><circle cx="96.9" cy="513.4" r="4" fill="#1f77b4"/><circle cx="121.0" cy="539.2" r="4" fill="#32cd32"/><circle cx="196.0" cy="531.2" r="4" fill="#db7093"/><circle cx="117.7" cy="506.2" r="4" fill="#1f77b4"/><circle cx="135.9" cy="539.3" r="4" fill="#1f77b4"/><circle cx="125.0" cy="580.0" r="4" fill="#9370db"/><circle cx="150.3" cy="568.6" r="4" fill="#9370db"/><circle cx="194.0" cy="457.0" r="4" fill="#db7093"/><circle cx="108.5" cy="493.3" r="4" fill="#1f77b4"/><circle cx="103.1" cy="503.0" r="4" fill="#1f77b4"/><circle cx="148.6" cy="462.8" r="4" fill="#db7093"/><circle cx="84.5" cy="520.6" r="4" fill="#1f77b4"/><circle cx="208.2" cy="509.0" r="4" fill="#db7093"/><circle cx="160.0" cy="490.0" r="4" fill="#db7093"/><circle cx="111.0" cy="515.8" r="4" fill="#1f77b4"/><circle cx="125.8" cy="525.2" r="4" fill="#32cd32"/><circle cx="110.2" cy="544.2" r="4" fill="#1f77b4"/><circle cx="125.0" cy="487.1" r="4" fill="#1f77b4"/><circle cx="206.0" cy="514.0" r="4" fill="#db7093"/><circle cx="119.4" cy="502.7" r="4" fill="#1f77b4"/><circle cx="179.1" cy="554.8" r="4" fill="#9370db"/><circle cx="111.2" cy="528.3" r="4" fill="#1f77b4"/><circle cx="128.2" cy="541.1" r="4" fill="#32cd32"/><circle cx="102.5" cy="523.7" r="4" fill="#1f77b4"/><circle cx="120.0" cy="525.0" r="4" fill="#32cd32"/><circle cx="171.6" cy="466.8" r="4" fill="#db7093"/><circle cx="194.0" cy="451.3" r="4" fill="#db7093"/><circle cx="156.1" cy="563.4" r="4" fill="#9370db"/><circle cx="89.0" cy="552.6" r="4" fill="#1f77b4"/><circle cx="121.5" cy="520.0" r="4" fill="#1f77b4"/><circle cx="213.1" cy="540.5" r="4" fill="#9370db"/><circle cx="113.3" cy="488.3" r="4" fill="#1f77b4"/><circle cx="110.3" cy="488.3" r="4" fill="#1f77b4"/><circle cx="176.2" cy="462.8" r="4" fill="#9370db"/><circle cx="155.2" cy="508.0" r="4" fill="#db7093"/><circle cx="168.6" cy="523.8" r="4" fill="#db7093"/><circle cx="69.7" cy="565.3" r="4" fill="#ffa500"/><circle cx="136.1" cy="500.1" r="4" fill="#1f77b4"/><circle cx="131.2" cy="520.4" r="4" fill="#32cd32"/><circle cx="158.4" cy="469.7" r="4" fill="#9370db"/><circle cx="128.9" cy="534.2" r="4" fill="#1f77b4"/><circle cx="81.6" cy="532.2" r="4" fill="#ffa500"/><circle cx="129.5" cy="503.9" r="4" fill="#1f77b4"/><circle cx="222.6" cy="542.8" r="4" fill="#db7093"/><circle cx="107.1" cy="507.4" r="4" fill="#1f77b4"/><circle cx="95.1" cy="523.4" r="4" fill="#1f77b4"/><circle cx="83.5" cy="572.9" r="4" fill="#ffa500"/><circle cx="201.2" cy="510.0" r="4" fill="#db7093"/><circle cx="113.7" cy="583.2" r="4" fill="#9370db"/><circle cx="180.8" cy="444.4" r="4" fill="#9370db"/><circle cx="101.7" cy="526.3" r="4" fill="#1f77b4"/><circle cx="126.3" cy="507.1" r="4" fill="#32cd32"/><circle cx="217.3" cy="546.4" r="4" fill="#db7093"/><circle cx="127.5" cy="511.8" r="4" fill="#1f77b4"/><circle cx="219.0" cy="473.1" r="4" fill="#db7093"/><circle cx="127.4" cy="588.2" r="4" fill="#9370db"/><circle cx="88.8" cy="528.1" r="4" fill="#1f77b4"/><circle cx="100.6" cy="509.3" r="4" fill="#1f77b4"/><circle cx="161.8" cy="463.4" r="4" fill="#32cd32"/><circle cx="126.2" cy="520.9" r="4" fill="#32cd32"/><circle cx="90.4" cy="510.2" r="4" fill="#1f77b4"/><circle cx="110.8" cy="502.0" r="4" fill="#1f77b4"/><circle cx="139.9" cy="540.5" r="4" fill="#32cd32"/><circle cx="270.7" cy="579.3" r="4" fill="#9370db"/><circle cx="101.1" cy="572.8" r="4" fill="#ffa500"/><circle cx="78.3" cy="561.5" r="4" fill="#ffa500"/><circle cx="88.4" cy="507.6" r="4" fill="#1f77b4"/><circle cx="89.1" cy="561.4" r="4" fill="#1f77b4"/><circle cx="106.4" cy="526.3" r="4" fill="#1f77b4"/><circle cx="88.7" cy="519.7" r="4" fill="#1f77b4"/><circle cx="87.1" cy="486.9" r="4" fill="#32cd32"/><circle cx="134.9" cy="548.8" r="4" fill="#9370db"/><circle cx="191.4" cy="527.0" r="4" fill="#db7093"/><circle cx="188.2" cy="514.6" r="4" fill="#db7093"/><circle cx="103.9" cy="500.1" r="4" fill="#1f77b4"/><circle cx="215.2" cy="524.4" r="4" fill="#db7093"/><circle cx="133.1" cy="459.3" r="4" fill="#1f77b4"/><circle cx="94.0" cy="517.5" r="4" fill="#1f77b4"/><circle cx="106.2" cy="491.9" r="4" fill="#1f77b4"/><circle cx="121.9" cy="507.0" r="4" fill="#32cd32"/><circle cx="132.7" cy="561.4" r="4" fill="#db7093"/><circle cx="149.7" cy="500.2" r="4" fill="#db7093"/><circle cx="131.4" cy="534.3" r="4" fill="#32cd32"/><circle cx="85.1" cy="546.0" r="4" fill="#ffa500"/><circle cx="89.9" cy="525.2" r="4" fill="#1f77b4"/><circle cx="107.1" cy="523.4" r="4" fill="#1f77b4"/><circle cx="73.0" cy="495.0" r="4" fill="#ffa500"/><circle cx="67.7" cy="569.3" r="4" fill="#ffa500"/><circle cx="90.0" cy="548.0" r="4" fill="#ffa500"/><circle cx="227.3" cy="506.8" r="4" fill="#db7093"/><circle cx="175.2" cy="504.3" r="4" fill="#db7093"/><circle cx="192.9" cy="502.5" r="4" fill="#9370db"/><circle cx="189.6" cy="546.6" r="4" fill="#db7093"/><circle cx="124.0" cy="508.8" r="4" fill="#1f77b4"/><circle cx="146.3" cy="436.9" r="4" fill="#9370db"/><circle cx="117.1" cy="486.3" r="4" fill="#1f77b4"/><circle cx="175.4" cy="569.6" r="4" fill="#9370db"/><circle cx="163.9" cy="507.5" r="4" fill="#db7093"/><circle cx="160.7" cy="480.6" r="4" fill="#32cd32"/><circle cx="111.3" cy="534.2" r="4" fill="#1f77b4"/><circle cx="210.8" cy="515.6" r="4" fill="#db7093"/><circle cx="128.8" cy="495.8" r="4" fill="#1f77b4"/><circle cx="126.7" cy="495.6" r="4" fill="#1f77b4"/><circle cx="168.7" cy="561.7" r="4" fill="#9370db"/><circle cx="190.0" cy="490.0" r="4" fill="#db7093"/><circle cx="90.0" cy="490.0" r="4" fill="#1f77b4"/><circle cx="140.9" cy="527.3" r="4" fill="#32cd32"/><circle cx="94.0" cy="500.9" r="4" fill="#1f77b4"/><circle cx="73.0" cy="533.0" r="4" fill="#ffa500"/><circle cx="125.3" cy="556.4" r="4" fill="#32cd32"/><circle cx="197.4" cy="506.3" r="4" fill="#db7093"/><circle cx="105.6" cy="539.9" r="4" fill="#1f77b4"/><circle cx="158.9" cy="538.7" r="4" fill="#32cd32"/><circle cx="109.2" cy="515.5" r="4" fill="#1f77b4"/><circle cx="157.8" cy="555.3" r="4" fill="#9370db"/><circle cx="127.6" cy="518.6" r="4" fill="#32cd32"/><circle cx="217.6" cy="522.4" r="4" fill="#db7093"/><circle cx="138.7" cy="528.5" r="4" fill="#32cd32"/><circle cx="72.1" cy="586.2" r="4" fill="#ffa500"/><circle cx="86.5" cy="552.8" r="4" fill="#1f77b4"/><circle cx="238.1" cy="578.2" r="4" fill="#9370db"/><circle cx="77.6" cy="471.4" r="4" fill="#ffa500"/><circle cx="96.7" cy="578.3" r="4" fill="#ffa500"/><circle cx="141.1" cy="505.9" r="4" fill="#ffa500"/><circle cx="110.0" cy="520.0" r="4" fill="#32cd32"/><circle cx="81.7" cy="568.1" r="4" fill="#ffa500"/><circle cx="105.6" cy="548.3" r="4" fill="#1f77b4"/><circle cx="185.0" cy="530.0" r="4" fill="#9370db"/><circle cx="203.1" cy="549.9" r="4" fill="#db7093"/><circle cx="164.4" cy="580.5" r="4" fill="#9370db"/><circle cx="80.5" cy="525.3" r="4" fill="#ffa500"/><circle cx="162.9" cy="551.2" r="4" fill="#9370db"/><circle cx="122.4" cy="501.5" r="4" fill="#1f77b4"/><circle cx="105.4" cy="531.5" r="4" fill="#1f77b4"/><circle cx="195.4" cy="508.7" r="4" fill="#db7093"/><circle cx="123.2" cy="522.7" r="4" fill="#32cd32"/><circle cx="94.7" cy="503.7" r="4" fill="#1f77b4"/><circle cx="102.5" cy="508.9" r="4" fill="#1f77b4"/><circle cx="226.7" cy="571.2" r="4" fill="#9370db"/><circle cx="125.5" cy="539.5" r="4" fill="#32cd32"/><circle cx="137.7" cy="476.6" r="4" fill="#32cd32"/><circle cx="98.7" cy="506.3" r="4" fill="#1f77b4"/><circle cx="97.0" cy="511.2" r="4" fill="#1f77b4"/><circle cx="145.8" cy="571.8" r="4" fill="#9370db"/><circle cx="157.8" cy="458.8" r="4" fill="#32cd32"/><circle cx="144.7" cy="522.2" r="4" fill="#32cd32"/><circle cx="144.0" cy="530.1" r="4" fill="#32cd32"/><circle cx="122.0" cy="566.0" r="4" fill="#9370db"/><circle cx="148.7" cy="522.9" r="4" fill="#32cd32"/>
</g>
<rect x="54.6" y="383.9" width="218.4" height="218.6" fill="none" stroke="#1a1a1a" stroke-width="1.3"/>
<text x="120.2" y="400.4" font-size="13.2" font-weight="bold" font-style="normal" fill="#000" text-anchor="start">Electrification</text>
<text x="232" y="410.3" font-size="12" font-weight="bold" font-style="italic" fill="#000" text-anchor="start">n=170</text>
<line x1="398.8" y1="602.2" x2="398.8" y2="608.4" stroke="#1a1a1a" stroke-width="1.2"/>
<text x="398.8" y="619.2" font-size="12.2" font-weight="normal" font-style="normal" fill="#000" text-anchor="middle">0</text>
<line x1="435.233" y1="602.2" x2="435.233" y2="608.4" stroke="#1a1a1a" stroke-width="1.2"/>
<text x="435.233" y="619.2" font-size="12.2" font-weight="normal" font-style="normal" fill="#000" text-anchor="middle">1</text>
<line x1="471.667" y1="602.2" x2="471.667" y2="608.4" stroke="#1a1a1a" stroke-width="1.2"/>
<text x="471.667" y="619.2" font-size="12.2" font-weight="normal" font-style="normal" fill="#000" text-anchor="middle">2</text>
<line x1="508.1" y1="602.2" x2="508.1" y2="608.4" stroke="#1a1a1a" stroke-width="1.2"/>
<text x="508.1" y="619.2" font-size="12.2" font-weight="normal" font-style="normal" fill="#000" text-anchor="middle">3</text>
<line x1="544.533" y1="602.2" x2="544.533" y2="608.4" stroke="#1a1a1a" stroke-width="1.2"/>
<text x="544.533" y="619.2" font-size="12.2" font-weight="normal" font-style="normal" fill="#000" text-anchor="middle">4</text>
<line x1="580.967" y1="602.2" x2="580.967" y2="608.4" stroke="#1a1a1a" stroke-width="1.2"/>
<text x="580.967" y="619.2" font-size="12.2" font-weight="normal" font-style="normal" fill="#000" text-anchor="middle">5</text>
<line x1="617.4" y1="602.2" x2="617.4" y2="608.4" stroke="#1a1a1a" stroke-width="1.2"/>
<text x="617.4" y="619.2" font-size="12.2" font-weight="normal" font-style="normal" fill="#000" text-anchor="middle">6</text>
<line x1="392.6" y1="602.2" x2="398.8" y2="602.2" stroke="#1a1a1a" stroke-width="1.2"/>
<text x="391.2" y="606.1" font-size="12.2" font-weight="normal" font-style="normal" fill="#000" text-anchor="end">0</text>
<line x1="392.6" y1="565.783" x2="398.8" y2="565.783" stroke="#1a1a1a" stroke-width="1.2"/>
<text x="391.2" y="569.683" font-size="12.2" font-weight="normal" font-style="normal" fill="#000" text-anchor="end">2</text>
<line x1="392.6" y1="529.367" x2="398.8" y2="529.367" stroke="#1a1a1a" stroke-width="1.2"/>
<text x="391.2" y="533.267" font-size="12.2" font-weight="normal" font-style="normal" fill="#000" text-anchor="end">4</text>
<line x1="392.6" y1="492.95" x2="398.8" y2="492.95" stroke="#1a1a1a" stroke-width="1.2"/>
<text x="391.2" y="496.85" font-size="12.2" font-weight="normal" font-style="normal" fill="#000" text-anchor="end">6</text>
<line x1="392.6" y1="456.533" x2="398.8" y2="456.533" stroke="#1a1a1a" stroke-width="1.2"/>
<text x="391.2" y="460.433" font-size="12.2" font-weight="normal" font-style="normal" fill="#000" text-anchor="end">8</text>
<line x1="392.6" y1="420.117" x2="398.8" y2="420.117" stroke="#1a1a1a" stroke-width="1.2"/>
<text x="391.2" y="424.017" font-size="12.2" font-weight="normal" font-style="normal" fill="#000" text-anchor="end">10</text>
<line x1="392.6" y1="383.7" x2="398.8" y2="383.7" stroke="#1a1a1a" stroke-width="1.2"/>
<text x="391.2" y="387.6" font-size="12.2" font-weight="normal" font-style="normal" fill="#000" text-anchor="end">12</text>
<path d="M397.90,375.60 C398.88,374.15 401.85,370.05 403.80,366.90 C405.75,363.75 407.67,359.62 409.60,356.70 C411.53,353.78 413.93,350.87 415.40,349.40 C416.87,347.93 416.93,348.03 418.40,347.90 C419.87,347.77 422.27,348.23 424.20,348.60 C426.13,348.97 428.30,349.25 430.00,350.10 C431.70,350.95 432.93,351.88 434.40,353.70 C435.87,355.52 437.33,358.80 438.80,361.00 C440.27,363.20 441.25,365.18 443.20,366.90 C445.15,368.62 447.58,370.33 450.50,371.30 C453.42,372.27 456.57,372.22 460.70,372.70 C464.83,373.18 470.42,373.80 475.30,374.20 C480.18,374.60 485.33,374.93 490.00,375.10 C494.67,375.27 501.08,375.18 503.30,375.20" stroke="#ffa500" stroke-width="1.7" fill="none" stroke-linejoin="round" stroke-linecap="round"/>
<path d="M397.90,375.60 C399.37,374.38 404.27,370.97 406.70,368.30 C409.13,365.63 410.80,362.75 412.50,359.60 C414.20,356.45 415.20,352.32 416.90,349.40 C418.60,346.48 421.23,343.45 422.70,342.10 C424.17,340.75 424.48,340.82 425.70,341.30 C426.92,341.78 428.55,343.17 430.00,345.00 C431.45,346.83 432.93,349.87 434.40,352.30 C435.87,354.73 437.10,357.17 438.80,359.60 C440.50,362.03 442.17,364.95 444.60,366.90 C447.03,368.85 449.98,370.33 453.40,371.30 C456.82,372.27 460.23,372.22 465.10,372.70 C469.97,373.18 476.78,373.78 482.60,374.20 C488.42,374.62 488.55,375.03 500.00,375.20 C511.45,375.37 535.93,375.10 551.30,375.20 C566.67,375.30 585.38,375.70 592.20,375.80" stroke="#32cd32" stroke-width="1.7" fill="none" stroke-linejoin="round" stroke-linecap="round"/>
<path d="M397.90,375.60 C399.37,374.88 404.02,373.48 406.70,371.30 C409.38,369.12 411.82,365.07 414.00,362.50 C416.18,359.93 418.10,357.23 419.80,355.90 C421.50,354.57 422.73,355.35 424.20,354.50 C425.67,353.65 427.38,353.12 428.60,350.80 C429.82,348.48 430.65,342.78 431.50,340.60 C432.35,338.42 432.85,337.82 433.70,337.70 C434.55,337.58 435.50,337.95 436.60,339.90 C437.70,341.85 438.97,345.88 440.30,349.40 C441.63,352.92 443.15,357.85 444.60,361.00 C446.05,364.15 447.05,366.35 449.00,368.30 C450.95,370.25 453.13,371.60 456.30,372.70 C459.47,373.80 463.62,374.42 468.00,374.90 C472.38,375.38 480.17,375.48 482.60,375.60" stroke="#1f77b4" stroke-width="1.7" fill="none" stroke-linejoin="round" stroke-linecap="round"/>
<path d="M397.90,375.60 C401.80,375.48 415.45,375.62 421.30,374.90 C427.15,374.18 429.60,372.88 433.00,371.30 C436.40,369.72 438.78,367.12 441.70,365.40 C444.62,363.68 447.82,361.97 450.50,361.00 C453.18,360.03 454.88,359.72 457.80,359.60 C460.72,359.48 464.83,360.07 468.00,360.30 C471.17,360.53 473.88,360.52 476.80,361.00 C479.72,361.48 483.30,362.45 485.50,363.20 C487.70,363.95 487.55,364.08 490.00,365.50 C492.45,366.92 496.12,370.23 500.20,371.70 C504.28,373.17 507.68,373.72 514.50,374.30 C521.32,374.88 531.57,374.95 541.10,375.20 C550.63,375.45 566.60,375.70 571.70,375.80" stroke="#db7093" stroke-width="1.7" fill="none" stroke-linejoin="round" stroke-linecap="round"/>
<path d="M397.90,375.60 C401.07,375.23 411.30,374.37 416.90,373.40 C422.50,372.43 427.12,371.13 431.50,369.80 C435.88,368.47 439.55,366.50 443.20,365.40 C446.85,364.30 450.23,363.68 453.40,363.20 C456.57,362.72 459.03,362.50 462.20,362.50 C465.37,362.50 469.00,362.72 472.40,363.20 C475.80,363.68 479.67,364.68 482.60,365.40 C485.53,366.12 485.37,366.45 490.00,367.50 C494.63,368.55 503.58,370.67 510.40,371.70 C517.22,372.73 524.08,373.20 530.90,373.70 C537.72,374.20 536.83,374.35 551.30,374.70 C565.77,375.05 606.63,375.62 617.70,375.80" stroke="#9370db" stroke-width="1.7" fill="none" stroke-linejoin="round" stroke-linecap="round"/>
<line x1="424.6" y1="337.4" x2="424.6" y2="381.2" stroke="#ff8c00" stroke-width="2.2" stroke-dasharray="2.9 1.2"/>
<line x1="425.4" y1="337.4" x2="425.4" y2="381.2" stroke="#22cc22" stroke-width="2.2" stroke-dasharray="2.9 1.2"/>
<line x1="432.7" y1="337.4" x2="432.7" y2="381.2" stroke="#1f77b4" stroke-width="2.2" stroke-dasharray="2.9 1.2"/>
<line x1="465.2" y1="337.4" x2="465.2" y2="381.2" stroke="#db7093" stroke-width="2.2" stroke-dasharray="2.9 1.2"/>
<line x1="466.2" y1="337.4" x2="466.2" y2="381.2" stroke="#9370db" stroke-width="2.2" stroke-dasharray="2.9 1.2"/>
<text x="407.6" y="333.3" font-size="12" font-weight="bold" font-style="italic" fill="#ff9a1f" text-anchor="start">0.7</text>
<text x="428.1" y="333.3" font-size="12" font-weight="bold" font-style="italic" fill="#3f8ac4" text-anchor="start">0.9</text>
<text x="401.8" y="345" font-size="12" font-weight="bold" font-style="italic" fill="#3fcf3f" text-anchor="start">0.7</text>
<text x="447.8" y="337.4" font-size="12" font-weight="bold" font-style="italic" fill="#d4648f" text-anchor="start">1.8</text>
<text x="466.8" y="337.4" font-size="12" font-weight="bold" font-style="italic" fill="#9370db" text-anchor="start">1.9</text>
<path d="M625.40,383.70 C625.42,394.75 625.40,427.28 625.50,450.00 C625.60,472.72 625.45,503.73 626.00,520.00 C626.55,536.27 627.98,540.70 628.80,547.60 C629.62,554.50 629.98,556.80 630.90,561.40 C631.82,566.00 633.73,571.52 634.30,575.20 C634.87,578.88 634.52,580.73 634.30,583.50 C634.08,586.27 633.68,589.05 633.00,591.80 C632.32,594.55 630.90,598.05 630.20,600.00 C629.50,601.95 629.03,602.92 628.80,603.50" stroke="#9370db" stroke-width="1.7" fill="none" stroke-linejoin="round" stroke-linecap="round"/>
<path d="M625.40,500.00 C625.50,503.33 625.43,512.07 626.00,520.00 C626.57,527.93 627.63,540.23 628.80,547.60 C629.97,554.97 631.97,560.05 633.00,564.20 C634.03,568.35 634.78,569.52 635.00,572.50 C635.22,575.48 634.87,578.88 634.30,582.10 C633.73,585.32 632.52,589.27 631.60,591.80 C630.68,594.33 629.62,595.47 628.80,597.30 C627.98,599.13 627.05,601.88 626.70,602.80" stroke="#db7093" stroke-width="1.7" fill="none" stroke-linejoin="round" stroke-linecap="round"/>
<path d="M625.40,406.70 C625.43,418.92 625.50,461.12 625.60,480.00 C625.70,498.88 625.35,508.73 626.00,520.00 C626.65,531.27 628.57,539.55 629.50,547.60 C630.43,555.65 631.13,563.23 631.60,568.30 C632.07,573.37 632.30,574.55 632.30,578.00 C632.30,581.45 631.95,585.78 631.60,589.00 C631.25,592.22 630.78,594.88 630.20,597.30 C629.62,599.72 628.45,602.47 628.10,603.50" stroke="#32cd32" stroke-width="1.7" fill="none" stroke-linejoin="round" stroke-linecap="round"/>
<path d="M625.40,557.30 C625.50,558.92 625.98,564.72 626.00,567.00 C626.02,569.28 625.27,569.63 625.50,571.00 C625.73,572.37 626.62,573.58 627.40,575.20 C628.18,576.82 628.58,579.08 630.20,580.70 C631.82,582.32 634.12,583.52 637.10,584.90 C640.08,586.28 645.00,587.73 648.10,589.00 C651.20,590.27 655.93,591.35 655.70,592.50 C655.47,593.65 649.80,594.75 646.70,595.90 C643.60,597.05 640.08,598.13 637.10,599.40 C634.12,600.67 630.18,602.82 628.80,603.50" stroke="#1f77b4" stroke-width="1.7" fill="none" stroke-linejoin="round" stroke-linecap="round"/>
<path d="M625.40,569.00 C625.62,569.80 626.70,572.30 626.70,573.80 C626.70,575.30 625.28,576.62 625.40,578.00 C625.52,579.38 625.92,580.72 627.40,582.10 C628.88,583.48 631.08,584.92 634.30,586.30 C637.52,587.68 643.02,589.25 646.70,590.40 C650.38,591.55 653.87,592.40 656.40,593.20 C658.93,594.00 662.13,594.28 661.90,595.20 C661.67,596.12 658.22,597.67 655.00,598.70 C651.78,599.73 646.97,600.60 642.60,601.40 C638.23,602.20 631.10,603.15 628.80,603.50" stroke="#ffa500" stroke-width="1.7" fill="none" stroke-linejoin="round" stroke-linecap="round"/>
<line x1="618.5" y1="571.4" x2="664.7" y2="571.4" stroke="#db7093" stroke-width="2.1" stroke-dasharray="2.9 1.2"/>
<line x1="618.5" y1="572.7" x2="664.7" y2="572.7" stroke="#22cc22" stroke-width="2.1" stroke-dasharray="2.9 1.2"/>
<line x1="618.5" y1="576.6" x2="664.7" y2="576.6" stroke="#9370db" stroke-width="2.1" stroke-dasharray="2.9 1.2"/>
<line x1="618.5" y1="592.9" x2="664.7" y2="592.9" stroke="#1f77b4" stroke-width="2.1" stroke-dasharray="2.9 1.2"/>
<line x1="618.5" y1="595.2" x2="664.7" y2="595.2" stroke="#ff8c00" stroke-width="2.1" stroke-dasharray="2.9 1.2"/>
<text x="649.8" y="566.4" font-size="12" font-weight="bold" font-style="italic" fill="#d4648f" text-anchor="start">1.7</text>
<text x="667.7" y="570.5" font-size="12" font-weight="bold" font-style="italic" fill="#3fcf3f" text-anchor="start">1.7</text>
<text x="667.7" y="583" font-size="12" font-weight="bold" font-style="italic" fill="#9370db" text-anchor="start">1.4</text>
<text x="667.7" y="594" font-size="12" font-weight="bold" font-style="italic" fill="#3f8ac4" text-anchor="start">0.6</text>
<text x="664.3" y="605.1" font-size="12" font-weight="bold" font-style="italic" fill="#ff9a1f" text-anchor="start">0.4</text>
<text x="512.8" y="634" font-size="12.3" font-weight="normal" font-style="normal" fill="#000" text-anchor="middle">Residual emissions from energy and industry</text>
<text x="513.2" y="648.2" font-size="12.3" text-anchor="middle">per capita (t CO<tspan font-size="8" dy="2.5">2</tspan><tspan dy="-2.5">/person)</tspan></text>
<text x="357.6" y="500.5" font-size="12.3" font-weight="normal" font-style="normal" fill="#000" text-anchor="middle" transform="rotate(-90 357.6 500.5)">Negative emissions from BECCS</text>
<text x="372.6" y="500.5" font-size="12.3" text-anchor="middle" transform="rotate(-90 372.6 500.5)">per capita (t CO<tspan font-size="8" dy="2.5">2</tspan><tspan dy="-2.5">/person)</tspan></text>
<g fill-opacity="0.7">
<circle cx="478.4" cy="552.7" r="4" fill="#db7093"/><circle cx="506.2" cy="537.5" r="4" fill="#db7093"/><circle cx="436.0" cy="542.9" r="4" fill="#32cd32"/><circle cx="490.2" cy="551.8" r="4" fill="#db7093"/><circle cx="429.1" cy="595.3" r="4" fill="#1f77b4"/><circle cx="544.0" cy="579.5" r="4" fill="#9370db"/><circle cx="466.4" cy="475.3" r="4" fill="#9370db"/><circle cx="406.8" cy="593.3" r="4" fill="#1f77b4"/><circle cx="470.6" cy="526.5" r="4" fill="#9370db"/><circle cx="488.9" cy="592.4" r="4" fill="#ffa500"/><circle cx="445.7" cy="589.2" r="4" fill="#1f77b4"/><circle cx="478.6" cy="583.2" r="4" fill="#db7093"/><circle cx="487.8" cy="542.8" r="4" fill="#db7093"/><circle cx="509.7" cy="569.6" r="4" fill="#9370db"/><circle cx="542.3" cy="568.3" r="4" fill="#db7093"/><circle cx="458.0" cy="595.5" r="4" fill="#ffa500"/><circle cx="476.4" cy="554.2" r="4" fill="#db7093"/><circle cx="500.6" cy="538.3" r="4" fill="#db7093"/><circle cx="432.1" cy="585.7" r="4" fill="#1f77b4"/><circle cx="525.4" cy="587.2" r="4" fill="#9370db"/><circle cx="426.9" cy="534.6" r="4" fill="#32cd32"/><circle cx="490.0" cy="540.0" r="4" fill="#9370db"/><circle cx="488.4" cy="576.3" r="4" fill="#db7093"/><circle cx="419.3" cy="532.7" r="4" fill="#32cd32"/><circle cx="437.4" cy="533.8" r="4" fill="#32cd32"/><circle cx="457.2" cy="517.3" r="4" fill="#32cd32"/><circle cx="533.2" cy="446.5" r="4" fill="#9370db"/><circle cx="433.7" cy="588.7" r="4" fill="#1f77b4"/><circle cx="426.7" cy="542.5" r="4" fill="#32cd32"/><circle cx="430.3" cy="581.3" r="4" fill="#1f77b4"/><circle cx="423.4" cy="538.9" r="4" fill="#32cd32"/><circle cx="426.2" cy="569.9" r="4" fill="#32cd32"/><circle cx="401.5" cy="601.5" r="4" fill="#1f77b4"/><circle cx="549.8" cy="566.2" r="4" fill="#9370db"/><circle cx="435.2" cy="594.8" r="4" fill="#1f77b4"/><circle cx="430.3" cy="578.3" r="4" fill="#1f77b4"/><circle cx="419.9" cy="585.2" r="4" fill="#1f77b4"/><circle cx="524.1" cy="529.8" r="4" fill="#9370db"/><circle cx="486.5" cy="561.1" r="4" fill="#db7093"/><circle cx="437.3" cy="557.7" r="4" fill="#32cd32"/><circle cx="505.8" cy="453.0" r="4" fill="#32cd32"/><circle cx="432.1" cy="573.0" r="4" fill="#32cd32"/><circle cx="421.8" cy="535.6" r="4" fill="#32cd32"/><circle cx="469.3" cy="580.0" r="4" fill="#1f77b4"/><circle cx="542.3" cy="578.7" r="4" fill="#9370db"/><circle cx="440.0" cy="535.2" r="4" fill="#32cd32"/><circle cx="533.2" cy="577.4" r="4" fill="#9370db"/><circle cx="545.2" cy="439.7" r="4" fill="#32cd32"/><circle cx="458.0" cy="555.0" r="4" fill="#9370db"/><circle cx="423.5" cy="591.8" r="4" fill="#1f77b4"/><circle cx="417.1" cy="542.2" r="4" fill="#32cd32"/><circle cx="528.0" cy="535.7" r="4" fill="#db7093"/><circle cx="437.1" cy="572.2" r="4" fill="#1f77b4"/><circle cx="452.3" cy="466.7" r="4" fill="#9370db"/><circle cx="417.4" cy="561.9" r="4" fill="#32cd32"/><circle cx="587.2" cy="574.3" r="4" fill="#9370db"/><circle cx="467.9" cy="550.8" r="4" fill="#db7093"/><circle cx="447.8" cy="596.7" r="4" fill="#1f77b4"/><circle cx="477.4" cy="569.3" r="4" fill="#db7093"/><circle cx="496.0" cy="485.0" r="4" fill="#9370db"/><circle cx="452.8" cy="596.5" r="4" fill="#ffa500"/><circle cx="492.3" cy="571.0" r="4" fill="#db7093"/><circle cx="404.4" cy="595.0" r="4" fill="#1f77b4"/><circle cx="413.6" cy="532.4" r="4" fill="#32cd32"/><circle cx="436.3" cy="582.9" r="4" fill="#1f77b4"/><circle cx="435.3" cy="590.0" r="4" fill="#1f77b4"/><circle cx="439.2" cy="562.4" r="4" fill="#32cd32"/><circle cx="428.0" cy="597.6" r="4" fill="#1f77b4"/><circle cx="407.3" cy="588.5" r="4" fill="#1f77b4"/><circle cx="462.0" cy="565.0" r="4" fill="#32cd32"/><circle cx="417.0" cy="574.7" r="4" fill="#32cd32"/><circle cx="480.1" cy="577.0" r="4" fill="#db7093"/><circle cx="461.6" cy="545.1" r="4" fill="#db7093"/><circle cx="481.0" cy="589.8" r="4" fill="#ffa500"/><circle cx="501.9" cy="595.0" r="4" fill="#9370db"/><circle cx="411.0" cy="578.7" r="4" fill="#1f77b4"/><circle cx="513.0" cy="554.6" r="4" fill="#9370db"/><circle cx="465.7" cy="533.0" r="4" fill="#db7093"/><circle cx="485.0" cy="533.0" r="4" fill="#db7093"/><circle cx="483.3" cy="571.4" r="4" fill="#db7093"/><circle cx="449.3" cy="546.3" r="4" fill="#db7093"/><circle cx="422.3" cy="588.3" r="4" fill="#1f77b4"/><circle cx="419.6" cy="542.1" r="4" fill="#32cd32"/><circle cx="428.0" cy="601.8" r="4" fill="#1f77b4"/><circle cx="489.3" cy="534.1" r="4" fill="#db7093"/><circle cx="491.5" cy="503.9" r="4" fill="#32cd32"/><circle cx="483.0" cy="576.7" r="4" fill="#db7093"/><circle cx="416.8" cy="549.4" r="4" fill="#32cd32"/><circle cx="416.3" cy="583.1" r="4" fill="#1f77b4"/><circle cx="458.3" cy="535.2" r="4" fill="#db7093"/><circle cx="452.1" cy="531.1" r="4" fill="#32cd32"/><circle cx="420.8" cy="515.8" r="4" fill="#32cd32"/><circle cx="414.7" cy="551.9" r="4" fill="#32cd32"/><circle cx="420.1" cy="590.3" r="4" fill="#1f77b4"/><circle cx="433.4" cy="557.6" r="4" fill="#32cd32"/><circle cx="414.2" cy="583.7" r="4" fill="#1f77b4"/><circle cx="442.3" cy="592.3" r="4" fill="#1f77b4"/><circle cx="480.0" cy="585.0" r="4" fill="#1f77b4"/><circle cx="558.2" cy="535.4" r="4" fill="#db7093"/><circle cx="485.4" cy="584.5" r="4" fill="#db7093"/><circle cx="488.6" cy="560.3" r="4" fill="#db7093"/><circle cx="434.7" cy="583.7" r="4" fill="#1f77b4"/><circle cx="498.0" cy="581.3" r="4" fill="#db7093"/><circle cx="446.2" cy="598.4" r="4" fill="#ffa500"/><circle cx="424.3" cy="585.2" r="4" fill="#1f77b4"/><circle cx="448.2" cy="536.6" r="4" fill="#db7093"/><circle cx="436.0" cy="601.5" r="4" fill="#1f77b4"/><circle cx="463.6" cy="523.6" r="4" fill="#9370db"/><circle cx="443.9" cy="586.7" r="4" fill="#1f77b4"/><circle cx="413.6" cy="538.4" r="4" fill="#32cd32"/><circle cx="410.7" cy="591.8" r="4" fill="#1f77b4"/><circle cx="415.0" cy="594.5" r="4" fill="#1f77b4"/><circle cx="416.1" cy="569.7" r="4" fill="#32cd32"/><circle cx="433.7" cy="546.4" r="4" fill="#32cd32"/><circle cx="478.4" cy="578.7" r="4" fill="#32cd32"/><circle cx="418.9" cy="557.2" r="4" fill="#32cd32"/><circle cx="462.5" cy="542.7" r="4" fill="#db7093"/><circle cx="566.9" cy="452.6" r="4" fill="#32cd32"/><circle cx="504.5" cy="555.2" r="4" fill="#db7093"/><circle cx="483.7" cy="593.0" r="4" fill="#9370db"/><circle cx="528.6" cy="561.7" r="4" fill="#9370db"/><circle cx="420.6" cy="580.7" r="4" fill="#1f77b4"/><circle cx="477.7" cy="559.5" r="4" fill="#db7093"/><circle cx="513.0" cy="532.4" r="4" fill="#9370db"/><circle cx="429.4" cy="554.5" r="4" fill="#32cd32"/><circle cx="448.4" cy="541.6" r="4" fill="#db7093"/><circle cx="408.5" cy="571.0" r="4" fill="#32cd32"/><circle cx="488.9" cy="585.9" r="4" fill="#1f77b4"/><circle cx="436.9" cy="577.4" r="4" fill="#1f77b4"/><circle cx="444.6" cy="583.8" r="4" fill="#1f77b4"/><circle cx="433.5" cy="534.1" r="4" fill="#32cd32"/><circle cx="505.8" cy="539.6" r="4" fill="#db7093"/><circle cx="434.8" cy="550.4" r="4" fill="#32cd32"/><circle cx="438.7" cy="545.4" r="4" fill="#32cd32"/><circle cx="504.6" cy="536.1" r="4" fill="#db7093"/><circle cx="455.8" cy="545.4" r="4" fill="#db7093"/><circle cx="471.0" cy="586.7" r="4" fill="#1f77b4"/><circle cx="416.5" cy="584.7" r="4" fill="#1f77b4"/><circle cx="416.8" cy="553.2" r="4" fill="#32cd32"/><circle cx="450.2" cy="574.8" r="4" fill="#1f77b4"/><circle cx="430.7" cy="531.5" r="4" fill="#32cd32"/><circle cx="477.8" cy="565.2" r="4" fill="#db7093"/><circle cx="469.1" cy="568.3" r="4" fill="#db7093"/><circle cx="430.8" cy="548.2" r="4" fill="#32cd32"/><circle cx="472.0" cy="575.1" r="4" fill="#db7093"/><circle cx="563.0" cy="560.5" r="4" fill="#db7093"/><circle cx="456.7" cy="520.0" r="4" fill="#32cd32"/><circle cx="434.5" cy="573.6" r="4" fill="#1f77b4"/><circle cx="425.7" cy="564.2" r="4" fill="#32cd32"/><circle cx="440.9" cy="578.2" r="4" fill="#1f77b4"/><circle cx="470.5" cy="512.1" r="4" fill="#9370db"/><circle cx="410.7" cy="588.6" r="4" fill="#1f77b4"/><circle cx="494.6" cy="536.9" r="4" fill="#db7093"/><circle cx="456.4" cy="551.7" r="4" fill="#db7093"/><circle cx="419.0" cy="596.2" r="4" fill="#1f77b4"/><circle cx="504.5" cy="517.0" r="4" fill="#9370db"/><circle cx="414.5" cy="558.5" r="4" fill="#32cd32"/><circle cx="424.0" cy="601.8" r="4" fill="#32cd32"/><circle cx="505.2" cy="475.9" r="4" fill="#9370db"/><circle cx="509.1" cy="541.9" r="4" fill="#db7093"/><circle cx="507.8" cy="464.1" r="4" fill="#32cd32"/><circle cx="412.7" cy="590.5" r="4" fill="#1f77b4"/><circle cx="435.2" cy="598.0" r="4" fill="#1f77b4"/><circle cx="438.8" cy="538.6" r="4" fill="#32cd32"/><circle cx="473.5" cy="564.3" r="4" fill="#db7093"/><circle cx="434.2" cy="578.7" r="4" fill="#1f77b4"/><circle cx="436.4" cy="561.1" r="4" fill="#32cd32"/><circle cx="485.0" cy="555.0" r="4" fill="#9370db"/><circle cx="469.8" cy="539.6" r="4" fill="#db7093"/><circle cx="432.0" cy="601.8" r="4" fill="#1f77b4"/><circle cx="436.2" cy="538.1" r="4" fill="#32cd32"/><circle cx="412.1" cy="544.7" r="4" fill="#32cd32"/><circle cx="507.1" cy="505.9" r="4" fill="#db7093"/><circle cx="463.2" cy="578.7" r="4" fill="#1f77b4"/><circle cx="425.1" cy="558.7" r="4" fill="#32cd32"/><circle cx="426.5" cy="589.6" r="4" fill="#1f77b4"/><circle cx="578.3" cy="437.6" r="4" fill="#32cd32"/><circle cx="417.3" cy="595.9" r="4" fill="#1f77b4"/><circle cx="456.3" cy="563.2" r="4" fill="#db7093"/><circle cx="426.6" cy="594.1" r="4" fill="#1f77b4"/><circle cx="401.5" cy="595.5" r="4" fill="#32cd32"/><circle cx="524.1" cy="565.7" r="4" fill="#9370db"/><circle cx="471.0" cy="595.6" r="4" fill="#9370db"/><circle cx="470.0" cy="562.0" r="4" fill="#32cd32"/><circle cx="418.2" cy="527.8" r="4" fill="#32cd32"/><circle cx="436.7" cy="591.6" r="4" fill="#1f77b4"/><circle cx="437.1" cy="563.8" r="4" fill="#32cd32"/><circle cx="405.0" cy="585.8" r="4" fill="#32cd32"/><circle cx="457.8" cy="475.9" r="4" fill="#9370db"/><circle cx="455.0" cy="573.0" r="4" fill="#32cd32"/><circle cx="424.0" cy="526.7" r="4" fill="#32cd32"/><circle cx="430.2" cy="587.0" r="4" fill="#1f77b4"/><circle cx="465.3" cy="519.0" r="4" fill="#9370db"/><circle cx="419.3" cy="524.8" r="4" fill="#32cd32"/><circle cx="455.0" cy="582.0" r="4" fill="#1f77b4"/><circle cx="413.0" cy="601.8" r="4" fill="#ffa500"/><circle cx="432.8" cy="567.2" r="4" fill="#32cd32"/><circle cx="429.7" cy="590.1" r="4" fill="#1f77b4"/><circle cx="475.8" cy="539.6" r="4" fill="#db7093"/><circle cx="416.2" cy="565.4" r="4" fill="#32cd32"/><circle cx="407.0" cy="560.0" r="4" fill="#32cd32"/><circle cx="452.0" cy="570.0" r="4" fill="#9370db"/><circle cx="463.2" cy="553.1" r="4" fill="#db7093"/><circle cx="505.8" cy="580.0" r="4" fill="#9370db"/><circle cx="470.7" cy="544.1" r="4" fill="#db7093"/><circle cx="424.9" cy="586.9" r="4" fill="#1f77b4"/><circle cx="424.1" cy="576.1" r="4" fill="#1f77b4"/><circle cx="470.6" cy="564.3" r="4" fill="#32cd32"/><circle cx="504.5" cy="520.0" r="4" fill="#9370db"/><circle cx="421.8" cy="563.1" r="4" fill="#32cd32"/><circle cx="456.4" cy="589.6" r="4" fill="#1f77b4"/><circle cx="506.2" cy="543.4" r="4" fill="#db7093"/><circle cx="417.0" cy="601.8" r="4" fill="#32cd32"/><circle cx="404.0" cy="537.7" r="4" fill="#32cd32"/><circle cx="518.9" cy="574.8" r="4" fill="#db7093"/><circle cx="471.6" cy="507.5" r="4" fill="#9370db"/><circle cx="458.4" cy="556.1" r="4" fill="#db7093"/><circle cx="447.8" cy="593.1" r="4" fill="#1f77b4"/><circle cx="430.3" cy="598.2" r="4" fill="#1f77b4"/><circle cx="444.0" cy="601.2" r="4" fill="#1f77b4"/><circle cx="437.4" cy="585.4" r="4" fill="#1f77b4"/><circle cx="439.1" cy="597.0" r="4" fill="#1f77b4"/><circle cx="440.4" cy="584.6" r="4" fill="#1f77b4"/><circle cx="463.2" cy="590.4" r="4" fill="#ffa500"/><circle cx="472.2" cy="498.9" r="4" fill="#9370db"/><circle cx="447.0" cy="582.4" r="4" fill="#1f77b4"/><circle cx="471.3" cy="577.3" r="4" fill="#db7093"/><circle cx="424.6" cy="572.6" r="4" fill="#32cd32"/><circle cx="509.1" cy="546.1" r="4" fill="#32cd32"/><circle cx="498.5" cy="533.9" r="4" fill="#db7093"/><circle cx="423.2" cy="579.7" r="4" fill="#1f77b4"/><circle cx="511.0" cy="560.4" r="4" fill="#9370db"/><circle cx="481.4" cy="548.3" r="4" fill="#db7093"/><circle cx="430.4" cy="539.8" r="4" fill="#32cd32"/><circle cx="428.5" cy="562.8" r="4" fill="#32cd32"/><circle cx="466.7" cy="563.5" r="4" fill="#db7093"/><circle cx="493.7" cy="574.0" r="4" fill="#db7093"/><circle cx="516.4" cy="400.6" r="4" fill="#9370db"/><circle cx="424.3" cy="583.1" r="4" fill="#1f77b4"/><circle cx="423.7" cy="568.1" r="4" fill="#32cd32"/><circle cx="445.9" cy="592.1" r="4" fill="#1f77b4"/><circle cx="470.6" cy="598.3" r="4" fill="#9370db"/><circle cx="427.3" cy="584.5" r="4" fill="#1f77b4"/><circle cx="502.0" cy="552.5" r="4" fill="#db7093"/><circle cx="499.3" cy="559.1" r="4" fill="#db7093"/><circle cx="428.8" cy="536.7" r="4" fill="#32cd32"/><circle cx="435.7" cy="587.8" r="4" fill="#1f77b4"/><circle cx="418.1" cy="592.1" r="4" fill="#1f77b4"/><circle cx="538.4" cy="458.9" r="4" fill="#9370db"/><circle cx="406.6" cy="591.5" r="4" fill="#1f77b4"/><circle cx="439.7" cy="564.3" r="4" fill="#1f77b4"/><circle cx="466.6" cy="554.7" r="4" fill="#db7093"/><circle cx="468.0" cy="475.2" r="4" fill="#9370db"/><circle cx="493.8" cy="558.3" r="4" fill="#db7093"/><circle cx="447.6" cy="540.9" r="4" fill="#9370db"/><circle cx="431.2" cy="583.0" r="4" fill="#1f77b4"/><circle cx="438.9" cy="582.8" r="4" fill="#1f77b4"/><circle cx="476.3" cy="531.4" r="4" fill="#db7093"/><circle cx="522.1" cy="573.5" r="4" fill="#32cd32"/><circle cx="497.8" cy="540.3" r="4" fill="#db7093"/><circle cx="406.1" cy="595.8" r="4" fill="#1f77b4"/><circle cx="432.2" cy="530.2" r="4" fill="#32cd32"/><circle cx="468.4" cy="527.8" r="4" fill="#9370db"/><circle cx="525.4" cy="576.1" r="4" fill="#db7093"/><circle cx="472.7" cy="544.4" r="4" fill="#db7093"/><circle cx="421.3" cy="546.2" r="4" fill="#32cd32"/><circle cx="472.6" cy="587.8" r="4" fill="#1f77b4"/><circle cx="460.7" cy="512.1" r="4" fill="#9370db"/><circle cx="516.9" cy="524.6" r="4" fill="#9370db"/><circle cx="427.1" cy="575.6" r="4" fill="#32cd32"/><circle cx="413.0" cy="597.3" r="4" fill="#1f77b4"/><circle cx="511.0" cy="532.4" r="4" fill="#9370db"/><circle cx="443.9" cy="582.3" r="4" fill="#1f77b4"/><circle cx="423.8" cy="548.7" r="4" fill="#32cd32"/><circle cx="447.6" cy="597.3" r="4" fill="#ffa500"/><circle cx="419.0" cy="537.9" r="4" fill="#32cd32"/><circle cx="433.8" cy="562.6" r="4" fill="#32cd32"/><circle cx="536.5" cy="560.4" r="4" fill="#9370db"/><circle cx="419.0" cy="588.4" r="4" fill="#1f77b4"/><circle cx="442.8" cy="595.0" r="4" fill="#1f77b4"/><circle cx="544.6" cy="568.0" r="4" fill="#db7093"/><circle cx="405.0" cy="601.5" r="4" fill="#1f77b4"/><circle cx="495.4" cy="537.0" r="4" fill="#9370db"/><circle cx="493.2" cy="541.3" r="4" fill="#db7093"/><circle cx="512.3" cy="586.5" r="4" fill="#9370db"/><circle cx="429.4" cy="572.3" r="4" fill="#32cd32"/><circle cx="572.8" cy="572.0" r="4" fill="#9370db"/><circle cx="434.3" cy="536.0" r="4" fill="#32cd32"/><circle cx="455.3" cy="556.5" r="4" fill="#db7093"/><circle cx="520.2" cy="538.3" r="4" fill="#9370db"/><circle cx="422.5" cy="560.0" r="4" fill="#32cd32"/><circle cx="426.9" cy="529.5" r="4" fill="#32cd32"/><circle cx="478.5" cy="546.3" r="4" fill="#db7093"/><circle cx="530.6" cy="582.6" r="4" fill="#9370db"/><circle cx="498.0" cy="570.9" r="4" fill="#32cd32"/><circle cx="459.3" cy="576.5" r="4" fill="#1f77b4"/><circle cx="440.0" cy="601.5" r="4" fill="#1f77b4"/><circle cx="516.3" cy="522.8" r="4" fill="#9370db"/><circle cx="471.0" cy="574.8" r="4" fill="#1f77b4"/><circle cx="543.0" cy="440.7" r="4" fill="#32cd32"/><circle cx="416.4" cy="555.4" r="4" fill="#32cd32"/><circle cx="432.6" cy="552.4" r="4" fill="#32cd32"/><circle cx="402.3" cy="598.4" r="4" fill="#1f77b4"/><circle cx="421.0" cy="601.8" r="4" fill="#32cd32"/><circle cx="423.3" cy="554.3" r="4" fill="#32cd32"/><circle cx="522.1" cy="446.5" r="4" fill="#9370db"/><circle cx="503.2" cy="533.7" r="4" fill="#9370db"/><circle cx="533.2" cy="561.7" r="4" fill="#db7093"/><circle cx="412.7" cy="593.8" r="4" fill="#1f77b4"/><circle cx="488.6" cy="567.8" r="4" fill="#db7093"/><circle cx="481.0" cy="498.7" r="4" fill="#9370db"/><circle cx="576.8" cy="565.7" r="4" fill="#db7093"/><circle cx="440.1" cy="550.4" r="4" fill="#32cd32"/><circle cx="463.0" cy="481.6" r="4" fill="#9370db"/><circle cx="446.0" cy="562.0" r="4" fill="#32cd32"/><circle cx="422.3" cy="573.5" r="4" fill="#32cd32"/><circle cx="482.8" cy="538.2" r="4" fill="#db7093"/><circle cx="515.6" cy="497.4" r="4" fill="#db7093"/><circle cx="492.1" cy="548.1" r="4" fill="#db7093"/><circle cx="409.0" cy="596.8" r="4" fill="#1f77b4"/><circle cx="422.7" cy="552.7" r="4" fill="#32cd32"/><circle cx="431.7" cy="555.8" r="4" fill="#32cd32"/><circle cx="454.6" cy="552.1" r="4" fill="#db7093"/><circle cx="438.9" cy="587.1" r="4" fill="#1f77b4"/><circle cx="522.8" cy="572.9" r="4" fill="#9370db"/><circle cx="496.8" cy="548.3" r="4" fill="#db7093"/><circle cx="410.0" cy="601.8" r="4" fill="#ffa500"/><circle cx="507.1" cy="570.9" r="4" fill="#9370db"/><circle cx="432.1" cy="594.7" r="4" fill="#1f77b4"/><circle cx="442.2" cy="550.4" r="4" fill="#32cd32"/><circle cx="417.9" cy="581.0" r="4" fill="#1f77b4"/><circle cx="497.3" cy="555.3" r="4" fill="#db7093"/><circle cx="478.5" cy="533.0" r="4" fill="#db7093"/><circle cx="528.6" cy="440.0" r="4" fill="#32cd32"/><circle cx="416.2" cy="586.7" r="4" fill="#1f77b4"/><circle cx="438.9" cy="595.0" r="4" fill="#1f77b4"/><circle cx="478.0" cy="575.0" r="4" fill="#9370db"/><circle cx="474.5" cy="498.7" r="4" fill="#9370db"/><circle cx="457.0" cy="540.4" r="4" fill="#db7093"/><circle cx="425.0" cy="596.2" r="4" fill="#1f77b4"/><circle cx="480.3" cy="540.5" r="4" fill="#db7093"/><circle cx="540.0" cy="461.2" r="4" fill="#9370db"/><circle cx="438.9" cy="561.9" r="4" fill="#1f77b4"/><circle cx="490.2" cy="557.8" r="4" fill="#db7093"/><circle cx="498.8" cy="546.7" r="4" fill="#db7093"/>
</g>
<rect x="398.8" y="383.7" width="218.6" height="218.5" fill="none" stroke="#1a1a1a" stroke-width="1.3"/>
<line x1="398.8" y1="602.2" x2="617.4" y2="493" stroke="#000" stroke-width="1.1" stroke-dasharray="3.8 1.75"/>
<text x="472.6" y="395.1" font-size="13.2" font-weight="bold" font-style="normal" fill="#000" text-anchor="start">Net emissions</text>
<text x="574.3" y="592.8" font-size="12" font-weight="bold" font-style="italic" fill="#000" text-anchor="start">n=172</text>
<text x="557.2" y="505.2" font-size="10.8" font-weight="bold" font-style="italic" transform="rotate(-26.6 557.2 505.2)">net negative</text>
<text x="560.3" y="548.2" font-size="10.8" font-weight="bold" font-style="italic" transform="rotate(-26.6 560.3 548.2)">net positive</text>
<path d="M588.8,500 L588.8,516.5" stroke="#000" stroke-width="1.6"/>
<path d="M588.8,495 L584.8,504 L592.8,504 Z M588.8,521.5 L584.8,512.5 L592.8,512.5 Z" fill="#000"/>
</svg>
</div></body></html>
